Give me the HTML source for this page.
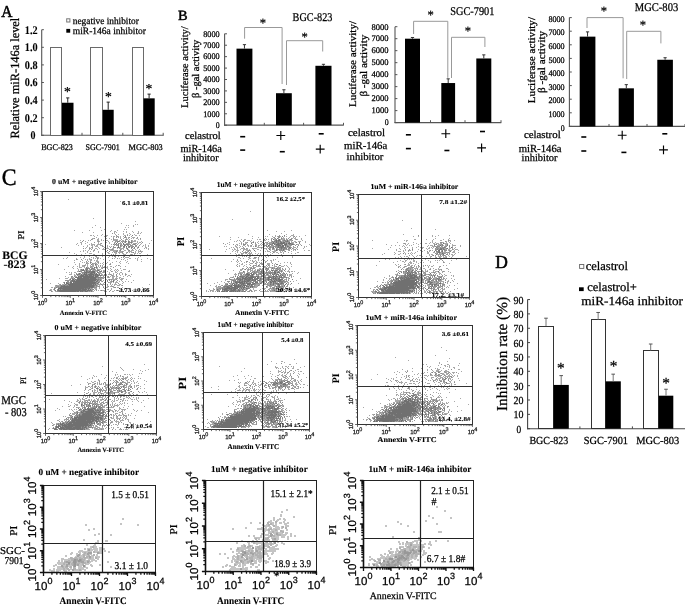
<!DOCTYPE html>
<html><head><meta charset="utf-8"><style>
html,body{margin:0;padding:0;background:#fff;}
svg{display:block;font-family:"Liberation Serif",serif;}
text{text-rendering:geometricPrecision;stroke:#000;stroke-width:0.25px;}
text[font-weight=bold]{stroke-width:0.1px;}
svg{filter:blur(0.5px);}
</style></head><body>
<svg width="685" height="610" viewBox="0 0 685 610">
<rect width="685" height="610" fill="#fff"/>
<text x="1.30" y="16.70" font-size="16.60" textLength="11.20" lengthAdjust="spacingAndGlyphs" style="stroke-width:0.5px">A</text>
<rect x="66.70" y="18.80" width="3.20" height="3.20" fill="#fff" stroke="#777" stroke-width="1.0"/>
<text x="72.80" y="23.50" font-size="9.60" textLength="66.00" lengthAdjust="spacingAndGlyphs">negative inhibitor</text>
<rect x="66.30" y="28.90" width="3.90" height="3.80" fill="#000"/>
<text x="72.80" y="34.10" font-size="9.80" textLength="73.20" lengthAdjust="spacingAndGlyphs">miR-146a inhibitor</text>
<text transform="translate(19.30,138.60) rotate(-90)" font-size="12.60" textLength="120.90" lengthAdjust="spacingAndGlyphs">Relative miR-146a level</text>
<line x1="41.70" y1="135.30" x2="43.90" y2="135.30" stroke="#555" stroke-width="1.0"/>
<text x="30.60" y="139.20" font-size="11.80" font-weight="bold" textLength="5.00" lengthAdjust="spacingAndGlyphs">0</text>
<line x1="41.70" y1="117.70" x2="43.90" y2="117.70" stroke="#555" stroke-width="1.0"/>
<text x="24.80" y="121.60" font-size="11.80" font-weight="bold" textLength="12.80" lengthAdjust="spacingAndGlyphs">0.2</text>
<line x1="41.70" y1="100.10" x2="43.90" y2="100.10" stroke="#555" stroke-width="1.0"/>
<text x="24.80" y="104.00" font-size="11.80" font-weight="bold" textLength="12.80" lengthAdjust="spacingAndGlyphs">0.4</text>
<line x1="41.70" y1="82.50" x2="43.90" y2="82.50" stroke="#555" stroke-width="1.0"/>
<text x="24.80" y="86.40" font-size="11.80" font-weight="bold" textLength="12.80" lengthAdjust="spacingAndGlyphs">0.6</text>
<line x1="41.70" y1="64.90" x2="43.90" y2="64.90" stroke="#555" stroke-width="1.0"/>
<text x="24.80" y="68.80" font-size="11.80" font-weight="bold" textLength="12.80" lengthAdjust="spacingAndGlyphs">0.8</text>
<line x1="41.70" y1="47.30" x2="43.90" y2="47.30" stroke="#555" stroke-width="1.0"/>
<text x="24.80" y="51.20" font-size="11.80" font-weight="bold" textLength="12.80" lengthAdjust="spacingAndGlyphs">1.0</text>
<line x1="41.70" y1="29.70" x2="43.90" y2="29.70" stroke="#555" stroke-width="1.0"/>
<text x="24.80" y="33.60" font-size="11.80" font-weight="bold" textLength="12.80" lengthAdjust="spacingAndGlyphs">1.2</text>
<line x1="41.70" y1="29.70" x2="41.70" y2="135.80" stroke="#555" stroke-width="1.1"/>
<line x1="41.20" y1="135.30" x2="163.70" y2="135.30" stroke="#555" stroke-width="1.1"/>
<line x1="82.00" y1="132.80" x2="82.00" y2="135.30" stroke="#555" stroke-width="1.0"/>
<line x1="122.80" y1="132.80" x2="122.80" y2="135.30" stroke="#555" stroke-width="1.0"/>
<line x1="163.20" y1="132.80" x2="163.20" y2="135.30" stroke="#555" stroke-width="1.0"/>
<rect x="50.50" y="47.50" width="11.00" height="88.00" fill="#fff" stroke="#6a6a6a" stroke-width="1.0"/>
<rect x="62.00" y="102.74" width="11.50" height="32.56" fill="#000"/>
<line x1="67.75" y1="102.74" x2="67.75" y2="97.90" stroke="#222" stroke-width="1.0"/>
<line x1="66.15" y1="97.90" x2="69.35" y2="97.90" stroke="#222" stroke-width="1.0"/>
<text x="63.98" y="96.05" font-size="13.66">*</text>
<rect x="90.50" y="47.50" width="12.00" height="88.00" fill="#fff" stroke="#6a6a6a" stroke-width="1.0"/>
<rect x="102.70" y="109.78" width="11.00" height="25.52" fill="#000"/>
<line x1="108.20" y1="109.78" x2="108.20" y2="102.12" stroke="#222" stroke-width="1.0"/>
<line x1="106.60" y1="102.12" x2="109.80" y2="102.12" stroke="#222" stroke-width="1.0"/>
<text x="105.08" y="101.05" font-size="13.66">*</text>
<rect x="132.50" y="47.50" width="11.00" height="88.00" fill="#fff" stroke="#6a6a6a" stroke-width="1.0"/>
<rect x="143.50" y="98.34" width="11.20" height="36.96" fill="#000"/>
<line x1="149.10" y1="98.34" x2="149.10" y2="94.12" stroke="#222" stroke-width="1.0"/>
<line x1="147.50" y1="94.12" x2="150.70" y2="94.12" stroke="#222" stroke-width="1.0"/>
<text x="145.48" y="92.95" font-size="13.66">*</text>
<text x="41.20" y="150.40" font-size="8.60" textLength="31.70" lengthAdjust="spacingAndGlyphs">BGC-823</text>
<text x="85.60" y="150.40" font-size="8.60" textLength="34.30" lengthAdjust="spacingAndGlyphs">SGC-7901</text>
<text x="128.50" y="150.40" font-size="8.60" textLength="34.30" lengthAdjust="spacingAndGlyphs">MGC-803</text>
<text x="177.90" y="19.60" font-size="14.00" textLength="9.60" lengthAdjust="spacingAndGlyphs" style="stroke-width:0.5px">B</text>
<line x1="224.60" y1="125.20" x2="227.00" y2="125.20" stroke="#555" stroke-width="1.0"/>
<text x="215.70" y="128.00" font-size="8.60" textLength="3.90" lengthAdjust="spacingAndGlyphs">0</text>
<line x1="224.60" y1="113.78" x2="227.00" y2="113.78" stroke="#555" stroke-width="1.0"/>
<text x="203.20" y="116.58" font-size="8.60" textLength="16.40" lengthAdjust="spacingAndGlyphs">1000</text>
<line x1="224.60" y1="102.35" x2="227.00" y2="102.35" stroke="#555" stroke-width="1.0"/>
<text x="203.20" y="105.15" font-size="8.60" textLength="16.40" lengthAdjust="spacingAndGlyphs">2000</text>
<line x1="224.60" y1="90.92" x2="227.00" y2="90.92" stroke="#555" stroke-width="1.0"/>
<text x="203.20" y="93.72" font-size="8.60" textLength="16.40" lengthAdjust="spacingAndGlyphs">3000</text>
<line x1="224.60" y1="79.50" x2="227.00" y2="79.50" stroke="#555" stroke-width="1.0"/>
<text x="203.20" y="82.30" font-size="8.60" textLength="16.40" lengthAdjust="spacingAndGlyphs">4000</text>
<line x1="224.60" y1="68.08" x2="227.00" y2="68.08" stroke="#555" stroke-width="1.0"/>
<text x="203.20" y="70.88" font-size="8.60" textLength="16.40" lengthAdjust="spacingAndGlyphs">5000</text>
<line x1="224.60" y1="56.65" x2="227.00" y2="56.65" stroke="#555" stroke-width="1.0"/>
<text x="203.20" y="59.45" font-size="8.60" textLength="16.40" lengthAdjust="spacingAndGlyphs">6000</text>
<line x1="224.60" y1="45.22" x2="227.00" y2="45.22" stroke="#555" stroke-width="1.0"/>
<text x="203.20" y="48.02" font-size="8.60" textLength="16.40" lengthAdjust="spacingAndGlyphs">7000</text>
<line x1="224.60" y1="33.80" x2="227.00" y2="33.80" stroke="#555" stroke-width="1.0"/>
<text x="203.20" y="36.60" font-size="8.60" textLength="16.40" lengthAdjust="spacingAndGlyphs">8000</text>
<line x1="224.60" y1="33.80" x2="224.60" y2="125.70" stroke="#555" stroke-width="1.1"/>
<line x1="224.10" y1="125.20" x2="343.70" y2="125.20" stroke="#555" stroke-width="1.2"/>
<line x1="264.30" y1="122.80" x2="264.30" y2="125.20" stroke="#555" stroke-width="1.0"/>
<line x1="303.60" y1="122.80" x2="303.60" y2="125.20" stroke="#555" stroke-width="1.0"/>
<line x1="343.50" y1="122.80" x2="343.50" y2="125.20" stroke="#555" stroke-width="1.0"/>
<rect x="236.50" y="48.65" width="15.90" height="76.55" fill="#000"/>
<line x1="244.45" y1="48.65" x2="244.45" y2="44.65" stroke="#333" stroke-width="1.0"/>
<line x1="242.85" y1="44.65" x2="246.05" y2="44.65" stroke="#333" stroke-width="1.0"/>
<rect x="276.00" y="93.21" width="15.80" height="31.99" fill="#000"/>
<line x1="283.90" y1="93.21" x2="283.90" y2="89.78" stroke="#333" stroke-width="1.0"/>
<line x1="282.30" y1="89.78" x2="285.50" y2="89.78" stroke="#333" stroke-width="1.0"/>
<rect x="315.40" y="65.79" width="16.10" height="59.41" fill="#000"/>
<line x1="323.45" y1="65.79" x2="323.45" y2="64.30" stroke="#333" stroke-width="1.0"/>
<line x1="321.85" y1="64.30" x2="325.05" y2="64.30" stroke="#333" stroke-width="1.0"/>
<path d="M244.6 38.7V27.5H282.1V84" stroke="#999" stroke-width="1.0" fill="none"/>
<path d="M286.5 85V40.7H322.7V51.5" stroke="#999" stroke-width="1.0" fill="none"/>
<text x="259.66" y="26.93" font-size="12.57">*</text>
<text x="301.46" y="40.73" font-size="12.57">*</text>
<text x="292.60" y="20.90" font-size="11.80" textLength="39.80" lengthAdjust="spacingAndGlyphs">BGC-823</text>
<text transform="translate(188.00,108.00) rotate(-90)" font-size="10.20" textLength="81.80" lengthAdjust="spacingAndGlyphs">Luciferase activity/</text>
<text transform="translate(198.50,98.00) rotate(-90)" font-size="10.20" textLength="58.31" lengthAdjust="spacingAndGlyphs">β -gal activity</text>
<text x="185.00" y="138.60" font-size="10.60" textLength="35.70" lengthAdjust="spacingAndGlyphs">celastrol</text>
<text x="180.50" y="151.60" font-size="10.80" textLength="41.29" lengthAdjust="spacingAndGlyphs">miR-146a</text>
<text x="182.90" y="161.40" font-size="10.40" textLength="35.70" lengthAdjust="spacingAndGlyphs">inhibitor</text>
<path d="M240.20 136.70H245.20" stroke="#000" stroke-width="1.6" fill="none"/>
<path d="M276.40 135.50H285.20M280.80 131.10V139.90" stroke="#000" stroke-width="1.15" fill="none"/>
<path d="M318.70 133.80H323.70" stroke="#000" stroke-width="1.6" fill="none"/>
<path d="M240.20 150.10H245.20" stroke="#000" stroke-width="1.6" fill="none"/>
<path d="M279.80 151.70H284.80" stroke="#000" stroke-width="1.6" fill="none"/>
<path d="M315.80 149.10H324.60M320.20 144.70V153.50" stroke="#000" stroke-width="1.15" fill="none"/>
<line x1="395.00" y1="122.60" x2="397.40" y2="122.60" stroke="#555" stroke-width="1.0"/>
<text x="384.70" y="125.40" font-size="8.60" textLength="3.90" lengthAdjust="spacingAndGlyphs">0</text>
<line x1="395.00" y1="110.61" x2="397.40" y2="110.61" stroke="#555" stroke-width="1.0"/>
<text x="371.60" y="113.41" font-size="8.60" textLength="17.00" lengthAdjust="spacingAndGlyphs">1000</text>
<line x1="395.00" y1="98.62" x2="397.40" y2="98.62" stroke="#555" stroke-width="1.0"/>
<text x="371.60" y="101.42" font-size="8.60" textLength="17.00" lengthAdjust="spacingAndGlyphs">2000</text>
<line x1="395.00" y1="86.64" x2="397.40" y2="86.64" stroke="#555" stroke-width="1.0"/>
<text x="371.60" y="89.44" font-size="8.60" textLength="17.00" lengthAdjust="spacingAndGlyphs">3000</text>
<line x1="395.00" y1="74.65" x2="397.40" y2="74.65" stroke="#555" stroke-width="1.0"/>
<text x="371.60" y="77.45" font-size="8.60" textLength="17.00" lengthAdjust="spacingAndGlyphs">4000</text>
<line x1="395.00" y1="62.66" x2="397.40" y2="62.66" stroke="#555" stroke-width="1.0"/>
<text x="371.60" y="65.46" font-size="8.60" textLength="17.00" lengthAdjust="spacingAndGlyphs">5000</text>
<line x1="395.00" y1="50.67" x2="397.40" y2="50.67" stroke="#555" stroke-width="1.0"/>
<text x="371.60" y="53.47" font-size="8.60" textLength="17.00" lengthAdjust="spacingAndGlyphs">6000</text>
<line x1="395.00" y1="38.69" x2="397.40" y2="38.69" stroke="#555" stroke-width="1.0"/>
<text x="371.60" y="41.49" font-size="8.60" textLength="17.00" lengthAdjust="spacingAndGlyphs">7000</text>
<line x1="395.00" y1="26.70" x2="397.40" y2="26.70" stroke="#555" stroke-width="1.0"/>
<text x="371.60" y="29.50" font-size="8.60" textLength="17.00" lengthAdjust="spacingAndGlyphs">8000</text>
<line x1="395.00" y1="26.70" x2="395.00" y2="123.10" stroke="#555" stroke-width="1.1"/>
<line x1="394.50" y1="122.60" x2="501.30" y2="122.60" stroke="#555" stroke-width="1.2"/>
<line x1="430.50" y1="120.20" x2="430.50" y2="122.60" stroke="#555" stroke-width="1.0"/>
<line x1="465.00" y1="120.20" x2="465.00" y2="122.60" stroke="#555" stroke-width="1.0"/>
<line x1="501.00" y1="120.20" x2="501.00" y2="122.60" stroke="#555" stroke-width="1.0"/>
<rect x="405.00" y="38.69" width="15.00" height="83.91" fill="#000"/>
<line x1="412.50" y1="38.69" x2="412.50" y2="37.49" stroke="#333" stroke-width="1.0"/>
<line x1="410.90" y1="37.49" x2="414.10" y2="37.49" stroke="#333" stroke-width="1.0"/>
<rect x="441.30" y="83.04" width="13.80" height="39.56" fill="#000"/>
<line x1="448.20" y1="83.04" x2="448.20" y2="78.85" stroke="#333" stroke-width="1.0"/>
<line x1="446.60" y1="78.85" x2="449.80" y2="78.85" stroke="#333" stroke-width="1.0"/>
<rect x="476.30" y="58.47" width="15.00" height="64.13" fill="#000"/>
<line x1="483.80" y1="58.47" x2="483.80" y2="54.87" stroke="#333" stroke-width="1.0"/>
<line x1="482.20" y1="54.87" x2="485.40" y2="54.87" stroke="#333" stroke-width="1.0"/>
<path d="M413.6 34V21.3H447.8V77.8" stroke="#999" stroke-width="1.0" fill="none"/>
<path d="M451.5 78V37.3H484.9V47" stroke="#999" stroke-width="1.0" fill="none"/>
<text x="427.46" y="19.13" font-size="12.57">*</text>
<text x="464.66" y="35.13" font-size="12.57">*</text>
<text x="450.20" y="14.90" font-size="11.80" textLength="44.20" lengthAdjust="spacingAndGlyphs">SGC-7901</text>
<text transform="translate(356.00,107.00) rotate(-90)" font-size="10.20" textLength="86.10" lengthAdjust="spacingAndGlyphs">Luciferase activity/</text>
<text transform="translate(366.80,96.60) rotate(-90)" font-size="10.20" textLength="61.91" lengthAdjust="spacingAndGlyphs">β -gal activity</text>
<text x="347.90" y="136.30" font-size="10.60" textLength="37.30" lengthAdjust="spacingAndGlyphs">celastrol</text>
<text x="344.00" y="149.40" font-size="10.80" textLength="43.29" lengthAdjust="spacingAndGlyphs">miR-146a</text>
<text x="346.60" y="160.00" font-size="10.40" textLength="36.80" lengthAdjust="spacingAndGlyphs">inhibitor</text>
<path d="M405.90 134.80H410.90" stroke="#000" stroke-width="1.6" fill="none"/>
<path d="M441.40 133.70H450.20M445.80 129.30V138.10" stroke="#000" stroke-width="1.15" fill="none"/>
<path d="M480.00 131.50H485.00" stroke="#000" stroke-width="1.6" fill="none"/>
<path d="M405.90 148.60H410.90" stroke="#000" stroke-width="1.6" fill="none"/>
<path d="M444.40 150.50H449.40" stroke="#000" stroke-width="1.6" fill="none"/>
<path d="M477.20 147.80H486.00M481.60 143.40V152.20" stroke="#000" stroke-width="1.15" fill="none"/>
<line x1="569.40" y1="126.40" x2="571.80" y2="126.40" stroke="#555" stroke-width="1.0"/>
<text x="560.70" y="130.50" font-size="8.60" textLength="3.90" lengthAdjust="spacingAndGlyphs">0</text>
<line x1="569.40" y1="112.80" x2="571.80" y2="112.80" stroke="#555" stroke-width="1.0"/>
<text x="548.40" y="116.90" font-size="8.60" textLength="16.20" lengthAdjust="spacingAndGlyphs">1000</text>
<line x1="569.40" y1="99.20" x2="571.80" y2="99.20" stroke="#555" stroke-width="1.0"/>
<text x="548.40" y="103.30" font-size="8.60" textLength="16.20" lengthAdjust="spacingAndGlyphs">2000</text>
<line x1="569.40" y1="85.60" x2="571.80" y2="85.60" stroke="#555" stroke-width="1.0"/>
<text x="548.40" y="89.70" font-size="8.60" textLength="16.20" lengthAdjust="spacingAndGlyphs">3000</text>
<line x1="569.40" y1="72.00" x2="571.80" y2="72.00" stroke="#555" stroke-width="1.0"/>
<text x="548.40" y="76.10" font-size="8.60" textLength="16.20" lengthAdjust="spacingAndGlyphs">4000</text>
<line x1="569.40" y1="58.40" x2="571.80" y2="58.40" stroke="#555" stroke-width="1.0"/>
<text x="548.40" y="62.50" font-size="8.60" textLength="16.20" lengthAdjust="spacingAndGlyphs">5000</text>
<line x1="569.40" y1="44.80" x2="571.80" y2="44.80" stroke="#555" stroke-width="1.0"/>
<text x="548.40" y="48.90" font-size="8.60" textLength="16.20" lengthAdjust="spacingAndGlyphs">6000</text>
<line x1="569.40" y1="31.20" x2="571.80" y2="31.20" stroke="#555" stroke-width="1.0"/>
<text x="548.40" y="35.30" font-size="8.60" textLength="16.20" lengthAdjust="spacingAndGlyphs">7000</text>
<line x1="569.40" y1="17.60" x2="571.80" y2="17.60" stroke="#555" stroke-width="1.0"/>
<text x="548.40" y="21.70" font-size="8.60" textLength="16.20" lengthAdjust="spacingAndGlyphs">8000</text>
<line x1="569.40" y1="17.60" x2="569.40" y2="126.90" stroke="#555" stroke-width="1.1"/>
<line x1="568.90" y1="126.40" x2="685.00" y2="126.40" stroke="#555" stroke-width="1.2"/>
<line x1="609.00" y1="124.00" x2="609.00" y2="126.40" stroke="#555" stroke-width="1.0"/>
<line x1="647.00" y1="124.00" x2="647.00" y2="126.40" stroke="#555" stroke-width="1.0"/>
<line x1="685.00" y1="124.00" x2="685.00" y2="126.40" stroke="#555" stroke-width="1.0"/>
<rect x="579.70" y="36.64" width="15.70" height="89.76" fill="#000"/>
<line x1="587.55" y1="36.64" x2="587.55" y2="31.88" stroke="#333" stroke-width="1.0"/>
<line x1="585.95" y1="31.88" x2="589.15" y2="31.88" stroke="#333" stroke-width="1.0"/>
<rect x="618.70" y="88.32" width="15.20" height="38.08" fill="#000"/>
<line x1="626.30" y1="88.32" x2="626.30" y2="84.65" stroke="#333" stroke-width="1.0"/>
<line x1="624.70" y1="84.65" x2="627.90" y2="84.65" stroke="#333" stroke-width="1.0"/>
<rect x="657.30" y="59.76" width="15.60" height="66.64" fill="#000"/>
<line x1="665.10" y1="59.76" x2="665.10" y2="57.72" stroke="#333" stroke-width="1.0"/>
<line x1="663.50" y1="57.72" x2="666.70" y2="57.72" stroke="#333" stroke-width="1.0"/>
<path d="M587 28V17.6H623.1V78.3" stroke="#999" stroke-width="1.0" fill="none"/>
<path d="M626.7 79V31.3H660.9V43.4" stroke="#999" stroke-width="1.0" fill="none"/>
<text x="600.66" y="15.13" font-size="12.57">*</text>
<text x="639.66" y="29.33" font-size="12.57">*</text>
<text x="634.80" y="11.20" font-size="11.80" textLength="43.40" lengthAdjust="spacingAndGlyphs">MGC-803</text>
<text transform="translate(534.60,103.20) rotate(-90)" font-size="10.40" textLength="86.20" lengthAdjust="spacingAndGlyphs">Luciferase activity/</text>
<text transform="translate(544.60,92.90) rotate(-90)" font-size="10.40" textLength="62.11" lengthAdjust="spacingAndGlyphs">β -gal activity</text>
<text x="523.90" y="138.40" font-size="10.60" textLength="36.80" lengthAdjust="spacingAndGlyphs">celastrol</text>
<text x="518.70" y="152.00" font-size="10.80" textLength="42.79" lengthAdjust="spacingAndGlyphs">miR-146a</text>
<text x="521.60" y="161.20" font-size="10.40" textLength="35.90" lengthAdjust="spacingAndGlyphs">inhibitor</text>
<path d="M581.30 137.00H586.30" stroke="#000" stroke-width="1.6" fill="none"/>
<path d="M617.80 135.20H626.60M622.20 130.80V139.60" stroke="#000" stroke-width="1.15" fill="none"/>
<path d="M662.30 133.80H667.30" stroke="#000" stroke-width="1.6" fill="none"/>
<path d="M581.30 151.00H586.30" stroke="#000" stroke-width="1.6" fill="none"/>
<path d="M621.40 152.40H626.40" stroke="#000" stroke-width="1.6" fill="none"/>
<path d="M659.10 149.80H667.90M663.50 145.40V154.20" stroke="#000" stroke-width="1.15" fill="none"/>
<text x="495.20" y="267.80" font-size="18.40" textLength="12.60" lengthAdjust="spacingAndGlyphs" style="stroke-width:0.6px">D</text>
<rect x="579.60" y="264.50" width="4.20" height="3.90" fill="#fff" stroke="#666" stroke-width="0.9"/>
<text x="585.70" y="269.80" font-size="12.40" textLength="42.30" lengthAdjust="spacingAndGlyphs">celastrol</text>
<rect x="579.00" y="287.30" width="4.70" height="3.80" fill="#000"/>
<text x="587.20" y="291.10" font-size="12.40" textLength="49.60" lengthAdjust="spacingAndGlyphs">celastrol+</text>
<text x="581.30" y="304.90" font-size="12.40" textLength="101.70" lengthAdjust="spacingAndGlyphs">miR-146a inhibitor</text>
<line x1="527.60" y1="428.70" x2="530.00" y2="428.70" stroke="#444" stroke-width="1.0"/>
<text x="516.60" y="432.70" font-size="10.80" textLength="4.70" lengthAdjust="spacingAndGlyphs">0</text>
<line x1="527.60" y1="414.35" x2="530.00" y2="414.35" stroke="#444" stroke-width="1.0"/>
<text x="513.60" y="418.35" font-size="10.80" textLength="10.00" lengthAdjust="spacingAndGlyphs">10</text>
<line x1="527.60" y1="400.00" x2="530.00" y2="400.00" stroke="#444" stroke-width="1.0"/>
<text x="513.60" y="404.00" font-size="10.80" textLength="10.00" lengthAdjust="spacingAndGlyphs">20</text>
<line x1="527.60" y1="385.65" x2="530.00" y2="385.65" stroke="#444" stroke-width="1.0"/>
<text x="513.60" y="389.65" font-size="10.80" textLength="10.00" lengthAdjust="spacingAndGlyphs">30</text>
<line x1="527.60" y1="371.30" x2="530.00" y2="371.30" stroke="#444" stroke-width="1.0"/>
<text x="513.60" y="375.30" font-size="10.80" textLength="10.00" lengthAdjust="spacingAndGlyphs">40</text>
<line x1="527.60" y1="356.95" x2="530.00" y2="356.95" stroke="#444" stroke-width="1.0"/>
<text x="513.60" y="360.95" font-size="10.80" textLength="10.00" lengthAdjust="spacingAndGlyphs">50</text>
<line x1="527.60" y1="342.60" x2="530.00" y2="342.60" stroke="#444" stroke-width="1.0"/>
<text x="513.60" y="346.60" font-size="10.80" textLength="10.00" lengthAdjust="spacingAndGlyphs">60</text>
<line x1="527.60" y1="328.25" x2="530.00" y2="328.25" stroke="#444" stroke-width="1.0"/>
<text x="513.60" y="332.25" font-size="10.80" textLength="10.00" lengthAdjust="spacingAndGlyphs">70</text>
<line x1="527.60" y1="313.90" x2="530.00" y2="313.90" stroke="#444" stroke-width="1.0"/>
<text x="513.60" y="317.90" font-size="10.80" textLength="10.00" lengthAdjust="spacingAndGlyphs">80</text>
<line x1="527.60" y1="299.55" x2="530.00" y2="299.55" stroke="#444" stroke-width="1.0"/>
<text x="513.60" y="303.55" font-size="10.80" textLength="10.00" lengthAdjust="spacingAndGlyphs">90</text>
<line x1="527.60" y1="299.55" x2="527.60" y2="429.20" stroke="#444" stroke-width="1.1"/>
<line x1="527.10" y1="428.70" x2="685.00" y2="428.70" stroke="#444" stroke-width="1.1"/>
<line x1="579.90" y1="426.40" x2="579.90" y2="428.70" stroke="#444" stroke-width="1.0"/>
<line x1="632.40" y1="426.40" x2="632.40" y2="428.70" stroke="#444" stroke-width="1.0"/>
<text transform="translate(507.20,411.00) rotate(-90)" font-size="15.20" textLength="114.00" lengthAdjust="spacingAndGlyphs">Inhibition rate (%)</text>
<rect x="538.50" y="326.50" width="15.00" height="102.00" fill="#fff" stroke="#333" stroke-width="1.0"/>
<line x1="546.00" y1="326.10" x2="546.00" y2="318.20" stroke="#777" stroke-width="1.0"/>
<line x1="544.20" y1="318.20" x2="547.80" y2="318.20" stroke="#555" stroke-width="1.0"/>
<rect x="553.60" y="384.93" width="15.20" height="43.77" fill="#000"/>
<line x1="561.20" y1="384.93" x2="561.20" y2="375.61" stroke="#777" stroke-width="1.0"/>
<line x1="559.40" y1="375.61" x2="563.00" y2="375.61" stroke="#555" stroke-width="1.0"/>
<text x="557.07" y="372.72" font-size="15.30">*</text>
<rect x="591.50" y="319.50" width="14.00" height="109.00" fill="#fff" stroke="#333" stroke-width="1.0"/>
<line x1="598.15" y1="319.64" x2="598.15" y2="312.47" stroke="#777" stroke-width="1.0"/>
<line x1="596.35" y1="312.47" x2="599.95" y2="312.47" stroke="#555" stroke-width="1.0"/>
<rect x="605.60" y="381.34" width="15.20" height="47.36" fill="#000"/>
<line x1="613.20" y1="381.34" x2="613.20" y2="374.17" stroke="#777" stroke-width="1.0"/>
<line x1="611.40" y1="374.17" x2="615.00" y2="374.17" stroke="#555" stroke-width="1.0"/>
<text x="609.67" y="371.42" font-size="15.30">*</text>
<rect x="643.50" y="350.50" width="15.00" height="78.00" fill="#fff" stroke="#333" stroke-width="1.0"/>
<line x1="650.70" y1="350.49" x2="650.70" y2="344.03" stroke="#777" stroke-width="1.0"/>
<line x1="648.90" y1="344.03" x2="652.50" y2="344.03" stroke="#555" stroke-width="1.0"/>
<rect x="658.70" y="395.69" width="14.60" height="33.00" fill="#000"/>
<line x1="666.00" y1="395.69" x2="666.00" y2="389.24" stroke="#777" stroke-width="1.0"/>
<line x1="664.20" y1="389.24" x2="667.80" y2="389.24" stroke="#555" stroke-width="1.0"/>
<text x="662.17" y="388.32" font-size="15.30">*</text>
<text x="529.40" y="443.90" font-size="10.80" textLength="38.80" lengthAdjust="spacingAndGlyphs">BGC-823</text>
<text x="583.70" y="443.90" font-size="10.80" textLength="44.30" lengthAdjust="spacingAndGlyphs">SGC-7901</text>
<text x="636.20" y="443.90" font-size="10.80" textLength="43.00" lengthAdjust="spacingAndGlyphs">MGC-803</text>
<path d="M68 199.5h1m51 2h1m-28 17h1m41 3h1m-15 2h1m13 1h1m1 0h1m-43 1h1m30 0h1m1 0h1m4 0h1m-1 1h1m-42 1h1m7 0h1m24 0h1m2 0h1m-25 2h1m19 0h1m1 0h1m-53 1h1m14 0h1m11 0h1m9 0h1m5 0h1m-8 1h1m3 0h1m0 0h1m7 0h1m2 0h1m5 0h1m5 0h1m-57 1h1m10 0h1m20 0h1m1 0h1m9 0h1m6 0h1m4 0h1m2 0h1m-28 1h1m8 0h1m5 0h1m7 0h1m0 0h1m1 0h1m-39 1h1m12 0h1m2 0h1m4 0h1m3 0h1m2 0h1m3 0h1m-45 1h1m0 0h1m1 0h1m3 0h1m3 0h1m4 0h1m0 0h1m16 0h1m0 0h1m3 0h1m5 0h1m0 0h1m2 0h1m-46 1h1m9 0h1m1 0h1m4 0h1m1 0h1m0 0h1m1 0h1m1 0h1m1 0h1m2 0h1m7 0h1m-36 1h1m16 0h1m6 0h1m5 0h1m1 0h1m3 0h1m0 0h1m0 0h1m-43 1h1m0 0h1m4 0h1m7 0h1m2 0h1m10 0h1m2 0h1m2 0h1m1 0h1m2 0h1m1 0h1m2 0h1m0 0h1m-46 1h1m4 0h1m0 0h1m2 0h1m9 0h1m2 0h1m0 0h1m0 0h1m0 0h1m7 0h1m1 0h1m1 0h1m8 0h1m1 0h1m-61 1h1m7 0h1m1 0h1m6 0h1m0 0h1m2 0h1m1 0h1m2 0h1m0 0h1m5 0h1m0 0h1m0 0h1m1 0h1m1 0h1m0 0h1m1 0h1m0 0h1m4 0h1m3 0h1m1 0h1m0 0h1m15 0h1m-67 1h1m11 0h1m1 0h1m8 0h1m3 0h1m3 0h1m5 0h1m1 0h1m7 0h1m0 0h1m0 0h1m0 0h1m1 0h1m3 0h1m-62 1h1m0 0h1m5 0h1m10 0h1m7 0h1m2 0h1m4 0h1m0 0h1m4 0h1m3 0h1m7 0h1m4 0h1m1 0h1m0 0h1m-64 1h1m3 0h1m3 0h1m5 0h1m6 0h1m1 0h1m8 0h1m9 0h1m0 0h1m0 0h1m4 0h1m0 0h1m1 0h1m1 0h1m1 0h1m0 0h1m1 0h1m1 0h1m2 0h1m7 0h1m-105 1h1m30 0h1m4 0h1m7 0h1m1 0h1m0 0h1m0 0h1m0 0h1m2 0h1m0 0h1m0 0h1m0 0h1m10 0h1m2 0h1m1 0h1m0 0h1m2 0h1m9 0h1m1 0h1m2 0h1m1 0h1m2 0h1m4 0h1m-68 1h1m8 0h1m3 0h1m0 0h1m1 0h1m1 0h1m0 0h1m2 0h1m0 0h1m0 0h1m4 0h1m6 0h1m2 0h1m3 0h1m0 0h1m4 0h1m4 0h1m10 0h1m1 0h1m2 0h1m-66 1h1m3 0h1m4 0h1m2 0h1m0 0h1m0 0h1m5 0h1m3 0h1m1 0h1m1 0h1m9 0h1m8 0h1m0 0h1m4 0h1m1 0h1m3 0h1m2 0h1m2 0h1m-88 1h1m24 0h1m2 0h1m1 0h1m6 0h1m5 0h1m2 0h1m12 0h1m16 0h1m7 0h1m0 0h1m-62 1h1m4 0h1m1 0h1m2 0h1m0 0h1m2 0h1m3 0h1m1 0h1m0 0h1m0 0h1m0 0h1m3 0h1m0 0h1m3 0h1m1 0h1m0 0h1m0 0h1m0 0h1m0 0h1m9 0h1m3 0h1m6 0h1m1 0h1m1 0h1m-60 1h1m4 0h1m2 0h1m4 0h1m0 0h1m0 0h1m0 0h1m4 0h1m2 0h1m7 0h1m1 0h1m4 0h1m6 0h1m3 0h1m8 0h1m-66 1h1m1 0h1m2 0h1m4 0h1m16 0h1m0 0h1m0 0h1m0 0h1m0 0h1m0 0h1m0 0h1m2 0h1m4 0h1m0 0h1m5 0h1m0 0h1m0 0h1m2 0h1m1 0h1m1 0h1m-61 1h1m2 0h1m3 0h1m2 0h1m2 0h1m4 0h1m7 0h1m6 0h1m0 0h1m0 0h1m1 0h1m1 0h1m0 0h1m0 0h1m1 0h1m4 0h1m0 0h1m0 0h1m0 0h1m3 0h1m2 0h1m0 0h1m1 0h1m0 0h1m-74 1h1m17 0h1m10 0h1m8 0h1m0 0h1m3 0h1m2 0h1m0 0h1m1 0h1m0 0h1m0 0h1m0 0h1m4 0h1m2 0h1m1 0h1m0 0h1m2 0h1m2 0h1m2 0h1m-68 1h1m10 0h1m3 0h1m0 0h1m0 0h1m10 0h1m5 0h1m0 0h1m5 0h1m0 0h1m2 0h1m2 0h1m0 0h1m2 0h1m7 0h1m0 0h1m1 0h1m1 0h1m0 0h1m-65 1h1m4 0h1m11 0h1m0 0h1m7 0h1m12 0h1m7 0h1m0 0h1m0 0h1m4 0h1m1 0h1m1 0h1m12 0h1m-67 1h1m3 0h1m5 0h1m4 0h1m1 0h1m3 0h1m6 0h1m12 0h1m2 0h1m5 0h1m2 0h1m4 0h1m-56 1h1m4 0h1m5 0h1m6 0h1m6 0h1m2 0h1m5 0h1m4 0h1m5 0h1m10 0h1m-74 1h1m12 0h1m3 0h1m6 0h1m1 0h1m2 0h1m0 0h1m0 0h1m6 0h1m2 0h1m6 0h1m9 0h1m0 0h1m0 0h1m0 0h1m9 0h1m-76 1h1m2 0h1m9 0h1m6 0h1m5 0h1m3 0h1m1 0h1m2 0h1m1 0h1m4 0h1m8 0h1m4 0h1m4 0h1m4 0h1m0 0h1m4 0h1m1 0h1m9 0h1m-71 1h1m7 0h1m1 0h1m1 0h1m0 0h1m6 0h1m5 0h1m19 0h1m3 0h1m9 0h1m3 0h1m8 0h1m-77 1h1m7 0h1m4 0h1m2 0h1m0 0h1m2 0h1m1 0h1m0 0h1m7 0h1m3 0h1m15 0h1m11 0h1m-58 1h1m7 0h1m1 0h1m5 0h1m0 0h1m0 0h1m17 0h1m3 0h1m6 0h1m13 0h1m-68 1h1m7 0h1m1 0h1m1 0h1m0 0h1m3 0h1m3 0h1m1 0h1m5 0h1m3 0h1m4 0h1m6 0h1m6 0h1m-48 1h1m7 0h1m0 0h1m1 0h1m2 0h1m0 0h1m0 0h1m0 0h1m1 0h1m1 0h1m1 0h1m3 0h1m3 0h1m9 0h1m7 0h1m-71 1h1m16 0h1m3 0h1m5 0h1m1 0h1m4 0h1m0 0h1m2 0h1m0 0h1m5 0h1m1 0h1m3 0h1m-31 1h1m2 0h1m0 0h1m1 0h1m1 0h1m2 0h1m1 0h1m0 0h1m1 0h1m0 0h1m1 0h1m3 0h1m2 0h1m10 0h1m2 0h1m-52 1h1m4 0h1m3 0h1m1 0h1m2 0h1m0 0h1m0 0h1m2 0h1m2 0h1m1 0h1m0 0h1m4 0h1m1 0h1m1 0h1m1 0h1m2 0h1m2 0h1m0 0h1m3 0h1m4 0h1m4 0h1m-54 1h1m6 0h1m0 0h1m0 0h1m2 0h1m2 0h1m0 0h1m2 0h1m0 0h1m2 0h1m1 0h1m1 0h1m1 0h1m0 0h1m3 0h1m0 0h1m-35 1h1m3 0h1m7 0h1m10 0h1m0 0h1m3 0h1m5 0h1m2 0h1m9 0h1m-57 1h1m13 0h1m1 0h1m1 0h1m6 0h1m2 0h1m2 0h1m2 0h1m0 0h1m0 0h1m7 0h1m2 0h1m3 0h1m7 0h1m0 0h1m0 0h1m-48 1h1m1 0h1m4 0h1m2 0h1m0 0h1m2 0h1m1 0h1m1 0h1m2 0h1m1 0h1m1 0h1m0 0h1m0 0h1m4 0h1m3 0h1m1 0h1m1 0h1m2 0h1m7 0h1m-53 1h1m0 0h1m6 0h1m9 0h1m0 0h1m10 0h1m4 0h1m2 0h1m1 0h1m10 0h1m0 0h1m-64 1h1m2 0h1m1 0h1m2 0h1m0 0h1m5 0h1m13 0h1m3 0h1m0 0h1m1 0h1m1 0h1m0 0h1m3 0h1m5 0h1m0 0h1m3 0h1m0 0h1m-51 1h1m6 0h1m4 0h1m3 0h1m0 0h1m6 0h1m2 0h1m1 0h1m0 0h1m7 0h1m3 0h1m3 0h1m1 0h1m2 0h1m2 0h1m-57 1h1m0 0h1m0 0h1m2 0h1m5 0h1m1 0h1m15 0h1m2 0h1m0 0h1m3 0h1m1 0h1m0 0h1m1 0h1m1 0h1m5 0h1m2 0h1m3 0h1m4 0h1m-58 1h1m0 0h1m2 0h1m0 0h1m22 0h1m0 0h1m1 0h1m0 0h1m4 0h1m1 0h1m6 0h1m4 0h1m2 0h1m0 0h1m-65 1h1m9 0h1m0 0h1m17 0h1m3 0h1m1 0h1m4 0h1m1 0h1m2 0h1m1 0h1m0 0h1m0 0h1m1 0h1m0 0h1m5 0h1m3 0h1m2 0h1m-63 1h1m3 0h1m0 0h1m8 0h1m20 0h1m0 0h1m2 0h1m1 0h1m2 0h1m0 0h1m2 0h1m2 0h1m0 0h1m-62 1h1m5 0h1m0 0h1m0 0h1m2 0h1m0 0h1m1 0h1m22 0h1m0 0h1m1 0h1m1 0h1m0 0h1m9 0h1m0 0h1m1 0h1m0 0h1m0 0h1m1 0h1m1 0h1m0 0h1m0 0h1m-78 1h1m22 0h1m4 0h1m26 0h1m4 0h1m1 0h1m1 0h1m1 0h1m0 0h1m0 0h1m0 0h1m4 0h1m0 0h1m0 0h1m3 0h1m-58 1h1m0 0h1m4 0h1m20 0h1m2 0h1m1 0h1m1 0h1m7 0h1m2 0h1m6 0h1m11 0h1m-39 1h1m2 0h1m2 0h1m8 0h1m1 0h1m3 0h1m2 0h1m2 0h1m2 0h1m2 0h1m-66 1h1m5 0h1m27 0h1m1 0h1m9 0h1m0 0h1m0 0h1m1 0h1m1 0h1m0 0h1m0 0h1m5 0h1m7 0h1m-82 1h1m7 0h1m10 0h1m28 0h1m4 0h1m11 0h1m6 0h1m-64 1h1m2 0h1m0 0h1m0 0h1m2 0h1m28 0h1m0 0h1m1 0h1m0 0h1m1 0h1m0 0h1m0 0h1m5 0h1m1 0h1m1 0h1m0 0h1m0 0h1m2 0h1m0 0h1m28 0h1m-95 1h1m1 0h1m0 0h1m0 0h1m37 0h1m1 0h1m5 0h1m1 0h1m3 0h1m2 0h1m2 0h1m0 0h1m0 0h1m1 0h1m-67 1h1m0 0h1m2 0h1m35 0h1m1 0h1m5 0h1m1 0h1m1 0h1m2 0h1m0 0h1m1 0h1m-63 1h1m0 0h1m1 0h1m0 0h1m1 0h1m41 0h1m6 0h1m0 0h1m5 0h1m3 0h1m0 0h1m3 0h1m19 0h1m-88 1h1m34 0h1m1 0h1m1 0h1m0 0h1m0 0h1m2 0h1m4 0h1m6 0h1m7 0h1m9 0h1m-80 1h1m0 0h1m1 0h1m5 0h1m27 0h1m1 0h1m1 0h1m3 0h1m9 0h1m1 0h1m0 0h1m2 0h1m9 0h1m0 0h1m1 0h1m-76 1h1m1 0h1m2 0h1m37 0h1m1 0h1m3 0h1m1 0h1m1 0h1m0 0h1m0 0h1m9 0h1m3 0h1m0 0h1m1 0h1m10 0h1m-81 1h1m2 0h1m0 0h1m22 0h1m8 0h1m1 0h1m1 0h1m0 0h1m10 0h1m1 0h1m5 0h1m0 0h1m12 0h1m3 0h1m12 0h1" stroke="#a8a8a8" stroke-width="1" fill="none" shape-rendering="crispEdges"/>
<path d="M112 233.5h1m3 2h1m10 0h1m-11 1h1m-2 1h1m1 0h1m5 0h1m0 0h1m3 0h1m7 0h1m-44 1h1m18 0h1m26 0h1m-50 1h1m21 0h1m7 0h1m4 0h1m-44 1h1m32 0h1m8 0h1m5 0h1m-50 1h1m15 0h1m16 0h1m1 0h1m1 0h1m1 0h1m1 0h1m2 0h1m2 0h1m1 0h1m-38 1h1m27 0h1m6 0h1m0 0h1m11 0h1m-42 1h1m12 0h1m3 0h1m9 0h1m6 0h1m-23 1h1m7 0h1m2 0h1m0 0h1m2 0h1m0 0h1m3 0h1m-18 1h1m8 0h1m2 0h1m1 0h1m0 0h1m3 0h1m0 0h1m2 0h1m-38 1h1m10 0h1m6 0h1m7 0h1m3 0h1m0 0h1m1 0h1m-44 1h1m17 0h1m2 0h1m0 0h1m0 0h1m1 0h1m1 0h1m3 0h1m0 0h1m1 0h1m1 0h1m0 0h1m2 0h1m-50 1h1m5 0h1m36 0h1m4 0h1m2 0h1m-44 1h1m17 0h1m1 0h1m0 0h1m7 0h1m6 0h1m4 0h1m-39 1h1m22 0h1m10 0h1m-20 1h1m12 0h1m17 0h1m-27 1h1m7 0h1m4 0h1m-17 2h1m1 0h1m17 0h1m-9 1h1m2 0h1m-31 1h1m17 0h1m0 0h1m5 1h1m1 0h1m-12 1h1m4 0h1m-42 1h1m4 0h1m9 0h1m29 0h1m-36 2h1m11 1h1m-13 1h1m5 0h1m17 1h1m-27 1h1m15 0h1m17 0h1m-28 1h1m-2 1h1m13 0h1m8 0h1m-26 1h1m0 0h1m1 0h1m1 0h1m0 0h1m7 0h1m-18 1h1m4 0h1m2 0h1m3 0h1m19 0h1m-37 1h1m2 0h1m2 0h1m5 0h1m1 0h1m-16 1h1m0 0h1m6 0h1m8 0h1m1 0h1m3 0h1m0 0h1m6 0h1m-30 1h1m0 0h1m19 0h1m-28 1h1m3 0h1m1 0h1m2 0h1m3 0h1m3 0h1m5 0h1m-24 1h1m10 0h1m6 0h1m9 0h1m5 0h1m5 0h1m8 0h1m-49 1h1m6 0h1m3 0h1m3 0h1m1 0h1m4 0h1m4 0h1m7 0h1m3 0h1m-46 1h1m0 0h1m1 0h1m28 0h1m4 0h1m-38 1h1m25 0h1m2 0h1m1 0h1m5 0h1m-11 1h1m1 0h1m2 0h1m1 0h1m-30 1h1m20 0h1m1 0h1m0 0h1m10 0h1m4 0h1m-52 1h1m0 0h1m0 0h1m0 0h1m29 0h1m10 0h1m7 0h1m-51 1h1m0 0h1m30 0h1m2 0h1m4 0h1m3 0h1m-45 1h1m0 0h1m27 0h1m11 0h1m-13 1h1m3 0h1m9 0h1m7 0h1m-59 1h1m5 0h1m25 0h1m1 0h1m3 0h1m8 0h1m-52 1h1m3 0h1m1 0h1m2 0h1m0 0h1m1 0h1m26 0h1m6 0h1m19 0h1m-66 1h1m0 0h1m1 0h1m33 0h1m1 0h1m1 0h1m0 0h1m8 0h1m3 0h1m-55 1h1m0 0h1m34 0h1m0 0h1m0 0h1m17 0h1m0 0h1m-25 1h1m-35 1h1m3 0h1m30 0h1m3 0h1m-47 1h1m35 0h1m9 0h1m13 0h1m5 0h1m-66 1h1m5 0h1m0 0h1m24 0h1m0 0h1m4 0h1m19 0h1m10 0h1m1 0h1" stroke="#909090" stroke-width="1" fill="none" shape-rendering="crispEdges"/>
<path d="M132 235.5h1m-8 1h1m-8 5h1m6 0h1m2 0h1m-12 1h1m7 0h1m2 0h1m2 0h1m-17 2h1m2 0h1m4 0h1m2 0h1m0 0h1m6 0h1m-17 1h1m1 0h1m-3 1h1m4 0h1m0 0h1m6 1h1m2 0h1m3 0h1m-12 1h1m-8 2h1m8 0h1m-14 1h1m16 1h1m-10 4h1m-28 2h1m-8 4h1m0 2h1m4 2h1m-11 1h1m16 0h1m-18 1h1m0 0h1m4 0h1m12 0h1m-25 1h1m4 0h1m0 0h1m3 0h1m2 0h1m-5 1h1m6 0h1m-14 1h1m2 0h1m2 0h1m0 0h1m8 0h1m0 0h1m-18 1h1m2 0h1m1 0h1m0 0h1m6 0h1m0 0h1m-7 1h1m-16 1h1m0 0h1m0 0h1m3 0h1m-4 1h1m15 0h1m4 0h1m-23 1h1m-5 1h1m1 0h1m1 0h1m16 0h1m1 0h1m0 0h1m1 0h1m-30 1h1m1 0h1m14 0h1m-18 1h1m25 0h1m10 0h1m-39 1h1m1 0h1m33 0h1m5 0h1m-44 1h1m0 0h1m0 0h1m20 0h1m0 0h1m2 0h1m-34 1h1m9 0h1m29 0h1m-41 1h1m3 0h1m26 0h1m-31 1h1m35 0h1m-41 1h1m1 0h1m3 0h1m26 0h1m1 0h1m-41 2h1m5 0h1m25 0h1m1 0h1m2 0h1m9 0h1m-50 1h1m29 0h1m1 0h1m0 0h1m-34 1h1m7 0h1m18 0h1m11 0h1m-39 1h1m1 0h1m32 0h1m0 0h1m9 0h1m-43 1h1m16 0h1m4 0h1m5 0h1m3 0h1" stroke="#7e7e7e" stroke-width="1" fill="none" shape-rendering="crispEdges"/>
<path d="M116 243.5h1m6 0h1m0 2h1m1 1h1m2 0h1m-12 1h1m-12 3h1m-13 14h1m-2 3h1m1 0h1m-14 2h1m-2 1h1m0 0h1m2 0h1m11 0h1m-20 1h1m6 0h1m2 0h1m2 0h1m0 0h1m0 0h1m-10 1h1m0 0h1m1 0h1m2 0h1m0 0h1m0 0h1m0 0h1m-16 1h1m4 0h1m1 0h1m3 0h1m0 0h1m2 0h1m1 0h1m-16 1h1m2 0h1m0 0h1m0 0h1m1 0h1m0 0h1m0 0h1m0 0h1m0 0h1m0 0h1m1 0h1m0 0h1m0 0h1m1 0h1m-19 1h1m0 0h1m0 0h1m1 0h1m0 0h1m0 0h1m1 0h1m0 0h1m0 0h1m1 0h1m1 0h1m1 0h1m0 0h1m1 0h1m-23 1h1m1 0h1m0 0h1m0 0h1m0 0h1m0 0h1m0 0h1m0 0h1m0 0h1m0 0h1m0 0h1m0 0h1m0 0h1m0 0h1m0 0h1m1 0h1m0 0h1m0 0h1m-22 1h1m1 0h1m1 0h1m0 0h1m1 0h1m0 0h1m0 0h1m0 0h1m0 0h1m0 0h1m0 0h1m0 0h1m0 0h1m0 0h1m0 0h1m0 0h1m0 0h1m-19 1h1m0 0h1m0 0h1m0 0h1m0 0h1m0 0h1m0 0h1m0 0h1m0 0h1m0 0h1m0 0h1m0 0h1m1 0h1m0 0h1m0 0h1m0 0h1m0 0h1m0 0h1m-26 1h1m2 0h1m1 0h1m1 0h1m0 0h1m0 0h1m0 0h1m0 0h1m0 0h1m0 0h1m0 0h1m0 0h1m0 0h1m0 0h1m0 0h1m0 0h1m0 0h1m0 0h1m0 0h1m0 0h1m0 0h1m0 0h1m0 0h1m-25 1h1m1 0h1m1 0h1m0 0h1m0 0h1m0 0h1m0 0h1m0 0h1m0 0h1m0 0h1m0 0h1m0 0h1m0 0h1m0 0h1m0 0h1m0 0h1m0 0h1m0 0h1m0 0h1m0 0h1m0 0h1m0 0h1m1 0h1m2 0h1m-28 1h1m0 0h1m0 0h1m0 0h1m0 0h1m0 0h1m0 0h1m0 0h1m0 0h1m0 0h1m0 0h1m0 0h1m0 0h1m0 0h1m0 0h1m0 0h1m0 0h1m0 0h1m0 0h1m0 0h1m3 0h1m16 0h1m-48 1h1m3 0h1m0 0h1m1 0h1m1 0h1m0 0h1m0 0h1m0 0h1m0 0h1m0 0h1m0 0h1m0 0h1m0 0h1m0 0h1m0 0h1m0 0h1m0 0h1m0 0h1m0 0h1m0 0h1m0 0h1m0 0h1m0 0h1m0 0h1m0 0h1m2 0h1m-33 1h1m0 0h1m2 0h1m0 0h1m0 0h1m0 0h1m0 0h1m0 0h1m0 0h1m0 0h1m0 0h1m0 0h1m0 0h1m0 0h1m0 0h1m0 0h1m0 0h1m0 0h1m0 0h1m0 0h1m0 0h1m0 0h1m0 0h1m0 0h1m0 0h1m0 0h1m0 0h1m2 0h1m-30 1h1m0 0h1m0 0h1m0 0h1m0 0h1m0 0h1m0 0h1m0 0h1m0 0h1m0 0h1m0 0h1m0 0h1m0 0h1m0 0h1m0 0h1m0 0h1m0 0h1m0 0h1m0 0h1m0 0h1m0 0h1m0 0h1m0 0h1m0 0h1m1 0h1m1 0h1m-32 1h1m4 0h1m0 0h1m0 0h1m0 0h1m0 0h1m0 0h1m0 0h1m0 0h1m0 0h1m0 0h1m0 0h1m0 0h1m0 0h1m0 0h1m0 0h1m0 0h1m0 0h1m0 0h1m0 0h1m0 0h1m0 0h1m0 0h1m0 0h1m0 0h1m0 0h1m-33 1h1m0 0h1m0 0h1m0 0h1m0 0h1m0 0h1m0 0h1m0 0h1m0 0h1m0 0h1m0 0h1m0 0h1m0 0h1m0 0h1m0 0h1m0 0h1m0 0h1m0 0h1m0 0h1m0 0h1m0 0h1m0 0h1m0 0h1m0 0h1m0 0h1m0 0h1m0 0h1m0 0h1m0 0h1m0 0h1m0 0h1m0 0h1m0 0h1m-34 1h1m0 0h1m1 0h1m0 0h1m0 0h1m0 0h1m0 0h1m0 0h1m0 0h1m0 0h1m0 0h1m0 0h1m0 0h1m0 0h1m0 0h1m0 0h1m0 0h1m0 0h1m0 0h1m0 0h1m0 0h1m0 0h1m0 0h1m0 0h1m0 0h1m0 0h1m0 0h1m1 0h1m1 0h1m0 0h1m-35 1h1m0 0h1m0 0h1m0 0h1m0 0h1m0 0h1m0 0h1m0 0h1m0 0h1m0 0h1m0 0h1m0 0h1m0 0h1m0 0h1m0 0h1m0 0h1m0 0h1m0 0h1m0 0h1m0 0h1m0 0h1m0 0h1m0 0h1m0 0h1m0 0h1m0 0h1m1 0h1m2 0h1m0 0h1m-32 1h1m1 0h1m2 0h1m0 0h1m0 0h1m0 0h1m0 0h1m0 0h1m0 0h1m0 0h1m0 0h1m0 0h1m0 0h1m0 0h1m0 0h1m0 0h1m0 0h1m0 0h1m0 0h1m0 0h1m1 0h1m0 0h1m0 0h1m0 0h1m0 0h1m1 0h1m1 0h1m-33 1h1m0 0h1m0 0h1m0 0h1m0 0h1m0 0h1m0 0h1m0 0h1m0 0h1m0 0h1m0 0h1m0 0h1m0 0h1m0 0h1m0 0h1m0 0h1m0 0h1m0 0h1m0 0h1m0 0h1m0 0h1m0 0h1m0 0h1m0 0h1m0 0h1m0 0h1m0 0h1m0 0h1m1 0h1m0 0h1m0 0h1m27 0h1m-58 1h1m0 0h1m0 0h1m0 0h1m0 0h1m0 0h1m0 0h1m0 0h1m0 0h1m0 0h1m0 0h1m0 0h1m0 0h1m0 0h1m0 0h1m0 0h1m1 0h1m0 0h1m1 0h1m1 0h1m2 0h1m0 0h1" stroke="#707070" stroke-width="1" fill="none" shape-rendering="crispEdges"/>
<rect x="42.50" y="191.50" width="111.00" height="104.00" fill="none" stroke="#333" stroke-width="1.0"/>
<line x1="105.50" y1="191.50" x2="105.50" y2="295.50" stroke="#333" stroke-width="1.0"/>
<line x1="42.50" y1="255.50" x2="153.50" y2="255.50" stroke="#333" stroke-width="1.0"/>
<path d="M42.50 295.50v2.4M42.50 295.50h-2.4M50.85 295.50v1.6M42.50 287.67h-1.6M55.74 295.50v1.6M42.50 283.09h-1.6M59.21 295.50v1.6M42.50 279.85h-1.6M61.90 295.50v1.6M42.50 277.33h-1.6M64.09 295.50v1.6M42.50 275.27h-1.6M65.95 295.50v1.6M42.50 273.53h-1.6M67.56 295.50v1.6M42.50 272.02h-1.6M68.98 295.50v1.6M42.50 270.69h-1.6M70.25 295.50v2.4M42.50 269.50h-2.4M78.60 295.50v1.6M42.50 261.67h-1.6M83.49 295.50v1.6M42.50 257.09h-1.6M86.96 295.50v1.6M42.50 253.85h-1.6M89.65 295.50v1.6M42.50 251.33h-1.6M91.84 295.50v1.6M42.50 249.27h-1.6M93.70 295.50v1.6M42.50 247.53h-1.6M95.31 295.50v1.6M42.50 246.02h-1.6M96.73 295.50v1.6M42.50 244.69h-1.6M98.00 295.50v2.4M42.50 243.50h-2.4M106.35 295.50v1.6M42.50 235.67h-1.6M111.24 295.50v1.6M42.50 231.09h-1.6M114.71 295.50v1.6M42.50 227.85h-1.6M117.40 295.50v1.6M42.50 225.33h-1.6M119.59 295.50v1.6M42.50 223.27h-1.6M121.45 295.50v1.6M42.50 221.53h-1.6M123.06 295.50v1.6M42.50 220.02h-1.6M124.48 295.50v1.6M42.50 218.69h-1.6M125.75 295.50v2.4M42.50 217.50h-2.4M134.10 295.50v1.6M42.50 209.67h-1.6M138.99 295.50v1.6M42.50 205.09h-1.6M142.46 295.50v1.6M42.50 201.85h-1.6M145.15 295.50v1.6M42.50 199.33h-1.6M147.34 295.50v1.6M42.50 197.27h-1.6M149.20 295.50v1.6M42.50 195.53h-1.6M150.81 295.50v1.6M42.50 194.02h-1.6M152.23 295.50v1.6M42.50 192.69h-1.6M153.50 295.50v2.4M42.50 191.50h-2.4" stroke="#444" stroke-width="0.8" fill="none"/>
<text x="37.66" y="305.40" font-size="6.00" font-family='"Liberation Sans",sans-serif' fill="#444">10</text>
<text x="44.34" y="302.40" font-size="5.40" font-family='"Liberation Sans",sans-serif' fill="#444">0</text>
<text transform="translate(37.70,300.34) rotate(-90)" font-size="6.00" font-family='"Liberation Sans",sans-serif' fill="#444">10</text>
<text transform="translate(34.70,293.66) rotate(-90)" font-size="5.40" font-family='"Liberation Sans",sans-serif' fill="#444">0</text>
<text x="65.41" y="305.40" font-size="6.00" font-family='"Liberation Sans",sans-serif' fill="#444">10</text>
<text x="72.09" y="302.40" font-size="5.40" font-family='"Liberation Sans",sans-serif' fill="#444">1</text>
<text transform="translate(37.70,274.34) rotate(-90)" font-size="6.00" font-family='"Liberation Sans",sans-serif' fill="#444">10</text>
<text transform="translate(34.70,267.66) rotate(-90)" font-size="5.40" font-family='"Liberation Sans",sans-serif' fill="#444">1</text>
<text x="93.16" y="305.40" font-size="6.00" font-family='"Liberation Sans",sans-serif' fill="#444">10</text>
<text x="99.84" y="302.40" font-size="5.40" font-family='"Liberation Sans",sans-serif' fill="#444">2</text>
<text transform="translate(37.70,248.34) rotate(-90)" font-size="6.00" font-family='"Liberation Sans",sans-serif' fill="#444">10</text>
<text transform="translate(34.70,241.66) rotate(-90)" font-size="5.40" font-family='"Liberation Sans",sans-serif' fill="#444">2</text>
<text x="120.91" y="305.40" font-size="6.00" font-family='"Liberation Sans",sans-serif' fill="#444">10</text>
<text x="127.59" y="302.40" font-size="5.40" font-family='"Liberation Sans",sans-serif' fill="#444">3</text>
<text transform="translate(37.70,222.34) rotate(-90)" font-size="6.00" font-family='"Liberation Sans",sans-serif' fill="#444">10</text>
<text transform="translate(34.70,215.66) rotate(-90)" font-size="5.40" font-family='"Liberation Sans",sans-serif' fill="#444">3</text>
<text x="148.66" y="305.40" font-size="6.00" font-family='"Liberation Sans",sans-serif' fill="#444">10</text>
<text x="155.34" y="302.40" font-size="5.40" font-family='"Liberation Sans",sans-serif' fill="#444">4</text>
<text transform="translate(37.70,196.34) rotate(-90)" font-size="6.00" font-family='"Liberation Sans",sans-serif' fill="#444">10</text>
<text transform="translate(34.70,189.66) rotate(-90)" font-size="5.40" font-family='"Liberation Sans",sans-serif' fill="#444">4</text>
<text x="52.10" y="183.90" font-size="7.60" font-weight="bold" textLength="85.40" lengthAdjust="spacingAndGlyphs">0 uM + negative inhibitor</text>
<text x="122.00" y="204.90" font-size="6.10" font-weight="bold" textLength="26.30" lengthAdjust="spacingAndGlyphs">6.1 ±0.81</text>
<text x="119.00" y="291.50" font-size="6.10" font-weight="bold" textLength="30.50" lengthAdjust="spacingAndGlyphs">3.73 ±0.66</text>
<text transform="translate(24.00,239.60) rotate(-90)" font-size="9.00" textLength="9.00" lengthAdjust="spacingAndGlyphs">PI</text>
<text x="59.80" y="314.90" font-size="6.60" font-weight="bold" textLength="47.30" lengthAdjust="spacingAndGlyphs">Annexin V-FITC</text>
<path d="M250 211.5h1m-19 8h1m34 11h1m23 0h1m-16 1h1m7 0h1m-4 2h1m-34 1h1m14 0h1m5 0h1m16 0h1m6 0h1m-19 1h1m15 0h1m0 0h1m0 0h1m11 0h1m-87 1h1m32 0h1m12 0h1m1 0h1m4 0h1m2 0h1m1 0h1m2 0h1m3 0h1m1 0h1m3 0h1m2 0h1m2 0h1m2 0h1m-70 1h1m7 0h1m19 0h1m14 0h1m7 0h1m1 0h1m5 0h1m3 0h1m1 0h1m-44 1h1m10 0h1m1 0h1m5 0h1m0 0h1m1 0h1m3 0h1m3 0h1m0 0h1m0 0h1m1 0h1m5 0h1m1 0h1m0 0h1m5 0h1m-72 1h1m10 0h1m2 0h1m0 0h1m11 0h1m1 0h1m0 0h1m7 0h1m5 0h1m0 0h1m4 0h1m0 0h1m0 0h1m0 0h1m3 0h1m1 0h1m5 0h1m1 0h1m3 0h1m-65 1h1m1 0h1m3 0h1m0 0h1m2 0h1m0 0h1m0 0h1m1 0h1m12 0h1m0 0h1m8 0h1m5 0h1m1 0h1m3 0h1m1 0h1m0 0h1m0 0h1m0 0h1m10 0h1m-69 1h1m1 0h1m3 0h1m9 0h1m2 0h1m4 0h1m1 0h1m0 0h1m6 0h1m2 0h1m1 0h1m7 0h1m0 0h1m1 0h1m4 0h1m1 0h1m2 0h1m0 0h1m2 0h1m0 0h1m0 0h1m4 0h1m-77 1h1m11 0h1m3 0h1m0 0h1m4 0h1m0 0h1m2 0h1m1 0h1m4 0h1m3 0h1m2 0h1m0 0h1m1 0h1m1 0h1m4 0h1m5 0h1m1 0h1m3 0h1m0 0h1m0 0h1m1 0h1m9 0h1m-79 1h1m11 0h1m3 0h1m1 0h1m0 0h1m11 0h1m2 0h1m1 0h1m2 0h1m0 0h1m0 0h1m1 0h1m0 0h1m4 0h1m10 0h1m5 0h1m-69 1h1m3 0h1m6 0h1m0 0h1m3 0h1m5 0h1m4 0h1m2 0h1m0 0h1m3 0h1m1 0h1m0 0h1m0 0h1m1 0h1m20 0h1m0 0h1m5 0h1m2 0h1m0 0h1m1 0h1m8 0h1m-75 1h1m1 0h1m1 0h1m3 0h1m0 0h1m2 0h1m0 0h1m1 0h1m5 0h1m1 0h1m0 0h1m1 0h1m11 0h1m1 0h1m5 0h1m2 0h1m3 0h1m0 0h1m1 0h1m18 0h1m-87 1h1m1 0h1m8 0h1m0 0h1m3 0h1m1 0h1m2 0h1m2 0h1m1 0h1m0 0h1m1 0h1m2 0h1m1 0h1m5 0h1m2 0h1m1 0h1m1 0h1m0 0h1m13 0h1m2 0h1m0 0h1m13 0h1m1 0h1m-76 1h1m1 0h1m2 0h1m0 0h1m1 0h1m17 0h1m0 0h1m0 0h1m0 0h1m1 0h1m4 0h1m3 0h1m4 0h1m9 0h1m0 0h1m0 0h1m2 0h1m1 0h1m0 0h1m0 0h1m1 0h1m6 0h1m-76 1h1m4 0h1m2 0h1m3 0h1m0 0h1m0 0h1m3 0h1m5 0h1m0 0h1m0 0h1m0 0h1m4 0h1m2 0h1m0 0h1m0 0h1m2 0h1m0 0h1m3 0h1m2 0h1m15 0h1m2 0h1m6 0h1m-95 1h1m16 0h1m5 0h1m1 0h1m0 0h1m1 0h1m2 0h1m2 0h1m0 0h1m0 0h1m0 0h1m0 0h1m1 0h1m3 0h1m3 0h1m0 0h1m7 0h1m3 0h1m2 0h1m0 0h1m7 0h1m2 0h1m1 0h1m1 0h1m1 0h1m1 0h1m0 0h1m-62 1h1m2 0h1m0 0h1m0 0h1m7 0h1m0 0h1m2 0h1m9 0h1m6 0h1m2 0h1m3 0h1m0 0h1m1 0h1m6 0h1m3 0h1m4 0h1m1 0h1m8 0h1m3 0h1m0 0h1m-85 1h1m6 0h1m2 0h1m1 0h1m7 0h1m1 0h1m2 0h1m4 0h1m9 0h1m1 0h1m0 0h1m0 0h1m2 0h1m0 0h1m0 0h1m0 0h1m4 0h1m1 0h1m1 0h1m6 0h1m-55 1h1m2 0h1m2 0h1m0 0h1m2 0h1m3 0h1m18 0h1m3 0h1m1 0h1m0 0h1m2 0h1m0 0h1m1 0h1m4 0h1m8 0h1m0 0h1m-69 1h1m4 0h1m6 0h1m0 0h1m1 0h1m0 0h1m1 0h1m0 0h1m0 0h1m0 0h1m3 0h1m2 0h1m1 0h1m11 0h1m5 0h1m4 0h1m7 0h1m3 0h1m-60 1h1m1 0h1m0 0h1m1 0h1m0 0h1m4 0h1m1 0h1m0 0h1m1 0h1m4 0h1m2 0h1m2 0h1m6 0h1m10 0h1m-52 1h1m22 0h1m0 0h1m1 0h1m3 0h1m0 0h1m2 0h1m6 0h1m11 0h1m0 0h1m-49 1h1m5 0h1m1 0h1m4 0h1m0 0h1m8 0h1m1 0h1m3 0h1m2 0h1m23 0h1m-55 1h1m0 0h1m8 0h1m0 0h1m6 0h1m9 0h1m10 0h1m14 0h1m-82 1h1m28 0h1m2 0h1m5 0h1m0 0h1m2 0h1m0 0h1m0 0h1m2 0h1m-26 1h1m3 0h1m10 0h1m9 0h1m3 0h1m0 0h1m9 0h1m1 0h1m-36 1h1m9 0h1m4 0h1m2 0h1m5 0h1m5 0h1m0 0h1m1 0h1m-43 1h1m4 0h1m1 0h1m2 0h1m10 0h1m0 0h1m0 0h1m1 0h1m8 0h1m0 0h1m4 0h1m6 0h1m-42 1h1m6 0h1m1 0h1m2 0h1m6 0h1m0 0h1m1 0h1m1 0h1m9 0h1m12 0h1m2 0h1m2 0h1m-52 1h1m2 0h1m7 0h1m0 0h1m0 0h1m3 0h1m5 0h1m4 0h1m0 0h1m0 0h1m5 0h1m4 0h1m9 0h1m-50 1h1m0 0h1m3 0h1m2 0h1m6 0h1m2 0h1m1 0h1m5 0h1m0 0h1m0 0h1m4 0h1m16 0h1m-56 1h1m2 0h1m4 0h1m9 0h1m1 0h1m2 0h1m3 0h1m5 0h1m4 0h1m9 0h1m1 0h1m-48 1h1m3 0h1m2 0h1m5 0h1m3 0h1m0 0h1m0 0h1m0 0h1m2 0h1m2 0h1m1 0h1m1 0h1m4 0h1m0 0h1m2 0h1m2 0h1m0 0h1m0 0h1m3 0h1m3 0h1m-43 1h1m0 0h1m3 0h1m0 0h1m7 0h1m0 0h1m0 0h1m0 0h1m1 0h1m0 0h1m0 0h1m0 0h1m1 0h1m0 0h1m3 0h1m0 0h1m8 0h1m-46 1h1m4 0h1m3 0h1m6 0h1m0 0h1m4 0h1m5 0h1m1 0h1m1 0h1m2 0h1m1 0h1m4 0h1m3 0h1m-65 1h1m14 0h1m0 0h1m0 0h1m1 0h1m2 0h1m1 0h1m2 0h1m2 0h1m1 0h1m0 0h1m0 0h1m1 0h1m4 0h1m4 0h1m1 0h1m1 0h1m0 0h1m2 0h1m2 0h1m0 0h1m5 0h1m-57 1h1m6 0h1m0 0h1m5 0h1m0 0h1m1 0h1m0 0h1m0 0h1m1 0h1m0 0h1m13 0h1m4 0h1m5 0h1m1 0h1m5 0h1m-50 1h1m4 0h1m7 0h1m2 0h1m2 0h1m0 0h1m3 0h1m0 0h1m3 0h1m0 0h1m2 0h1m3 0h1m0 0h1m1 0h1m0 0h1m1 0h1m2 0h1m1 0h1m0 0h1m0 0h1m1 0h1m0 0h1m1 0h1m-56 1h1m0 0h1m0 0h1m0 0h1m0 0h1m3 0h1m1 0h1m1 0h1m1 0h1m3 0h1m1 0h1m0 0h1m3 0h1m0 0h1m10 0h1m4 0h1m16 0h1m-71 1h1m6 0h1m3 0h1m1 0h1m0 0h1m1 0h1m4 0h1m6 0h1m1 0h1m7 0h1m1 0h1m2 0h1m1 0h1m2 0h1m0 0h1m1 0h1m2 0h1m9 0h1m4 0h1m-64 1h1m0 0h1m0 0h1m1 0h1m5 0h1m9 0h1m2 0h1m1 0h1m3 0h1m4 0h1m6 0h1m4 0h1m2 0h1m0 0h1m4 0h1m0 0h1m0 0h1m-57 1h1m4 0h1m1 0h1m0 0h1m0 0h1m8 0h1m2 0h1m0 0h1m7 0h1m0 0h1m0 0h1m1 0h1m0 0h1m0 0h1m7 0h1m1 0h1m2 0h1m4 0h1m0 0h1m0 0h1m-59 1h1m11 0h1m3 0h1m9 0h1m0 0h1m4 0h1m5 0h1m6 0h1m1 0h1m4 0h1m3 0h1m3 0h1m-64 1h1m0 0h1m1 0h1m5 0h1m4 0h1m14 0h1m0 0h1m0 0h1m4 0h1m7 0h1m3 0h1m8 0h1m0 0h1m2 0h1m-51 1h1m17 0h1m2 0h1m1 0h1m1 0h1m14 0h1m1 0h1m2 0h1m1 0h1m11 0h1m-76 1h1m0 0h1m0 0h1m1 0h1m2 0h1m0 0h1m1 0h1m7 0h1m18 0h1m1 0h1m7 0h1m11 0h1m0 0h1m2 0h1m-64 1h1m5 0h1m6 0h1m4 0h1m17 0h1m4 0h1m0 0h1m1 0h1m0 0h1m2 0h1m8 0h1m1 0h1m1 0h1m9 0h1m-76 1h1m29 0h1m8 0h1m0 0h1m2 0h1m0 0h1m10 0h1m10 0h1m5 0h1m-77 1h1m6 0h1m3 0h1m4 0h1m0 0h1m10 0h1m2 0h1m2 0h1m7 0h1m0 0h1m1 0h1m1 0h1m4 0h1m2 0h1m3 0h1m0 0h1m5 0h1m1 0h1m1 0h1m0 0h1m-82 1h1m6 0h1m10 0h1m0 0h1m0 0h1m2 0h1m0 0h1m3 0h1m23 0h1m3 0h1m0 0h1m3 0h1m0 0h1m2 0h1m6 0h1m8 0h1m9 0h1m-80 1h1m10 0h1m0 0h1m5 0h1m2 0h1m4 0h1m10 0h1m0 0h1m0 0h1m6 0h1m0 0h1m1 0h1m0 0h1m4 0h1m0 0h1m0 0h1m5 0h1m4 0h1m0 0h1m1 0h1m-81 1h1m5 0h1m4 0h1m2 0h1m2 0h1m4 0h1m15 0h1m1 0h1m4 0h1m0 0h1m0 0h1m1 0h1m2 0h1m4 0h1m6 0h1m2 0h1m3 0h1m0 0h1m0 0h1m-69 1h1m0 0h1m2 0h1m12 0h1m10 0h1m5 0h1m5 0h1m0 0h1m0 0h1m9 0h1m1 0h1m1 0h1m2 0h1m0 0h1m7 0h1m3 0h1m-72 1h1m0 0h1m0 0h1m0 0h1m0 0h1m0 0h1m24 0h1m0 0h1m1 0h1m1 0h1m1 0h1m0 0h1m0 0h1m0 0h1m9 0h1m0 0h1m2 0h1m11 0h1m2 0h1m7 0h1m-81 1h1m2 0h1m0 0h1m0 0h1m2 0h1m18 0h1m1 0h1m1 0h1m0 0h1m7 0h1m8 0h1m1 0h1m0 0h1m3 0h1m1 0h1m3 0h1m1 0h1m0 0h1m4 0h1m2 0h1m4 0h1m-83 1h1m3 0h1m2 0h1m2 0h1m16 0h1m0 0h1m3 0h1m3 0h1m1 0h1m2 0h1m2 0h1m6 0h1m3 0h1m4 0h1m1 0h1m0 0h1m2 0h1m4 0h1m1 0h1m0 0h1m2 0h1m1 0h1m0 0h1m0 0h1m3 0h1m-89 1h1m4 0h1m0 0h1m0 0h1m2 0h1m6 0h1m5 0h1m11 0h1m3 0h1m3 0h1m4 0h1m0 0h1m0 0h1m10 0h1m1 0h1m0 0h1m0 0h1m3 0h1m4 0h1m0 0h1m1 0h1m1 0h1m2 0h1m1 0h1m-85 1h1m1 0h1m1 0h1m1 0h1m0 0h1m1 0h1m2 0h1m21 0h1m6 0h1m4 0h1m1 0h1m5 0h1m0 0h1m0 0h1m1 0h1m0 0h1m0 0h1m0 0h1m0 0h1m2 0h1m0 0h1m0 0h1m0 0h1m1 0h1m7 0h1m0 0h1m0 0h1m1 0h1m0 0h1m9 0h1" stroke="#a8a8a8" stroke-width="1" fill="none" shape-rendering="crispEdges"/>
<path d="M279 235.5h1m-2 1h1m0 0h1m14 0h1m-21 1h1m3 0h1m0 0h1m-5 1h1m12 0h1m2 0h1m-28 1h1m1 0h1m4 0h1m6 0h1m5 0h1m1 0h1m4 0h1m4 0h1m-26 1h1m5 0h1m5 0h1m1 0h1m6 0h1m-50 1h1m31 0h1m1 0h1m1 0h1m3 0h1m4 0h1m-42 1h1m17 0h1m1 0h1m3 0h1m3 0h1m1 0h1m4 0h1m3 0h1m1 0h1m-66 1h1m17 0h1m13 0h1m13 0h1m5 0h1m9 0h1m5 0h1m0 0h1m6 0h1m-67 1h1m10 0h1m0 0h1m21 0h1m1 0h1m1 0h1m0 0h1m2 0h1m4 0h1m1 0h1m7 0h1m5 0h1m-46 1h1m3 0h1m8 0h1m0 0h1m0 0h1m2 0h1m1 0h1m0 0h1m13 0h1m0 0h1m2 0h1m4 0h1m2 0h1m2 0h1m-39 1h1m4 0h1m1 0h1m2 0h1m0 0h1m0 0h1m0 0h1m0 0h1m1 0h1m13 0h1m3 0h1m-55 1h1m17 0h1m7 0h1m0 0h1m1 0h1m2 0h1m14 0h1m-47 1h1m1 0h1m5 0h1m15 0h1m3 0h1m3 0h1m2 0h1m0 0h1m1 0h1m0 0h1m1 0h1m2 0h1m0 0h1m2 0h1m-30 1h1m8 0h1m4 0h1m0 0h1m0 0h1m0 0h1m3 0h1m1 0h1m1 0h1m6 0h1m1 0h1m-55 1h1m4 0h1m0 0h1m29 0h1m0 0h1m0 0h1m0 0h1m6 0h1m-48 1h1m5 0h1m-4 1h1m3 0h1m23 0h1m-33 1h1m25 1h1m-26 1h1m3 1h1m35 0h1m-29 1h1m0 0h1m2 0h1m-22 3h1m14 0h1m8 0h1m1 0h1m3 0h1m-22 1h1m0 0h1m5 1h1m9 0h1m1 0h1m-11 1h1m4 0h1m0 0h1m10 0h1m-36 1h1m12 1h1m2 0h1m1 0h1m10 0h1m1 0h1m3 0h1m7 0h1m-44 1h1m15 0h1m6 0h1m3 0h1m11 0h1m-30 1h1m3 0h1m1 0h1m18 0h1m4 0h1m2 0h1m-39 1h1m3 0h1m3 0h1m0 0h1m1 0h1m0 0h1m7 0h1m4 0h1m0 0h1m5 0h1m2 0h1m1 0h1m2 0h1m-35 1h1m1 0h1m9 0h1m1 0h1m2 0h1m1 0h1m0 0h1m8 0h1m0 0h1m1 0h1m4 0h1m-28 1h1m2 0h1m0 0h1m0 0h1m3 0h1m5 0h1m3 0h1m3 0h1m-35 1h1m2 0h1m2 0h1m0 0h1m1 0h1m0 0h1m2 0h1m1 0h1m3 0h1m3 0h1m-27 1h1m3 0h1m3 0h1m2 0h1m0 0h1m1 0h1m3 0h1m4 0h1m0 0h1m0 0h1m0 0h1m1 0h1m0 0h1m9 0h1m5 0h1m-52 1h1m1 0h1m5 0h1m1 0h1m1 0h1m3 0h1m0 0h1m3 0h1m1 0h1m1 0h1m0 0h1m0 0h1m1 0h1m4 0h1m10 0h1m2 0h1m-47 1h1m2 0h1m1 0h1m12 0h1m1 0h1m5 0h1m3 0h1m10 0h1m0 0h1m4 0h1m-50 1h1m2 0h1m4 0h1m2 0h1m8 0h1m2 0h1m0 0h1m1 0h1m3 0h1m6 0h1m2 0h1m4 0h1m1 0h1m1 0h1m-51 1h1m1 0h1m8 0h1m5 0h1m0 0h1m6 0h1m1 0h1m3 0h1m1 0h1m4 0h1m7 0h1m7 0h1m-60 1h1m5 0h1m1 0h1m0 0h1m5 0h1m6 0h1m17 0h1m3 0h1m0 0h1m5 0h1m0 0h1m0 0h1m-57 1h1m4 0h1m1 0h1m1 0h1m16 0h1m5 0h1m1 0h1m1 0h1m1 0h1m1 0h1m7 0h1m4 0h1m6 0h1m-59 1h1m2 0h1m1 0h1m0 0h1m13 0h1m7 0h1m1 0h1m1 0h1m1 0h1m0 0h1m7 0h1m2 0h1m8 0h1m-55 1h1m1 0h1m2 0h1m3 0h1m3 0h1m4 0h1m6 0h1m2 0h1m2 0h1m0 0h1m7 0h1m2 0h1m5 0h1m6 0h1m-62 1h1m0 0h1m0 0h1m1 0h1m1 0h1m0 0h1m3 0h1m1 0h1m8 0h1m3 0h1m0 0h1m1 0h1m0 0h1m1 0h1m6 0h1m2 0h1m1 0h1m5 0h1m5 0h1m0 0h1m0 0h1m0 0h1m3 0h1m-48 1h1m3 0h1m1 0h1m0 0h1m2 0h1m9 0h1m4 0h1m5 0h1m4 0h1m0 0h1m3 0h1m-56 1h1m2 0h1m1 0h1m2 0h1m1 0h1m5 0h1m6 0h1m2 0h1m0 0h1m0 0h1m0 0h1m2 0h1m3 0h1m1 0h1m3 0h1m2 0h1m-50 1h1m0 0h1m8 0h1m3 0h1m4 0h1m5 0h1m3 0h1m0 0h1m3 0h1m4 0h1m2 0h1m3 0h1m0 0h1m7 0h1m0 0h1m1 0h1m-62 1h1m2 0h1m0 0h1m1 0h1m1 0h1m11 0h1m4 0h1m4 0h1m1 0h1m13 0h1m0 0h1m0 0h1m0 0h1m0 0h1m0 0h1m1 0h1m11 0h1m-70 1h1m1 0h1m2 0h1m5 0h1m11 0h1m11 0h1m0 0h1m15 0h1m6 0h1m2 0h1m0 0h1m2 0h1m1 0h1m-65 1h1m0 0h1m1 0h1m4 0h1m8 0h1m2 0h1m2 0h1m2 0h1m23 0h1m0 0h1m0 0h1m1 0h1m0 0h1m0 0h1m1 0h1m0 0h1m1 0h1m5 0h1m-71 1h1m0 0h1m2 0h1m25 0h1m20 0h1m1 0h1m1 0h1m1 0h1m-63 1h1m3 0h1m1 0h1m7 0h1m3 0h1m6 0h1m0 0h1m2 0h1m2 0h1m21 0h1m4 0h1m0 0h1m4 0h1m1 0h1m2 0h1m-75 1h1m6 0h1m0 0h1m0 0h1m16 0h1m0 0h1m2 0h1m1 0h1m0 0h1m2 0h1m3 0h1m0 0h1m7 0h1m3 0h1m1 0h1m6 0h1m0 0h1m2 0h1m5 0h1m-58 1h1m8 0h1m1 0h1m1 0h1m2 0h1m1 0h1m1 0h1m2 0h1m0 0h1m1 0h1m18 0h1m4 0h1" stroke="#909090" stroke-width="1" fill="none" shape-rendering="crispEdges"/>
<path d="M284 235.5h1m-3 1h1m-6 2h1m3 0h1m-6 1h1m13 0h1m-16 1h1m8 0h1m-13 1h1m1 0h1m3 0h1m6 0h1m0 0h1m-34 1h1m24 0h1m1 0h1m15 0h1m2 0h1m-49 1h1m12 0h1m7 0h1m1 0h1m2 0h1m1 0h1m4 0h1m-42 1h1m26 0h1m8 0h1m1 0h1m7 0h1m1 0h1m1 0h1m-18 1h1m0 0h1m-23 1h1m10 0h1m13 0h1m0 0h1m3 0h1m2 0h1m-12 1h1m1 0h1m0 0h1m1 0h1m0 0h1m0 0h1m0 0h1m-13 1h1m10 0h1m1 0h1m3 0h1m-10 1h1m1 1h1m1 1h1m-40 1h1m15 12h1m13 0h1m0 0h1m-20 1h1m13 3h1m3 0h1m-32 1h1m13 1h1m6 0h1m4 0h1m3 0h1m3 0h1m4 0h1m-10 1h1m2 0h1m2 0h1m-28 1h1m8 0h1m2 0h1m4 0h1m7 0h1m-18 1h1m6 0h1m0 0h1m9 0h1m3 0h1m-44 1h1m9 0h1m9 0h1m5 0h1m5 0h1m0 0h1m1 0h1m0 0h1m7 0h1m-41 1h1m1 0h1m2 0h1m0 0h1m21 0h1m2 0h1m-42 1h1m5 0h1m0 0h1m0 0h1m0 0h1m5 0h1m2 0h1m3 0h1m11 0h1m2 0h1m4 0h1m6 0h1m-48 1h1m5 0h1m14 0h1m5 0h1m0 0h1m1 0h1m3 0h1m7 0h1m0 0h1m1 0h1m3 0h1m-48 1h1m0 0h1m5 0h1m1 0h1m7 0h1m14 0h1m0 0h1m3 0h1m-47 1h1m8 0h1m1 0h1m2 0h1m2 0h1m5 0h1m0 0h1m1 0h1m0 0h1m2 0h1m6 0h1m1 0h1m22 0h1m-60 1h1m1 0h1m3 0h1m2 0h1m3 0h1m4 0h1m1 0h1m0 0h1m4 0h1m5 0h1m11 0h1m0 0h1m4 0h1m-49 1h1m0 0h1m0 0h1m3 0h1m1 0h1m2 0h1m3 0h1m4 0h1m24 0h1m0 0h1m0 0h1m-52 1h1m5 0h1m18 0h1m4 0h1m4 0h1m8 0h1m5 0h1m0 0h1m-42 1h1m4 0h1m6 0h1m16 0h1m4 0h1m1 0h1m2 0h1m1 0h1m0 0h1m7 0h1m-56 1h1m5 0h1m10 0h1m9 0h1m13 0h1m1 0h1m-43 1h1m1 0h1m1 0h1m4 0h1m2 0h1m8 0h1m19 0h1m-55 1h1m0 0h1m0 0h1m1 0h1m18 0h1m3 0h1m30 0h1m-59 1h1m1 0h1m4 0h1m4 0h1m3 0h1m0 0h1m10 0h1m-31 1h1m1 0h1m7 0h1m0 0h1m5 0h1m7 0h1m0 0h1m24 0h1m7 0h1m0 0h1m-60 1h1m3 0h1m1 0h1m0 0h1m13 0h1m31 0h1m1 0h1m-57 1h1m2 0h1m4 0h1m4 0h1m-19 1h1m3 0h1m7 0h1m2 0h1m9 0h1m35 0h1m0 0h1m0 0h1" stroke="#7e7e7e" stroke-width="1" fill="none" shape-rendering="crispEdges"/>
<path d="M273 239.5h1m5 0h1m-4 1h1m1 0h1m0 0h1m7 0h1m-12 1h1m3 0h1m6 0h1m-15 1h1m2 0h1m4 0h1m1 0h1m0 0h1m4 0h1m-17 1h1m4 0h1m1 0h1m0 0h1m0 0h1m0 0h1m2 0h1m1 0h1m0 0h1m0 0h1m-17 1h1m1 0h1m0 0h1m0 0h1m5 0h1m0 0h1m0 0h1m5 0h1m-25 1h1m9 0h1m0 0h1m0 0h1m1 0h1m0 0h1m1 0h1m-8 1h1m3 0h1m0 0h1m3 0h1m-15 1h1m4 0h1m2 0h1m7 0h1m-9 1h1m-13 1h1m6 0h1m6 0h1m-30 1h1m21 0h1m2 15h1m-17 3h1m2 0h1m-10 2h1m14 0h1m3 0h1m-34 1h1m17 0h1m12 0h1m-14 1h1m12 0h1m0 0h1m1 0h1m0 0h1m-32 1h1m3 0h1m1 0h1m6 0h1m13 0h1m0 0h1m-30 1h1m0 0h1m0 0h1m0 0h1m2 0h1m0 0h1m2 0h1m7 0h1m7 0h1m5 0h1m-31 1h1m3 0h1m27 0h1m1 0h1m-43 1h1m5 0h1m0 0h1m3 0h1m0 0h1m3 0h1m1 0h1m2 0h1m1 0h1m9 0h1m0 0h1m1 0h1m2 0h1m1 0h1m-40 1h1m2 0h1m0 0h1m1 0h1m0 0h1m0 0h1m0 0h1m0 0h1m0 0h1m1 0h1m1 0h1m10 0h1m0 0h1m0 0h1m2 0h1m1 0h1m5 0h1m-45 1h1m4 0h1m0 0h1m0 0h1m0 0h1m1 0h1m1 0h1m0 0h1m0 0h1m0 0h1m1 0h1m2 0h1m0 0h1m1 0h1m7 0h1m4 0h1m0 0h1m0 0h1m2 0h1m0 0h1m-42 1h1m1 0h1m1 0h1m2 0h1m0 0h1m1 0h1m0 0h1m0 0h1m1 0h1m2 0h1m12 0h1m1 0h1m0 0h1m1 0h1m1 0h1m0 0h1m1 0h1m0 0h1m0 0h1m0 0h1m0 0h1m-43 1h1m3 0h1m2 0h1m0 0h1m0 0h1m2 0h1m2 0h1m2 0h1m9 0h1m2 0h1m2 0h1m1 0h1m2 0h1m0 0h1m-42 1h1m2 0h1m1 0h1m0 0h1m1 0h1m0 0h1m13 0h1m0 0h1m6 0h1m1 0h1m0 0h1m0 0h1m0 0h1m2 0h1m0 0h1m-45 1h1m0 0h1m1 0h1m0 0h1m0 0h1m0 0h1m0 0h1m1 0h1m1 0h1m5 0h1m2 0h1m1 0h1m12 0h1m0 0h1m1 0h1m-41 1h1m2 0h1m3 0h1m1 0h1m0 0h1m0 0h1m2 0h1m0 0h1m0 0h1m0 0h1m3 0h1m5 0h1m12 0h1m2 0h1m1 0h1m2 0h1m4 0h1m-60 1h1m4 0h1m1 0h1m3 0h1m2 0h1m1 0h1m3 0h1m0 0h1m0 0h1m1 0h1m0 0h1m17 0h1m2 0h1m4 0h1m6 0h1m-57 1h1m1 0h1m1 0h1m0 0h1m0 0h1m0 0h1m1 0h1m1 0h1m2 0h1m0 0h1m0 0h1m5 0h1m27 0h1m4 0h1m-58 1h1m2 0h1m0 0h1m2 0h1m0 0h1m0 0h1m0 0h1m0 0h1m0 0h1m0 0h1m1 0h1m1 0h1m1 0h1m1 0h1m1 0h1m1 0h1m13 0h1m9 0h1m1 0h1m0 0h1m-53 1h1m0 0h1m0 0h1m2 0h1m0 0h1m0 0h1m0 0h1m1 0h1m0 0h1m4 0h1m0 0h1m5 0h1m28 0h1m-55 1h1m0 0h1m0 0h1m0 0h1m0 0h1m0 0h1m0 0h1m2 0h1m0 0h1m0 0h1m0 0h1m3 0h1m1 0h1m2 0h1m-30 1h1m4 0h1m1 0h1m0 0h1m0 0h1m4 0h1m1 0h1m0 0h1m0 0h1m2 0h1m3 0h1m-19 1h1m1 0h1m0 0h1m0 0h1m2 0h1m0 0h1m0 0h1m0 0h1m3 0h1m0 0h1m34 0h1m-56 1h1m2 0h1m0 0h1m0 0h1m1 0h1m0 0h1m2 0h1m0 0h1m1 0h1m1 0h1m1 0h1m1 0h1m4 0h1m32 0h1m3 0h1" stroke="#707070" stroke-width="1" fill="none" shape-rendering="crispEdges"/>
<rect x="201.50" y="192.50" width="110.00" height="104.00" fill="none" stroke="#333" stroke-width="1.0"/>
<line x1="263.50" y1="192.50" x2="263.50" y2="296.50" stroke="#333" stroke-width="1.0"/>
<line x1="201.50" y1="255.50" x2="311.50" y2="255.50" stroke="#333" stroke-width="1.0"/>
<path d="M201.50 296.50v2.4M201.50 296.50h-2.4M209.78 296.50v1.6M201.50 288.67h-1.6M214.62 296.50v1.6M201.50 284.09h-1.6M218.06 296.50v1.6M201.50 280.85h-1.6M220.72 296.50v1.6M201.50 278.33h-1.6M222.90 296.50v1.6M201.50 276.27h-1.6M224.74 296.50v1.6M201.50 274.53h-1.6M226.33 296.50v1.6M201.50 273.02h-1.6M227.74 296.50v1.6M201.50 271.69h-1.6M229.00 296.50v2.4M201.50 270.50h-2.4M237.28 296.50v1.6M201.50 262.67h-1.6M242.12 296.50v1.6M201.50 258.09h-1.6M245.56 296.50v1.6M201.50 254.85h-1.6M248.22 296.50v1.6M201.50 252.33h-1.6M250.40 296.50v1.6M201.50 250.27h-1.6M252.24 296.50v1.6M201.50 248.53h-1.6M253.83 296.50v1.6M201.50 247.02h-1.6M255.24 296.50v1.6M201.50 245.69h-1.6M256.50 296.50v2.4M201.50 244.50h-2.4M264.78 296.50v1.6M201.50 236.67h-1.6M269.62 296.50v1.6M201.50 232.09h-1.6M273.06 296.50v1.6M201.50 228.85h-1.6M275.72 296.50v1.6M201.50 226.33h-1.6M277.90 296.50v1.6M201.50 224.27h-1.6M279.74 296.50v1.6M201.50 222.53h-1.6M281.33 296.50v1.6M201.50 221.02h-1.6M282.74 296.50v1.6M201.50 219.69h-1.6M284.00 296.50v2.4M201.50 218.50h-2.4M292.28 296.50v1.6M201.50 210.67h-1.6M297.12 296.50v1.6M201.50 206.09h-1.6M300.56 296.50v1.6M201.50 202.85h-1.6M303.22 296.50v1.6M201.50 200.33h-1.6M305.40 296.50v1.6M201.50 198.27h-1.6M307.24 296.50v1.6M201.50 196.53h-1.6M308.83 296.50v1.6M201.50 195.02h-1.6M310.24 296.50v1.6M201.50 193.69h-1.6M311.50 296.50v2.4M201.50 192.50h-2.4" stroke="#444" stroke-width="0.8" fill="none"/>
<text x="196.66" y="306.40" font-size="6.00" font-family='"Liberation Sans",sans-serif' fill="#444">10</text>
<text x="203.34" y="303.40" font-size="5.40" font-family='"Liberation Sans",sans-serif' fill="#444">0</text>
<text transform="translate(196.70,301.34) rotate(-90)" font-size="6.00" font-family='"Liberation Sans",sans-serif' fill="#444">10</text>
<text transform="translate(193.70,294.66) rotate(-90)" font-size="5.40" font-family='"Liberation Sans",sans-serif' fill="#444">0</text>
<text x="224.16" y="306.40" font-size="6.00" font-family='"Liberation Sans",sans-serif' fill="#444">10</text>
<text x="230.84" y="303.40" font-size="5.40" font-family='"Liberation Sans",sans-serif' fill="#444">1</text>
<text transform="translate(196.70,275.34) rotate(-90)" font-size="6.00" font-family='"Liberation Sans",sans-serif' fill="#444">10</text>
<text transform="translate(193.70,268.66) rotate(-90)" font-size="5.40" font-family='"Liberation Sans",sans-serif' fill="#444">1</text>
<text x="251.66" y="306.40" font-size="6.00" font-family='"Liberation Sans",sans-serif' fill="#444">10</text>
<text x="258.34" y="303.40" font-size="5.40" font-family='"Liberation Sans",sans-serif' fill="#444">2</text>
<text transform="translate(196.70,249.34) rotate(-90)" font-size="6.00" font-family='"Liberation Sans",sans-serif' fill="#444">10</text>
<text transform="translate(193.70,242.66) rotate(-90)" font-size="5.40" font-family='"Liberation Sans",sans-serif' fill="#444">2</text>
<text x="279.16" y="306.40" font-size="6.00" font-family='"Liberation Sans",sans-serif' fill="#444">10</text>
<text x="285.84" y="303.40" font-size="5.40" font-family='"Liberation Sans",sans-serif' fill="#444">3</text>
<text transform="translate(196.70,223.34) rotate(-90)" font-size="6.00" font-family='"Liberation Sans",sans-serif' fill="#444">10</text>
<text transform="translate(193.70,216.66) rotate(-90)" font-size="5.40" font-family='"Liberation Sans",sans-serif' fill="#444">3</text>
<text x="306.66" y="306.40" font-size="6.00" font-family='"Liberation Sans",sans-serif' fill="#444">10</text>
<text x="313.34" y="303.40" font-size="5.40" font-family='"Liberation Sans",sans-serif' fill="#444">4</text>
<text transform="translate(196.70,197.34) rotate(-90)" font-size="6.00" font-family='"Liberation Sans",sans-serif' fill="#444">10</text>
<text transform="translate(193.70,190.66) rotate(-90)" font-size="5.40" font-family='"Liberation Sans",sans-serif' fill="#444">4</text>
<text x="216.70" y="187.10" font-size="7.60" font-weight="bold" textLength="79.50" lengthAdjust="spacingAndGlyphs">1uM + negative inhibitor</text>
<text x="276.30" y="200.70" font-size="6.10" font-weight="bold" textLength="28.70" lengthAdjust="spacingAndGlyphs">16.2 ±2.5*</text>
<text x="276.30" y="291.90" font-size="6.10" font-weight="bold" textLength="33.90" lengthAdjust="spacingAndGlyphs">30.79 ±4.6*</text>
<text transform="translate(183.60,246.30) rotate(-90)" font-size="10.50" font-weight="bold" textLength="9.30" lengthAdjust="spacingAndGlyphs">PI</text>
<text x="235.00" y="315.30" font-size="7.40" font-weight="bold" textLength="54.10" lengthAdjust="spacingAndGlyphs">Annexin V-FITC</text>
<path d="M402 220.5h1m8 8h1m23 1h1m-33 5h1m28 1h1m5 0h1m10 0h1m-37 1h1m4 0h1m13 0h1m2 0h1m-1 2h1m13 0h1m-36 1h1m0 0h1m10 0h1m6 0h1m9 0h1m4 0h1m-77 1h1m31 0h1m1 0h1m0 0h1m24 0h1m7 0h1m0 0h1m7 0h1m0 0h1m3 0h1m-49 1h1m25 0h1m13 0h1m1 0h1m1 0h1m-54 1h1m15 0h1m7 0h1m8 0h1m1 0h1m2 0h1m6 0h1m0 0h1m2 0h1m2 0h1m-47 1h1m1 0h1m2 0h1m7 0h1m3 0h1m4 0h1m0 0h1m2 0h1m3 0h1m0 0h1m1 0h1m0 0h1m0 0h1m1 0h1m0 0h1m2 0h1m0 0h1m0 0h1m0 0h1m2 0h1m-65 1h1m18 0h1m1 0h1m5 0h1m4 0h1m16 0h1m2 0h1m0 0h1m0 0h1m4 0h1m0 0h1m5 0h1m-62 1h1m3 0h1m3 0h1m3 0h1m2 0h1m2 0h1m1 0h1m16 0h1m1 0h1m0 0h1m0 0h1m4 0h1m0 0h1m0 0h1m1 0h1m1 0h1m1 0h1m0 0h1m5 0h1m0 0h1m0 0h1m0 0h1m4 0h1m-59 1h1m1 0h1m13 0h1m8 0h1m4 0h1m0 0h1m0 0h1m1 0h1m5 0h1m1 0h1m7 0h1m7 0h1m-71 1h1m14 0h1m1 0h1m4 0h1m3 0h1m3 0h1m1 0h1m0 0h1m5 0h1m1 0h1m1 0h1m4 0h1m0 0h1m1 0h1m7 0h1m5 0h1m-84 1h1m26 0h1m4 0h1m7 0h1m9 0h1m3 0h1m1 0h1m0 0h1m2 0h1m3 0h1m2 0h1m4 0h1m0 0h1m3 0h1m0 0h1m1 0h1m1 0h1m-67 1h1m7 0h1m3 0h1m4 0h1m12 0h1m2 0h1m5 0h1m10 0h1m3 0h1m2 0h1m0 0h1m1 0h1m0 0h1m3 0h1m1 0h1m0 0h1m0 0h1m-62 1h1m6 0h1m1 0h1m3 0h1m0 0h1m1 0h1m11 0h1m4 0h1m2 0h1m3 0h1m4 0h1m6 0h1m1 0h1m0 0h1m2 0h1m3 0h1m-61 1h1m0 0h1m0 0h1m2 0h1m4 0h1m8 0h1m4 0h1m6 0h1m14 0h1m0 0h1m3 0h1m3 0h1m0 0h1m-61 1h1m9 0h1m6 0h1m3 0h1m11 0h1m0 0h1m4 0h1m0 0h1m1 0h1m4 0h1m1 0h1m0 0h1m0 0h1m1 0h1m1 0h1m2 0h1m0 0h1m0 0h1m3 0h1m-75 1h1m10 0h1m4 0h1m4 0h1m4 0h1m1 0h1m1 0h1m12 0h1m0 0h1m7 0h1m3 0h1m0 0h1m3 0h1m1 0h1m7 0h1m-74 1h1m11 0h1m3 0h1m0 0h1m5 0h1m5 0h1m9 0h1m7 0h1m1 0h1m0 0h1m4 0h1m0 0h1m0 0h1m1 0h1m0 0h1m6 0h1m1 0h1m0 0h1m1 0h1m-43 1h1m4 0h1m1 0h1m0 0h1m8 0h1m2 0h1m5 0h1m3 0h1m2 0h1m2 0h1m3 0h1m0 0h1m-54 1h1m3 0h1m1 0h1m0 0h1m5 0h1m2 0h1m5 0h1m3 0h1m3 0h1m4 0h1m2 0h1m0 0h1m0 0h1m0 0h1m1 0h1m1 0h1m0 0h1m2 0h1m2 0h1m13 0h1m-72 1h1m2 0h1m2 0h1m28 0h1m4 0h1m4 0h1m2 0h1m0 0h1m0 0h1m5 0h1m-57 1h1m20 0h1m3 0h1m14 0h1m2 0h1m2 0h1m-57 1h1m3 0h1m14 0h1m2 0h1m1 0h1m1 0h1m1 0h1m11 0h1m14 0h1m0 0h1m14 0h1m-57 1h1m4 0h1m0 0h1m6 0h1m0 0h1m7 0h1m5 0h1m6 0h1m1 0h1m1 0h1m11 0h1m-73 1h1m17 0h1m4 0h1m0 0h1m1 0h1m4 0h1m2 0h1m0 0h1m1 0h1m13 0h1m12 0h1m-51 1h1m10 0h1m4 0h1m0 0h1m0 0h1m4 0h1m3 0h1m0 0h1m1 0h1m6 0h1m6 0h1m6 0h1m-37 1h1m1 0h1m0 0h1m1 0h1m4 0h1m2 0h1m27 0h1m-55 1h1m2 0h1m5 0h1m3 0h1m0 0h1m5 0h1m-40 1h1m19 0h1m10 0h1m0 0h1m0 0h1m1 0h1m0 0h1m1 0h1m8 0h1m3 0h1m1 0h1m3 0h1m9 0h1m2 0h1m-49 1h1m0 0h1m4 0h1m1 0h1m3 0h1m3 0h1m1 0h1m1 0h1m0 0h1m3 0h1m4 0h1m2 0h1m0 0h1m6 0h1m-40 1h1m2 0h1m0 0h1m4 0h1m0 0h1m5 0h1m1 0h1m1 0h1m7 0h1m10 0h1m-38 1h1m3 0h1m2 0h1m1 0h1m0 0h1m1 0h1m0 0h1m0 0h1m3 0h1m0 0h1m1 0h1m0 0h1m5 0h1m2 0h1m4 0h1m7 0h1m0 0h1m-45 1h1m1 0h1m2 0h1m0 0h1m1 0h1m0 0h1m0 0h1m1 0h1m3 0h1m0 0h1m0 0h1m3 0h1m3 0h1m5 0h1m0 0h1m1 0h1m0 0h1m0 0h1m7 0h1m-51 1h1m6 0h1m4 0h1m0 0h1m1 0h1m1 0h1m6 0h1m2 0h1m1 0h1m5 0h1m0 0h1m4 0h1m1 0h1m-43 1h1m1 0h1m2 0h1m5 0h1m9 0h1m1 0h1m0 0h1m1 0h1m0 0h1m6 0h1m1 0h1m0 0h1m0 0h1m4 0h1m1 0h1m3 0h1m-45 1h1m1 0h1m9 0h1m4 0h1m1 0h1m1 0h1m3 0h1m1 0h1m0 0h1m2 0h1m2 0h1m0 0h1m2 0h1m7 0h1m-54 1h1m5 0h1m0 0h1m6 0h1m2 0h1m3 0h1m0 0h1m0 0h1m2 0h1m0 0h1m9 0h1m1 0h1m2 0h1m0 0h1m-46 1h1m0 0h1m7 0h1m10 0h1m0 0h1m0 0h1m0 0h1m0 0h1m1 0h1m0 0h1m1 0h1m1 0h1m0 0h1m2 0h1m0 0h1m7 0h1m1 0h1m2 0h1m-56 1h1m7 0h1m0 0h1m0 0h1m0 0h1m28 0h1m0 0h1m1 0h1m2 0h1m9 0h1m0 0h1m4 0h1m1 0h1m-65 1h1m2 0h1m7 0h1m16 0h1m0 0h1m1 0h1m1 0h1m0 0h1m2 0h1m0 0h1m2 0h1m6 0h1m2 0h1m1 0h1m1 0h1m8 0h1m-70 1h1m6 0h1m4 0h1m25 0h1m2 0h1m0 0h1m1 0h1m5 0h1m0 0h1m0 0h1m1 0h1m4 0h1m-58 1h1m2 0h1m0 0h1m2 0h1m5 0h1m16 0h1m3 0h1m0 0h1m4 0h1m0 0h1m0 0h1m5 0h1m0 0h1m8 0h1m1 0h1m4 0h1m-69 1h1m5 0h1m1 0h1m2 0h1m0 0h1m21 0h1m1 0h1m0 0h1m0 0h1m2 0h1m1 0h1m5 0h1m1 0h1m2 0h1m3 0h1m0 0h1m0 0h1m1 0h1m8 0h1m-72 1h1m4 0h1m1 0h1m2 0h1m26 0h1m0 0h1m1 0h1m2 0h1m0 0h1m7 0h1m5 0h1m6 0h1m3 0h1m-76 1h1m9 0h1m2 0h1m29 0h1m1 0h1m0 0h1m1 0h1m1 0h1m3 0h1m0 0h1m0 0h1m1 0h1m1 0h1m0 0h1m0 0h1m0 0h1m0 0h1m0 0h1m0 0h1m3 0h1m0 0h1m4 0h1m-71 1h1m1 0h1m1 0h1m2 0h1m27 0h1m0 0h1m1 0h1m3 0h1m7 0h1m1 0h1m0 0h1m6 0h1m3 0h1m-61 1h1m0 0h1m28 0h1m2 0h1m3 0h1m0 0h1m1 0h1m1 0h1m2 0h1m0 0h1m0 0h1m0 0h1m2 0h1m2 0h1m0 0h1m0 0h1m3 0h1m9 0h1m-77 1h1m3 0h1m0 0h1m0 0h1m30 0h1m2 0h1m0 0h1m4 0h1m0 0h1m4 0h1m3 0h1m2 0h1m-64 1h1m9 0h1m31 0h1m0 0h1m4 0h1m1 0h1m0 0h1m0 0h1m6 0h1m6 0h1m0 0h1m4 0h1m4 0h1m-78 1h1m2 0h1m35 0h1m2 0h1m0 0h1m1 0h1m2 0h1m2 0h1m0 0h1m3 0h1m4 0h1m0 0h1m0 0h1m3 0h1m2 0h1m-74 1h1m0 0h1m1 0h1m0 0h1m1 0h1m42 0h1m0 0h1m9 0h1m0 0h1m1 0h1m2 0h1m1 0h1m3 0h1m1 0h1m-79 1h1m7 0h1m0 0h1m38 0h1m0 0h1m0 0h1m1 0h1m6 0h1m2 0h1m0 0h1m7 0h1m2 0h1m12 0h1m-85 1h1m0 0h1m35 0h1m0 0h1m0 0h1m1 0h1m8 0h1m2 0h1m4 0h1m3 0h1m0 0h1m3 0h1m1 0h1m0 0h1m0 0h1m9 0h1m-80 1h1m1 0h1m35 0h1m2 0h1m1 0h1m5 0h1m1 0h1m1 0h1m0 0h1m1 0h1m0 0h1m2 0h1m2 0h1m0 0h1m-69 1h1m0 0h1m0 0h1m0 0h1m3 0h1m2 0h1m26 0h1m4 0h1m0 0h1m4 0h1m4 0h1m0 0h1m1 0h1m6 0h1m0 0h1m1 0h1m1 0h1m1 0h1m3 0h1m4 0h1m-78 1h1m0 0h1m1 0h1m33 0h1m0 0h1m0 0h1m5 0h1m5 0h1m0 0h1m1 0h1m2 0h1m1 0h1m1 0h1m2 0h1m2 0h1m0 0h1m1 0h1m1 0h1m2 0h1m-75 1h1m3 0h1m21 0h1m7 0h1m1 0h1m2 0h1m1 0h1m0 0h1m3 0h1m1 0h1m6 0h1m0 0h1m3 0h1m0 0h1m5 0h1m2 0h1m1 0h1m3 0h1m5 0h1" stroke="#a8a8a8" stroke-width="1" fill="none" shape-rendering="crispEdges"/>
<path d="M418 235.5h1m29 5h1m-4 1h1m-6 1h1m0 0h1m-38 1h1m29 1h1m6 0h1m0 0h1m6 1h1m-15 1h1m1 0h1m0 0h1m0 0h1m1 0h1m3 0h1m0 0h1m-10 1h1m2 0h1m1 0h1m0 0h1m1 0h1m6 0h1m-18 1h1m1 0h1m0 0h1m3 0h1m3 0h1m-38 1h1m25 0h1m0 0h1m15 0h1m-45 1h1m11 0h1m9 0h1m13 0h1m0 0h1m0 0h1m2 0h1m-23 1h1m9 0h1m3 0h1m-5 1h1m2 0h1m1 0h1m3 0h1m1 0h1m-41 1h1m26 0h1m3 0h1m3 0h1m0 0h1m4 0h1m-10 1h1m5 0h1m0 0h1m-39 1h1m25 0h1m7 0h1m0 0h1m-14 1h1m-24 1h1m5 0h1m21 0h1m2 0h1m6 0h1m-5 3h1m0 2h1m-39 2h1m-6 1h1m24 0h1m-21 1h1m5 0h1m28 0h1m-43 1h1m9 0h1m2 0h1m0 0h1m0 0h1m-6 1h1m1 0h1m6 0h1m-11 1h1m2 0h1m6 0h1m12 0h1m10 0h1m-36 1h1m0 0h1m1 0h1m-14 1h1m3 0h1m4 0h1m3 0h1m2 0h1m1 0h1m0 0h1m1 0h1m0 0h1m0 0h1m1 0h1m5 0h1m15 0h1m-46 1h1m4 0h1m1 0h1m2 0h1m1 0h1m3 0h1m3 0h1m5 0h1m8 0h1m0 0h1m-30 1h1m0 0h1m2 0h1m15 0h1m-29 1h1m10 0h1m2 0h1m8 0h1m4 0h1m2 0h1m0 0h1m3 0h1m1 0h1m-40 1h1m4 0h1m0 0h1m0 0h1m2 0h1m12 0h1m0 0h1m1 0h1m0 0h1m1 0h1m7 0h1m8 0h1m-44 1h1m2 0h1m0 0h1m2 0h1m1 0h1m4 0h1m14 0h1m3 0h1m5 0h1m0 0h1m1 0h1m-50 1h1m0 0h1m5 0h1m9 0h1m8 0h1m0 0h1m1 0h1m10 0h1m6 0h1m1 0h1m-47 1h1m9 0h1m9 0h1m3 0h1m4 0h1m0 0h1m4 0h1m0 0h1m1 0h1m2 0h1m1 0h1m2 0h1m1 0h1m-47 1h1m2 0h1m1 0h1m20 0h1m3 0h1m0 0h1m4 0h1m1 0h1m0 0h1m2 0h1m-49 1h1m0 0h1m1 0h1m1 0h1m0 0h1m2 0h1m17 0h1m0 0h1m2 0h1m2 0h1m2 0h1m0 0h1m2 0h1m0 0h1m5 0h1m0 0h1m4 0h1m-57 1h1m1 0h1m2 0h1m26 0h1m8 0h1m3 0h1m-53 1h1m5 0h1m28 0h1m2 0h1m1 0h1m6 0h1m4 0h1m2 0h1m0 0h1m1 0h1m9 0h1m-61 1h1m28 0h1m11 0h1m5 0h1m-50 1h1m1 0h1m0 0h1m0 0h1m45 0h1m3 0h1m0 0h1m0 0h1m-62 1h1m1 0h1m5 0h1m22 0h1m0 0h1m7 0h1m7 0h1m3 0h1m1 0h1m4 0h1m-67 1h1m2 0h1m7 0h1m0 0h1m19 0h1m5 0h1m6 0h1m9 0h1m2 0h1m0 0h1m5 0h1m0 0h1m-61 1h1m0 0h1m31 0h1m3 0h1m8 0h1m0 0h1m8 0h1m0 0h1m-59 1h1m0 0h1m4 0h1m27 0h1m7 0h1m10 0h1m2 0h1m0 0h1m3 0h1m-67 1h1m2 0h1m6 0h1m22 0h1m9 0h1m1 0h1m12 0h1m-62 1h1m4 0h1m5 0h1m26 0h1m8 0h1m12 0h1m8 0h1m-64 1h1m36 0h1m13 0h1m2 0h1m2 0h1m5 0h1m-71 1h1m2 0h1m3 0h1m36 0h1m11 0h1m4 0h1m-61 1h1m1 0h1m19 0h1m6 0h1m2 0h1m12 0h1m7 0h1m20 0h1" stroke="#909090" stroke-width="1" fill="none" shape-rendering="crispEdges"/>
<path d="M436 244.5h1m10 0h1m-14 1h1m7 0h1m4 0h1m1 1h1m-14 1h1m7 0h1m-5 1h1m0 0h1m1 0h1m-32 1h1m24 0h1m1 0h1m3 0h1m0 0h1m-10 1h1m6 0h1m-9 1h1m1 0h1m1 0h1m11 0h1m-13 1h1m-36 1h1m33 0h1m-2 1h1m-4 1h1m6 0h1m-23 10h1m-12 3h1m-7 1h1m4 0h1m1 1h1m7 0h1m-14 1h1m7 0h1m-11 1h1m7 0h1m1 0h1m0 0h1m0 0h1m1 0h1m-17 1h1m7 0h1m0 0h1m3 0h1m2 0h1m0 0h1m-5 1h1m1 0h1m-11 1h1m0 0h1m1 0h1m1 0h1m3 0h1m1 0h1m8 0h1m6 0h1m2 0h1m2 0h1m-42 1h1m4 0h1m3 0h1m6 0h1m3 0h1m4 0h1m-27 1h1m2 0h1m1 0h1m1 0h1m0 0h1m0 0h1m2 0h1m7 0h1m4 0h1m3 0h1m4 0h1m0 0h1m9 0h1m-43 1h1m2 0h1m1 0h1m14 0h1m3 0h1m16 0h1m-42 1h1m4 0h1m6 0h1m0 0h1m0 0h1m0 0h1m0 0h1m7 0h1m-28 1h1m20 0h1m14 0h1m4 0h1m1 0h1m-47 1h1m2 0h1m1 0h1m19 0h1m0 0h1m17 0h1m-46 1h1m22 0h1m8 0h1m3 0h1m0 0h1m1 0h1m1 0h1m12 0h1m-55 1h1m0 0h1m0 0h1m22 0h1m1 0h1m7 0h1m9 0h1m-53 1h1m9 0h1m34 0h1m0 0h1m0 0h1m3 0h1m0 0h1m-57 1h1m1 0h1m3 0h1m3 0h1m1 0h1m47 0h1m-58 1h1m2 0h1m7 0h1m22 0h1m12 0h1m1 0h1m3 0h1m-6 1h1m1 0h1m-54 1h1m2 0h1m27 0h1m4 0h1m8 0h1m4 0h1m0 0h1m-55 1h1m2 0h1m2 0h1m29 0h1m2 0h1m10 0h1m5 0h1m4 0h1m-64 2h1m6 0h1m1 0h1m0 0h1m19 0h1m4 0h1m18 0h1m10 0h1m-33 1h1m5 0h1m16 0h1m4 0h1m-60 1h1m10 0h1m15 0h1m1 0h1" stroke="#7e7e7e" stroke-width="1" fill="none" shape-rendering="crispEdges"/>
<path d="M443 243.5h1m-4 2h1m10 2h1m-5 1h1m-8 1h1m0 0h1m-4 1h1m0 0h1m-1 1h1m2 0h1m-4 1h1m2 1h1m0 1h1m-32 16h1m-7 1h1m1 0h1m29 0h1m-32 1h1m2 1h1m19 0h1m-26 1h1m1 0h1m1 0h1m0 0h1m2 0h1m-6 1h1m1 0h1m0 0h1m0 0h1m1 0h1m1 0h1m-13 1h1m2 0h1m1 0h1m0 0h1m0 0h1m2 0h1m0 0h1m3 0h1m14 0h1m-34 1h1m3 0h1m0 0h1m1 0h1m1 0h1m0 0h1m0 0h1m0 0h1m0 0h1m1 0h1m0 0h1m-22 1h1m0 0h1m2 0h1m1 0h1m1 0h1m1 0h1m0 0h1m0 0h1m0 0h1m0 0h1m0 0h1m0 0h1m0 0h1m0 0h1m2 0h1m11 0h1m7 0h1m-45 1h1m2 0h1m4 0h1m2 0h1m0 0h1m0 0h1m0 0h1m0 0h1m0 0h1m5 0h1m0 0h1m1 0h1m10 0h1m0 0h1m7 0h1m1 0h1m-43 1h1m0 0h1m1 0h1m0 0h1m0 0h1m0 0h1m0 0h1m0 0h1m0 0h1m0 0h1m0 0h1m0 0h1m0 0h1m0 0h1m0 0h1m0 0h1m0 0h1m-20 1h1m1 0h1m0 0h1m0 0h1m0 0h1m0 0h1m0 0h1m0 0h1m0 0h1m0 0h1m0 0h1m0 0h1m0 0h1m0 0h1m0 0h1m0 0h1m0 0h1m0 0h1m1 0h1m11 0h1m0 0h1m-37 1h1m0 0h1m0 0h1m0 0h1m0 0h1m0 0h1m0 0h1m0 0h1m0 0h1m0 0h1m0 0h1m0 0h1m0 0h1m0 0h1m0 0h1m0 0h1m0 0h1m0 0h1m0 0h1m0 0h1m0 0h1m1 0h1m0 0h1m14 0h1m-38 1h1m0 0h1m0 0h1m0 0h1m0 0h1m0 0h1m0 0h1m0 0h1m0 0h1m0 0h1m0 0h1m0 0h1m0 0h1m0 0h1m0 0h1m0 0h1m0 0h1m0 0h1m0 0h1m0 0h1m0 0h1m0 0h1m14 0h1m8 0h1m0 0h1m-52 1h1m3 0h1m1 0h1m0 0h1m0 0h1m0 0h1m0 0h1m0 0h1m0 0h1m0 0h1m0 0h1m0 0h1m0 0h1m0 0h1m0 0h1m0 0h1m0 0h1m0 0h1m0 0h1m0 0h1m0 0h1m0 0h1m0 0h1m0 0h1m2 0h1m12 0h1m1 0h1m-46 1h1m3 0h1m0 0h1m0 0h1m0 0h1m0 0h1m0 0h1m0 0h1m0 0h1m0 0h1m0 0h1m0 0h1m0 0h1m0 0h1m0 0h1m0 0h1m0 0h1m0 0h1m0 0h1m0 0h1m0 0h1m0 0h1m2 0h1m0 0h1m14 0h1m1 0h1m3 0h1m-55 1h1m4 0h1m0 0h1m0 0h1m0 0h1m0 0h1m1 0h1m0 0h1m0 0h1m0 0h1m0 0h1m0 0h1m0 0h1m0 0h1m0 0h1m0 0h1m0 0h1m0 0h1m0 0h1m1 0h1m0 0h1m0 0h1m0 0h1m0 0h1m1 0h1m2 0h1m-35 1h1m0 0h1m0 0h1m0 0h1m0 0h1m0 0h1m0 0h1m0 0h1m0 0h1m0 0h1m0 0h1m0 0h1m0 0h1m0 0h1m0 0h1m0 0h1m0 0h1m0 0h1m0 0h1m0 0h1m0 0h1m0 0h1m0 0h1m0 0h1m0 0h1m0 0h1m0 0h1m0 0h1m0 0h1m0 0h1m0 0h1m2 0h1m0 0h1m-35 1h1m0 0h1m0 0h1m1 0h1m0 0h1m0 0h1m0 0h1m0 0h1m0 0h1m0 0h1m0 0h1m0 0h1m0 0h1m0 0h1m0 0h1m0 0h1m0 0h1m0 0h1m0 0h1m0 0h1m0 0h1m0 0h1m0 0h1m0 0h1m0 0h1m0 0h1m1 0h1m0 0h1m0 0h1m13 0h1m-48 1h1m0 0h1m1 0h1m0 0h1m1 0h1m0 0h1m0 0h1m0 0h1m0 0h1m0 0h1m0 0h1m0 0h1m0 0h1m0 0h1m0 0h1m0 0h1m0 0h1m0 0h1m0 0h1m0 0h1m0 0h1m0 0h1m0 0h1m0 0h1m0 0h1m0 0h1m-28 1h1m0 0h1m0 0h1m1 0h1m0 0h1m0 0h1m0 0h1m0 0h1m0 0h1m0 0h1m0 0h1m0 0h1m0 0h1m0 0h1m0 0h1m0 0h1m0 0h1m0 0h1m0 0h1m0 0h1m0 0h1m0 0h1m0 0h1m0 0h1m0 0h1m0 0h1m0 0h1m0 0h1m0 0h1m1 0h1m1 0h1m-39 1h1m6 0h1m2 0h1m0 0h1m0 0h1m0 0h1m0 0h1m0 0h1m0 0h1m0 0h1m0 0h1m0 0h1m0 0h1m0 0h1m0 0h1m0 0h1m0 0h1m0 0h1m0 0h1m0 0h1m0 0h1m1 0h1m0 0h1m1 0h1m1 0h1m0 0h1m-36 1h1m0 0h1m1 0h1m0 0h1m0 0h1m0 0h1m0 0h1m0 0h1m0 0h1m0 0h1m0 0h1m0 0h1m0 0h1m0 0h1m0 0h1m0 0h1m0 0h1m0 0h1m0 0h1m0 0h1m0 0h1m0 0h1m0 0h1m0 0h1m0 0h1m0 0h1m0 0h1m0 0h1m0 0h1m0 0h1m1 0h1m19 0h1m-51 1h1m0 0h1m0 0h1m0 0h1m0 0h1m0 0h1m0 0h1m0 0h1m0 0h1m1 0h1m0 0h1m0 0h1m0 0h1m0 0h1m0 0h1m1 0h1m0 0h1m0 0h1m0 0h1m1 0h1m1 0h1m3 0h1m1 0h1m22 0h1" stroke="#707070" stroke-width="1" fill="none" shape-rendering="crispEdges"/>
<rect x="358.50" y="194.50" width="111.00" height="103.00" fill="none" stroke="#333" stroke-width="1.0"/>
<line x1="421.50" y1="194.50" x2="421.50" y2="297.50" stroke="#333" stroke-width="1.0"/>
<line x1="358.50" y1="258.50" x2="469.50" y2="258.50" stroke="#333" stroke-width="1.0"/>
<path d="M358.50 297.50v2.4M358.50 297.50h-2.4M366.85 297.50v1.6M358.50 289.75h-1.6M371.74 297.50v1.6M358.50 285.21h-1.6M375.21 297.50v1.6M358.50 282.00h-1.6M377.90 297.50v1.6M358.50 279.50h-1.6M380.09 297.50v1.6M358.50 277.46h-1.6M381.95 297.50v1.6M358.50 275.74h-1.6M383.56 297.50v1.6M358.50 274.25h-1.6M384.98 297.50v1.6M358.50 272.93h-1.6M386.25 297.50v2.4M358.50 271.75h-2.4M394.60 297.50v1.6M358.50 264.00h-1.6M399.49 297.50v1.6M358.50 259.46h-1.6M402.96 297.50v1.6M358.50 256.25h-1.6M405.65 297.50v1.6M358.50 253.75h-1.6M407.84 297.50v1.6M358.50 251.71h-1.6M409.70 297.50v1.6M358.50 249.99h-1.6M411.31 297.50v1.6M358.50 248.50h-1.6M412.73 297.50v1.6M358.50 247.18h-1.6M414.00 297.50v2.4M358.50 246.00h-2.4M422.35 297.50v1.6M358.50 238.25h-1.6M427.24 297.50v1.6M358.50 233.71h-1.6M430.71 297.50v1.6M358.50 230.50h-1.6M433.40 297.50v1.6M358.50 228.00h-1.6M435.59 297.50v1.6M358.50 225.96h-1.6M437.45 297.50v1.6M358.50 224.24h-1.6M439.06 297.50v1.6M358.50 222.75h-1.6M440.48 297.50v1.6M358.50 221.43h-1.6M441.75 297.50v2.4M358.50 220.25h-2.4M450.10 297.50v1.6M358.50 212.50h-1.6M454.99 297.50v1.6M358.50 207.96h-1.6M458.46 297.50v1.6M358.50 204.75h-1.6M461.15 297.50v1.6M358.50 202.25h-1.6M463.34 297.50v1.6M358.50 200.21h-1.6M465.20 297.50v1.6M358.50 198.49h-1.6M466.81 297.50v1.6M358.50 197.00h-1.6M468.23 297.50v1.6M358.50 195.68h-1.6M469.50 297.50v2.4M358.50 194.50h-2.4" stroke="#444" stroke-width="0.8" fill="none"/>
<text x="353.66" y="307.40" font-size="6.00" font-family='"Liberation Sans",sans-serif' fill="#444">10</text>
<text x="360.34" y="304.40" font-size="5.40" font-family='"Liberation Sans",sans-serif' fill="#444">0</text>
<text transform="translate(353.70,302.34) rotate(-90)" font-size="6.00" font-family='"Liberation Sans",sans-serif' fill="#444">10</text>
<text transform="translate(350.70,295.66) rotate(-90)" font-size="5.40" font-family='"Liberation Sans",sans-serif' fill="#444">0</text>
<text x="381.41" y="307.40" font-size="6.00" font-family='"Liberation Sans",sans-serif' fill="#444">10</text>
<text x="388.09" y="304.40" font-size="5.40" font-family='"Liberation Sans",sans-serif' fill="#444">1</text>
<text transform="translate(353.70,276.59) rotate(-90)" font-size="6.00" font-family='"Liberation Sans",sans-serif' fill="#444">10</text>
<text transform="translate(350.70,269.91) rotate(-90)" font-size="5.40" font-family='"Liberation Sans",sans-serif' fill="#444">1</text>
<text x="409.16" y="307.40" font-size="6.00" font-family='"Liberation Sans",sans-serif' fill="#444">10</text>
<text x="415.84" y="304.40" font-size="5.40" font-family='"Liberation Sans",sans-serif' fill="#444">2</text>
<text transform="translate(353.70,250.84) rotate(-90)" font-size="6.00" font-family='"Liberation Sans",sans-serif' fill="#444">10</text>
<text transform="translate(350.70,244.16) rotate(-90)" font-size="5.40" font-family='"Liberation Sans",sans-serif' fill="#444">2</text>
<text x="436.91" y="307.40" font-size="6.00" font-family='"Liberation Sans",sans-serif' fill="#444">10</text>
<text x="443.59" y="304.40" font-size="5.40" font-family='"Liberation Sans",sans-serif' fill="#444">3</text>
<text transform="translate(353.70,225.09) rotate(-90)" font-size="6.00" font-family='"Liberation Sans",sans-serif' fill="#444">10</text>
<text transform="translate(350.70,218.41) rotate(-90)" font-size="5.40" font-family='"Liberation Sans",sans-serif' fill="#444">3</text>
<text x="464.66" y="307.40" font-size="6.00" font-family='"Liberation Sans",sans-serif' fill="#444">10</text>
<text x="471.34" y="304.40" font-size="5.40" font-family='"Liberation Sans",sans-serif' fill="#444">4</text>
<text transform="translate(353.70,199.34) rotate(-90)" font-size="6.00" font-family='"Liberation Sans",sans-serif' fill="#444">10</text>
<text transform="translate(350.70,192.66) rotate(-90)" font-size="5.40" font-family='"Liberation Sans",sans-serif' fill="#444">4</text>
<text x="370.40" y="189.40" font-size="7.60" font-weight="bold" textLength="87.90" lengthAdjust="spacingAndGlyphs">1uM + miR-146a inhibitor</text>
<text x="439.20" y="203.50" font-size="6.10" font-weight="bold" textLength="28.00" lengthAdjust="spacingAndGlyphs">7.8 ±1.2#</text>
<text x="431.70" y="296.60" font-size="6.10" font-weight="bold" textLength="32.30" lengthAdjust="spacingAndGlyphs">17.2. ±3.1#</text>
<text transform="translate(338.70,251.90) rotate(-90)" font-size="10.00" font-weight="bold" textLength="9.90" lengthAdjust="spacingAndGlyphs">PI</text>
<path d="M144 364.5h1m-43 2h1m17 1h1m0 1h1m0 1h1m10 0h1m14 0h1m-26 1h1m16 0h1m4 0h1m-34 1h1m29 0h1m-27 1h1m22 1h1m1 0h1m-41 1h1m6 0h1m6 0h1m1 0h1m6 0h1m0 0h1m1 0h1m1 0h1m2 0h1m-40 1h1m12 0h1m8 0h1m14 0h1m-50 1h1m12 0h1m1 0h1m21 0h1m1 0h1m2 0h1m3 0h1m10 0h1m-47 1h1m12 0h1m8 0h1m1 0h1m0 0h1m5 0h1m1 0h1m0 0h1m0 0h1m3 0h1m-43 1h1m2 0h1m11 0h1m6 0h1m1 0h1m3 0h1m1 0h1m1 0h1m1 0h1m0 0h1m1 0h1m3 0h1m1 0h1m1 0h1m3 0h1m1 0h1m-54 1h1m10 0h1m19 0h1m1 0h1m1 0h1m2 0h1m2 0h1m-31 1h1m0 0h1m6 0h1m1 0h1m4 0h1m1 0h1m0 0h1m9 0h1m0 0h1m2 0h1m2 0h1m10 0h1m-54 1h1m2 0h1m0 0h1m18 0h1m8 0h1m3 0h1m3 0h1m1 0h1m3 0h1m8 0h1m-60 1h1m4 0h1m0 0h1m3 0h1m1 0h1m5 0h1m9 0h1m0 0h1m0 0h1m0 0h1m2 0h1m1 0h1m1 0h1m1 0h1m0 0h1m5 0h1m1 0h1m-49 1h1m0 0h1m0 0h1m3 0h1m2 0h1m3 0h1m6 0h1m10 0h1m5 0h1m1 0h1m3 0h1m2 0h1m3 0h1m-59 1h1m11 0h1m0 0h1m3 0h1m1 0h1m0 0h1m0 0h1m1 0h1m1 0h1m0 0h1m0 0h1m1 0h1m11 0h1m2 0h1m2 0h1m2 0h1m13 0h1m-74 1h1m23 0h1m9 0h1m0 0h1m0 0h1m1 0h1m7 0h1m0 0h1m0 0h1m3 0h1m1 0h1m0 0h1m2 0h1m0 0h1m3 0h1m1 0h1m0 0h1m-53 1h1m3 0h1m1 0h1m0 0h1m1 0h1m1 0h1m8 0h1m1 0h1m2 0h1m3 0h1m2 0h1m0 0h1m1 0h1m0 0h1m0 0h1m1 0h1m1 0h1m1 0h1m0 0h1m0 0h1m3 0h1m1 0h1m3 0h1m-56 1h1m0 0h1m0 0h1m2 0h1m1 0h1m1 0h1m2 0h1m4 0h1m2 0h1m0 0h1m0 0h1m3 0h1m0 0h1m1 0h1m0 0h1m1 0h1m0 0h1m5 0h1m1 0h1m1 0h1m5 0h1m3 0h1m-48 1h1m6 0h1m1 0h1m4 0h1m0 0h1m6 0h1m0 0h1m1 0h1m2 0h1m9 0h1m10 0h1m3 0h1m-56 1h1m4 0h1m2 0h1m5 0h1m4 0h1m2 0h1m1 0h1m4 0h1m0 0h1m2 0h1m3 0h1m9 0h1m0 0h1m-54 1h1m3 0h1m5 0h1m0 0h1m1 0h1m3 0h1m0 0h1m0 0h1m1 0h1m0 0h1m2 0h1m0 0h1m0 0h1m1 0h1m1 0h1m2 0h1m1 0h1m6 0h1m1 0h1m-36 1h1m13 0h1m8 0h1m0 0h1m1 0h1m2 0h1m0 0h1m5 0h1m13 0h1m-68 1h1m6 0h1m8 0h1m0 0h1m0 0h1m0 0h1m1 0h1m0 0h1m0 0h1m3 0h1m0 0h1m0 0h1m0 0h1m0 0h1m2 0h1m0 0h1m0 0h1m1 0h1m0 0h1m0 0h1m7 0h1m0 0h1m1 0h1m10 0h1m2 0h1m3 0h1m-96 1h1m35 0h1m2 0h1m2 0h1m0 0h1m3 0h1m1 0h1m1 0h1m0 0h1m2 0h1m0 0h1m2 0h1m0 0h1m0 0h1m0 0h1m5 0h1m4 0h1m3 0h1m0 0h1m2 0h1m-43 1h1m2 0h1m0 0h1m2 0h1m1 0h1m1 0h1m1 0h1m1 0h1m3 0h1m0 0h1m1 0h1m1 0h1m3 0h1m0 0h1m0 0h1m0 0h1m0 0h1m0 0h1m0 0h1m4 0h1m0 0h1m5 0h1m0 0h1m9 0h1m-71 1h1m10 0h1m3 0h1m0 0h1m4 0h1m0 0h1m0 0h1m4 0h1m0 0h1m3 0h1m4 0h1m2 0h1m1 0h1m0 0h1m8 0h1m3 0h1m4 0h1m-57 1h1m1 0h1m1 0h1m3 0h1m3 0h1m0 0h1m2 0h1m0 0h1m1 0h1m0 0h1m17 0h1m1 0h1m0 0h1m1 0h1m1 0h1m2 0h1m-49 1h1m3 0h1m5 0h1m6 0h1m0 0h1m0 0h1m2 0h1m11 0h1m8 0h1m0 0h1m5 0h1m2 0h1m1 0h1m-60 1h1m5 0h1m12 0h1m3 0h1m1 0h1m9 0h1m1 0h1m1 0h1m4 0h1m0 0h1m3 0h1m1 0h1m5 0h1m1 0h1m9 0h1m-100 1h1m27 0h1m2 0h1m1 0h1m0 0h1m0 0h1m3 0h1m0 0h1m1 0h1m2 0h1m3 0h1m1 0h1m0 0h1m3 0h1m0 0h1m2 0h1m4 0h1m3 0h1m2 0h1m1 0h1m7 0h1m0 0h1m1 0h1m1 0h1m-73 1h1m12 0h1m0 0h1m1 0h1m3 0h1m0 0h1m1 0h1m0 0h1m2 0h1m2 0h1m0 0h1m1 0h1m0 0h1m1 0h1m0 0h1m2 0h1m2 0h1m0 0h1m3 0h1m1 0h1m1 0h1m0 0h1m4 0h1m0 0h1m1 0h1m1 0h1m9 0h1m5 0h1m-75 1h1m6 0h1m0 0h1m1 0h1m4 0h1m0 0h1m9 0h1m0 0h1m2 0h1m3 0h1m3 0h1m3 0h1m1 0h1m0 0h1m7 0h1m9 0h1m5 0h1m-68 1h1m6 0h1m2 0h1m0 0h1m0 0h1m0 0h1m2 0h1m1 0h1m0 0h1m3 0h1m2 0h1m1 0h1m1 0h1m1 0h1m1 0h1m6 0h1m6 0h1m4 0h1m16 0h1m-68 1h1m4 0h1m1 0h1m0 0h1m2 0h1m1 0h1m4 0h1m0 0h1m1 0h1m1 0h1m3 0h1m2 0h1m7 0h1m2 0h1m4 0h1m1 0h1m1 0h1m2 0h1m-60 1h1m6 0h1m0 0h1m0 0h1m7 0h1m1 0h1m0 0h1m5 0h1m1 0h1m2 0h1m0 0h1m0 0h1m0 0h1m3 0h1m0 0h1m2 0h1m1 0h1m1 0h1m2 0h1m1 0h1m1 0h1m10 0h1m-63 1h1m3 0h1m1 0h1m0 0h1m4 0h1m1 0h1m2 0h1m9 0h1m0 0h1m1 0h1m3 0h1m0 0h1m4 0h1m1 0h1m1 0h1m0 0h1m1 0h1m0 0h1m5 0h1m-63 1h1m5 0h1m0 0h1m4 0h1m6 0h1m0 0h1m9 0h1m0 0h1m1 0h1m1 0h1m5 0h1m0 0h1m9 0h1m2 0h1m10 0h1m15 0h1m-72 1h1m3 0h1m0 0h1m0 0h1m2 0h1m0 0h1m6 0h1m0 0h1m10 0h1m0 0h1m0 0h1m1 0h1m2 0h1m0 0h1m0 0h1m0 0h1m0 0h1m5 0h1m3 0h1m-67 1h1m22 0h1m16 0h1m0 0h1m2 0h1m0 0h1m16 0h1m0 0h1m6 0h1m-69 1h1m9 0h1m1 0h1m2 0h1m1 0h1m19 0h1m6 0h1m0 0h1m1 0h1m0 0h1m0 0h1m0 0h1m0 0h1m8 0h1m1 0h1m0 0h1m0 0h1m0 0h1m0 0h1m7 0h1m-79 1h1m16 0h1m5 0h1m1 0h1m0 0h1m3 0h1m0 0h1m7 0h1m6 0h1m2 0h1m0 0h1m2 0h1m1 0h1m0 0h1m0 0h1m3 0h1m1 0h1m3 0h1m1 0h1m9 0h1m2 0h1m3 0h1m-69 1h1m2 0h1m3 0h1m23 0h1m1 0h1m5 0h1m2 0h1m1 0h1m4 0h1m13 0h1m-62 1h1m2 0h1m0 0h1m24 0h1m8 0h1m5 0h1m0 0h1m1 0h1m25 0h1m-77 1h1m0 0h1m0 0h1m0 0h1m0 0h1m2 0h1m17 0h1m5 0h1m1 0h1m1 0h1m0 0h1m6 0h1m0 0h1m0 0h1m7 0h1m5 0h1m-63 1h1m2 0h1m0 0h1m0 0h1m2 0h1m0 0h1m23 0h1m10 0h1m1 0h1m3 0h1m2 0h1m0 0h1m4 0h1m-33 1h1m11 0h1m0 0h1m1 0h1m1 0h1m0 0h1m3 0h1m0 0h1m0 0h1m0 0h1m1 0h1m1 0h1m0 0h1m1 0h1m1 0h1m4 0h1m-73 1h1m1 0h1m4 0h1m0 0h1m3 0h1m23 0h1m3 0h1m0 0h1m2 0h1m5 0h1m2 0h1m6 0h1m1 0h1m0 0h1m-60 1h1m1 0h1m0 0h1m1 0h1m30 0h1m4 0h1m1 0h1m2 0h1m2 0h1m0 0h1m4 0h1m1 0h1m1 0h1m-59 1h1m2 0h1m31 0h1m2 0h1m4 0h1m0 0h1m0 0h1m2 0h1m0 0h1m0 0h1m0 0h1m0 0h1m2 0h1m1 0h1m0 0h1m7 0h1m-76 1h1m4 0h1m0 0h1m0 0h1m1 0h1m2 0h1m27 0h1m3 0h1m4 0h1m5 0h1m2 0h1m4 0h1m2 0h1m1 0h1m0 0h1m-72 1h1m0 0h1m5 0h1m1 0h1m1 0h1m28 0h1m2 0h1m2 0h1m1 0h1m10 0h1m3 0h1m0 0h1m0 0h1m0 0h1m4 0h1m-68 1h1m4 0h1m0 0h1m1 0h1m24 0h1m10 0h1m5 0h1m0 0h1m2 0h1m0 0h1m0 0h1m0 0h1m1 0h1m7 0h1m21 0h1m-100 1h1m10 0h1m1 0h1m3 0h1m24 0h1m5 0h1m0 0h1m2 0h1m1 0h1m0 0h1m1 0h1m1 0h1m1 0h1m3 0h1m1 0h1m0 0h1m9 0h1m0 0h1m-79 1h1m3 0h1m0 0h1m1 0h1m1 0h1m3 0h1m30 0h1m0 0h1m1 0h1m3 0h1m6 0h1m12 0h1m6 0h1m2 0h1m13 0h1m-95 1h1m0 0h1m4 0h1m32 0h1m1 0h1m4 0h1m3 0h1m9 0h1m1 0h1m0 0h1m1 0h1m4 0h1m11 0h1m-83 1h1m38 0h1m2 0h1m0 0h1m2 0h1m0 0h1m2 0h1m0 0h1m4 0h1m1 0h1m5 0h1m13 0h1m-71 1h1m25 0h1m1 0h1m0 0h1m2 0h1m1 0h1m1 0h1m6 0h1m25 0h1m-44 1h1m5 0h1m0 0h1m0 0h1m1 0h1m0 0h1m0 0h1m2 0h1m3 0h1m4 0h1m1 0h1m3 0h1m0 0h1m5 0h1m3 0h1m2 0h1m-83 1h1m2 0h1m32 0h1m2 0h1m3 0h1m1 0h1m0 0h1m1 0h1m1 0h1m0 0h1m0 0h1m0 0h1m0 0h1m1 0h1m3 0h1m3 0h1m12 0h1m1 0h1m2 0h1m1 0h1m2 0h1m-89 1h1m36 0h1m0 0h1m0 0h1m0 0h1m0 0h1m4 0h1m0 0h1m0 0h1m0 0h1m1 0h1m0 0h1m1 0h1m0 0h1m11 0h1m3 0h1m0 0h1m2 0h1m1 0h1m0 0h1m0 0h1m12 0h1" stroke="#a8a8a8" stroke-width="1" fill="none" shape-rendering="crispEdges"/>
<path d="M120 375.5h1m1 1h1m-7 2h1m5 0h1m2 0h1m5 1h1m-22 1h1m8 0h1m-21 1h1m16 0h1m0 0h1m4 0h1m-19 1h1m8 0h1m6 0h1m1 0h1m1 0h1m4 0h1m-35 1h1m3 0h1m3 0h1m1 0h1m4 0h1m1 0h1m7 0h1m5 0h1m-39 1h1m5 0h1m21 0h1m1 0h1m-11 1h1m4 0h1m1 0h1m0 0h1m7 0h1m13 0h1m-51 1h1m9 0h1m13 0h1m-18 1h1m3 0h1m10 0h1m2 0h1m9 0h1m1 0h1m4 0h1m0 0h1m-47 1h1m6 0h1m9 0h1m5 0h1m0 0h1m2 0h1m2 0h1m1 0h1m6 0h1m3 0h1m3 0h1m-48 1h1m4 0h1m9 0h1m5 0h1m2 0h1m0 0h1m5 0h1m7 0h1m3 0h1m-37 1h1m6 0h1m0 0h1m3 0h1m9 0h1m9 0h1m-33 1h1m4 0h1m4 0h1m2 0h1m5 0h1m0 0h1m8 0h1m0 0h1m15 0h1m-51 1h1m20 0h1m0 0h1m3 0h1m3 0h1m3 0h1m6 0h1m3 0h1m-48 1h1m21 0h1m0 0h1m15 0h1m-42 1h1m4 0h1m43 0h1m-40 1h1m0 0h1m5 0h1m1 0h1m4 0h1m3 0h1m4 0h1m5 0h1m0 0h1m7 0h1m-44 1h1m2 0h1m12 0h1m3 0h1m2 0h1m0 0h1m1 0h1m4 0h1m-32 1h1m9 0h1m7 0h1m6 0h1m5 0h1m8 0h1m-48 1h1m3 0h1m9 0h1m9 0h1m-10 1h1m4 0h1m0 0h1m6 0h1m9 0h1m-35 1h1m2 0h1m3 0h1m-14 1h1m1 0h1m4 0h1m2 0h1m2 0h1m0 0h1m25 0h1m-36 1h1m0 0h1m1 0h1m3 0h1m2 0h1m6 0h1m3 0h1m0 0h1m-18 1h1m0 0h1m2 0h1m1 0h1m3 0h1m2 0h1m3 0h1m-26 1h1m1 0h1m7 0h1m4 0h1m0 0h1m-13 1h1m2 0h1m4 0h1m6 0h1m0 0h1m3 0h1m9 0h1m-33 1h1m2 0h1m0 0h1m0 0h1m8 0h1m1 0h1m1 0h1m8 0h1m1 0h1m-38 1h1m8 0h1m6 0h1m0 0h1m0 0h1m0 0h1m4 0h1m6 0h1m-24 1h1m0 0h1m3 0h1m0 0h1m8 0h1m8 0h1m-28 1h1m2 0h1m8 0h1m4 0h1m0 0h1m1 0h1m12 0h1m-36 1h1m2 0h1m4 0h1m11 0h1m2 0h1m0 0h1m5 0h1m5 0h1m-39 1h1m4 0h1m12 0h1m1 0h1m0 0h1m1 0h1m1 0h1m4 0h1m0 0h1m4 0h1m7 0h1m-48 1h1m1 0h1m3 0h1m3 0h1m15 0h1m4 0h1m-36 1h1m9 0h1m0 0h1m10 0h1m3 0h1m2 0h1m22 0h1m-43 1h1m0 0h1m11 0h1m3 0h1m2 0h1m5 0h1m3 0h1m0 0h1m-43 1h1m0 0h1m0 0h1m3 0h1m0 0h1m1 0h1m16 0h1m2 0h1m6 0h1m10 0h1m7 0h1m-51 1h1m1 0h1m1 0h1m15 0h1m5 0h1m0 0h1m3 0h1m0 0h1m10 0h1m-50 1h1m33 0h1m8 0h1m8 0h1m-51 1h1m2 0h1m3 0h1m21 0h1m4 0h1m0 0h1m-39 1h1m27 0h1m8 0h1m-36 1h1m21 0h1m7 0h1m1 0h1m0 0h1m3 0h1m3 0h1m3 0h1m-56 1h1m2 0h1m2 0h1m4 0h1m24 0h1m2 0h1m1 0h1m1 0h1m0 0h1m0 0h1m-45 1h1m2 0h1m1 0h1m0 0h1m25 0h1m4 0h1m6 0h1m6 0h1m9 0h1m-64 1h1m5 0h1m2 0h1m4 0h1m15 0h1m1 0h1m2 0h1m6 0h1m1 0h1m15 0h1m-63 1h1m0 0h1m5 0h1m25 0h1m1 0h1m6 0h1m10 0h1m-58 1h1m3 0h1m3 0h1m0 0h1m29 0h1m1 0h1m8 0h1m2 0h1m-51 1h1m7 0h1m20 0h1m6 0h1m4 0h1m5 0h1m-50 1h1m1 0h1m25 0h1m6 0h1m2 0h1m-38 1h1m1 0h1m1 0h1m28 0h1m8 0h1m23 0h1m-62 1h1m2 0h1m12 0h1m7 0h1m14 0h1m2 0h1m10 0h1m8 0h1" stroke="#909090" stroke-width="1" fill="none" shape-rendering="crispEdges"/>
<path d="M123 379.5h1m-3 1h1m-6 3h1m4 0h1m-12 1h1m8 0h1m0 0h1m1 0h1m3 0h1m-35 1h1m2 1h1m8 0h1m26 0h1m-13 1h1m1 0h1m-26 1h1m0 0h1m13 0h1m25 0h1m-37 1h1m21 0h1m6 0h1m-14 1h1m1 0h1m1 0h1m3 0h1m-26 1h1m9 0h1m8 0h1m5 0h1m5 0h1m-31 2h1m6 1h1m8 2h1m-13 4h1m-14 1h1m4 0h1m-19 1h1m4 1h1m1 1h1m2 0h1m3 0h1m1 0h1m-8 1h1m1 0h1m1 0h1m3 0h1m-11 1h1m3 0h1m3 0h1m4 0h1m-16 1h1m13 0h1m0 0h1m1 0h1m-24 1h1m3 0h1m5 0h1m2 0h1m0 0h1m2 0h1m4 0h1m-22 1h1m0 0h1m2 0h1m2 0h1m0 0h1m6 0h1m0 0h1m1 0h1m2 0h1m-5 1h1m-13 1h1m9 0h1m1 0h1m6 0h1m-27 1h1m5 0h1m1 0h1m10 0h1m4 0h1m0 0h1m-21 1h1m15 0h1m2 0h1m0 0h1m-27 1h1m18 0h1m8 0h1m-28 1h1m2 0h1m0 0h1m10 0h1m8 0h1m1 0h1m2 0h1m-35 1h1m24 0h1m3 1h1m3 0h1m-40 1h1m27 0h1m7 0h1m-33 1h1m2 0h1m27 0h1m0 0h1m6 0h1m9 0h1m-49 1h1m14 0h1m7 0h1m3 0h1m-28 1h1m3 0h1m17 0h1m5 0h1m-6 1h1m6 0h1m0 0h1m-11 1h1m5 0h1m-41 1h1m6 0h1m0 0h1m21 0h1m8 0h1m2 0h1m5 0h1m-48 1h1m7 0h1m20 0h1m18 0h1m-51 1h1m1 0h1m13 0h1m0 0h1m6 0h1m4 0h1m-23 1h1m7 0h1m10 0h1m2 0h1m2 0h1m0 0h1m1 0h1m-40 1h1m11 0h1m15 0h1m1 0h1m0 0h1m-28 1h1m2 0h1m6 0h1m0 0h1m7 0h1m2 0h1" stroke="#7e7e7e" stroke-width="1" fill="none" shape-rendering="crispEdges"/>
<path d="M123 386.5h1m-8 1h1m1 1h1m1 0h1m-22 1h1m28 1h1m-8 2h1m-8 1h1m-26 10h1m-9 1h1m-1 1h1m1 0h1m12 1h1m-9 1h1m7 0h1m-10 1h1m5 0h1m0 0h1m-10 1h1m2 0h1m0 0h1m0 0h1m0 0h1m0 0h1m9 0h1m-20 1h1m0 0h1m3 0h1m0 0h1m0 0h1m0 0h1m0 0h1m0 0h1m1 0h1m1 0h1m0 0h1m1 0h1m-20 1h1m1 0h1m1 0h1m0 0h1m0 0h1m0 0h1m0 0h1m0 0h1m0 0h1m0 0h1m0 0h1m5 0h1m9 0h1m-29 1h1m0 0h1m3 0h1m0 0h1m0 0h1m0 0h1m0 0h1m0 0h1m0 0h1m0 0h1m0 0h1m0 0h1m1 0h1m0 0h1m0 0h1m3 0h1m-27 1h1m5 0h1m0 0h1m0 0h1m0 0h1m0 0h1m0 0h1m0 0h1m0 0h1m0 0h1m1 0h1m0 0h1m0 0h1m4 0h1m-22 1h1m2 0h1m0 0h1m0 0h1m0 0h1m0 0h1m0 0h1m0 0h1m0 0h1m0 0h1m0 0h1m0 0h1m1 0h1m1 0h1m1 0h1m0 0h1m3 0h1m-25 1h1m2 0h1m0 0h1m0 0h1m0 0h1m0 0h1m0 0h1m0 0h1m0 0h1m0 0h1m0 0h1m1 0h1m0 0h1m2 0h1m1 0h1m0 0h1m1 0h1m-26 1h1m1 0h1m0 0h1m0 0h1m0 0h1m0 0h1m0 0h1m0 0h1m0 0h1m0 0h1m0 0h1m0 0h1m0 0h1m0 0h1m0 0h1m0 0h1m1 0h1m0 0h1m1 0h1m3 0h1m-32 1h1m2 0h1m0 0h1m0 0h1m0 0h1m0 0h1m0 0h1m0 0h1m0 0h1m0 0h1m0 0h1m0 0h1m0 0h1m0 0h1m0 0h1m0 0h1m0 0h1m0 0h1m0 0h1m0 0h1m0 0h1m0 0h1m0 0h1m0 0h1m0 0h1m0 0h1m0 0h1m0 0h1m-29 1h1m1 0h1m0 0h1m0 0h1m1 0h1m0 0h1m0 0h1m0 0h1m0 0h1m0 0h1m0 0h1m0 0h1m0 0h1m0 0h1m0 0h1m0 0h1m0 0h1m0 0h1m0 0h1m0 0h1m1 0h1m0 0h1m0 0h1m0 0h1m1 0h1m0 0h1m-30 1h1m1 0h1m0 0h1m0 0h1m0 0h1m0 0h1m0 0h1m0 0h1m0 0h1m0 0h1m0 0h1m0 0h1m0 0h1m0 0h1m0 0h1m0 0h1m0 0h1m0 0h1m0 0h1m0 0h1m0 0h1m0 0h1m1 0h1m0 0h1m0 0h1m1 0h1m-29 1h1m0 0h1m0 0h1m0 0h1m0 0h1m0 0h1m0 0h1m0 0h1m0 0h1m0 0h1m0 0h1m0 0h1m0 0h1m0 0h1m1 0h1m0 0h1m0 0h1m0 0h1m1 0h1m0 0h1m1 0h1m0 0h1m-29 1h1m3 0h1m0 0h1m0 0h1m1 0h1m0 0h1m0 0h1m0 0h1m0 0h1m0 0h1m0 0h1m0 0h1m0 0h1m0 0h1m0 0h1m0 0h1m0 0h1m0 0h1m0 0h1m0 0h1m0 0h1m3 0h1m0 0h1m-31 1h1m1 0h1m0 0h1m0 0h1m0 0h1m0 0h1m0 0h1m0 0h1m0 0h1m0 0h1m0 0h1m0 0h1m0 0h1m0 0h1m0 0h1m0 0h1m0 0h1m0 0h1m0 0h1m0 0h1m0 0h1m0 0h1m0 0h1m0 0h1m4 0h1m-37 1h1m1 0h1m0 0h1m2 0h1m1 0h1m0 0h1m0 0h1m0 0h1m1 0h1m0 0h1m0 0h1m0 0h1m0 0h1m0 0h1m0 0h1m0 0h1m0 0h1m0 0h1m0 0h1m0 0h1m0 0h1m0 0h1m0 0h1m1 0h1m1 0h1m2 0h1m-35 1h1m0 0h1m0 0h1m1 0h1m2 0h1m0 0h1m0 0h1m0 0h1m0 0h1m0 0h1m0 0h1m0 0h1m0 0h1m0 0h1m0 0h1m0 0h1m0 0h1m0 0h1m0 0h1m0 0h1m0 0h1m0 0h1m0 0h1m0 0h1m0 0h1m2 0h1m-33 1h1m3 0h1m0 0h1m0 0h1m0 0h1m0 0h1m1 0h1m0 0h1m0 0h1m0 0h1m0 0h1m0 0h1m0 0h1m0 0h1m0 0h1m0 0h1m0 0h1m0 0h1m0 0h1m0 0h1m0 0h1m0 0h1m0 0h1m0 0h1m0 0h1m0 0h1m1 0h1m0 0h1m-35 1h1m1 0h1m1 0h1m1 0h1m1 0h1m0 0h1m0 0h1m0 0h1m0 0h1m0 0h1m0 0h1m0 0h1m0 0h1m2 0h1m0 0h1m0 0h1m0 0h1m0 0h1m0 0h1m1 0h1m0 0h1m1 0h1m2 0h1m-33 1h1m0 0h1m0 0h1m1 0h1m0 0h1m0 0h1m0 0h1m1 0h1m0 0h1m0 0h1m0 0h1m0 0h1m0 0h1m0 0h1m1 0h1m0 0h1m0 0h1m0 0h1m0 0h1m0 0h1m0 0h1m0 0h1m1 0h1m1 0h1m0 0h1m-31 1h1m3 0h1m0 0h1m0 0h1m0 0h1m0 0h1m0 0h1m1 0h1m0 0h1m0 0h1m0 0h1m0 0h1m0 0h1m0 0h1m0 0h1m0 0h1m0 0h1m0 0h1m0 0h1m0 0h1m0 0h1m0 0h1m1 0h1m3 0h1m-33 1h1m0 0h1m0 0h1m4 0h1m1 0h1m0 0h1m0 0h1m0 0h1m2 0h1m0 0h1m0 0h1m0 0h1m0 0h1m0 0h1m2 0h1m0 0h1m1 0h1m0 0h1m0 0h1m1 0h1" stroke="#707070" stroke-width="1" fill="none" shape-rendering="crispEdges"/>
<rect x="45.50" y="335.50" width="111.00" height="98.00" fill="none" stroke="#333" stroke-width="1.0"/>
<line x1="108.50" y1="335.50" x2="108.50" y2="433.50" stroke="#333" stroke-width="1.0"/>
<line x1="45.50" y1="395.50" x2="156.50" y2="395.50" stroke="#333" stroke-width="1.0"/>
<path d="M45.50 433.50v2.4M45.50 433.50h-2.4M53.85 433.50v1.6M45.50 426.12h-1.6M58.74 433.50v1.6M45.50 421.81h-1.6M62.21 433.50v1.6M45.50 418.75h-1.6M64.90 433.50v1.6M45.50 416.38h-1.6M67.09 433.50v1.6M45.50 414.44h-1.6M68.95 433.50v1.6M45.50 412.80h-1.6M70.56 433.50v1.6M45.50 411.37h-1.6M71.98 433.50v1.6M45.50 410.12h-1.6M73.25 433.50v2.4M45.50 409.00h-2.4M81.60 433.50v1.6M45.50 401.62h-1.6M86.49 433.50v1.6M45.50 397.31h-1.6M89.96 433.50v1.6M45.50 394.25h-1.6M92.65 433.50v1.6M45.50 391.88h-1.6M94.84 433.50v1.6M45.50 389.94h-1.6M96.70 433.50v1.6M45.50 388.30h-1.6M98.31 433.50v1.6M45.50 386.87h-1.6M99.73 433.50v1.6M45.50 385.62h-1.6M101.00 433.50v2.4M45.50 384.50h-2.4M109.35 433.50v1.6M45.50 377.12h-1.6M114.24 433.50v1.6M45.50 372.81h-1.6M117.71 433.50v1.6M45.50 369.75h-1.6M120.40 433.50v1.6M45.50 367.38h-1.6M122.59 433.50v1.6M45.50 365.44h-1.6M124.45 433.50v1.6M45.50 363.80h-1.6M126.06 433.50v1.6M45.50 362.37h-1.6M127.48 433.50v1.6M45.50 361.12h-1.6M128.75 433.50v2.4M45.50 360.00h-2.4M137.10 433.50v1.6M45.50 352.62h-1.6M141.99 433.50v1.6M45.50 348.31h-1.6M145.46 433.50v1.6M45.50 345.25h-1.6M148.15 433.50v1.6M45.50 342.88h-1.6M150.34 433.50v1.6M45.50 340.94h-1.6M152.20 433.50v1.6M45.50 339.30h-1.6M153.81 433.50v1.6M45.50 337.87h-1.6M155.23 433.50v1.6M45.50 336.62h-1.6M156.50 433.50v2.4M45.50 335.50h-2.4" stroke="#444" stroke-width="0.8" fill="none"/>
<text x="40.66" y="443.40" font-size="6.00" font-family='"Liberation Sans",sans-serif' fill="#444">10</text>
<text x="47.34" y="440.40" font-size="5.40" font-family='"Liberation Sans",sans-serif' fill="#444">0</text>
<text transform="translate(40.70,438.34) rotate(-90)" font-size="6.00" font-family='"Liberation Sans",sans-serif' fill="#444">10</text>
<text transform="translate(37.70,431.66) rotate(-90)" font-size="5.40" font-family='"Liberation Sans",sans-serif' fill="#444">0</text>
<text x="68.41" y="443.40" font-size="6.00" font-family='"Liberation Sans",sans-serif' fill="#444">10</text>
<text x="75.09" y="440.40" font-size="5.40" font-family='"Liberation Sans",sans-serif' fill="#444">1</text>
<text transform="translate(40.70,413.84) rotate(-90)" font-size="6.00" font-family='"Liberation Sans",sans-serif' fill="#444">10</text>
<text transform="translate(37.70,407.16) rotate(-90)" font-size="5.40" font-family='"Liberation Sans",sans-serif' fill="#444">1</text>
<text x="96.16" y="443.40" font-size="6.00" font-family='"Liberation Sans",sans-serif' fill="#444">10</text>
<text x="102.84" y="440.40" font-size="5.40" font-family='"Liberation Sans",sans-serif' fill="#444">2</text>
<text transform="translate(40.70,389.34) rotate(-90)" font-size="6.00" font-family='"Liberation Sans",sans-serif' fill="#444">10</text>
<text transform="translate(37.70,382.66) rotate(-90)" font-size="5.40" font-family='"Liberation Sans",sans-serif' fill="#444">2</text>
<text x="123.91" y="443.40" font-size="6.00" font-family='"Liberation Sans",sans-serif' fill="#444">10</text>
<text x="130.59" y="440.40" font-size="5.40" font-family='"Liberation Sans",sans-serif' fill="#444">3</text>
<text transform="translate(40.70,364.84) rotate(-90)" font-size="6.00" font-family='"Liberation Sans",sans-serif' fill="#444">10</text>
<text transform="translate(37.70,358.16) rotate(-90)" font-size="5.40" font-family='"Liberation Sans",sans-serif' fill="#444">3</text>
<text x="151.66" y="443.40" font-size="6.00" font-family='"Liberation Sans",sans-serif' fill="#444">10</text>
<text x="158.34" y="440.40" font-size="5.40" font-family='"Liberation Sans",sans-serif' fill="#444">4</text>
<text transform="translate(40.70,340.34) rotate(-90)" font-size="6.00" font-family='"Liberation Sans",sans-serif' fill="#444">10</text>
<text transform="translate(37.70,333.66) rotate(-90)" font-size="5.40" font-family='"Liberation Sans",sans-serif' fill="#444">4</text>
<text x="54.60" y="330.40" font-size="7.60" font-weight="bold" textLength="86.80" lengthAdjust="spacingAndGlyphs">0 uM + negative inhibitor</text>
<text x="125.30" y="345.60" font-size="6.10" font-weight="bold" textLength="26.60" lengthAdjust="spacingAndGlyphs">4.5 ±0.69</text>
<text x="125.30" y="427.90" font-size="6.10" font-weight="bold" textLength="26.60" lengthAdjust="spacingAndGlyphs">2.8 ±0.54</text>
<text transform="translate(26.00,384.00) rotate(-90)" font-size="8.40" textLength="7.00" lengthAdjust="spacingAndGlyphs">PI</text>
<text x="77.40" y="452.00" font-size="6.60" font-weight="bold" textLength="46.60" lengthAdjust="spacingAndGlyphs">Annexin V-FITC</text>
<path d="M294 359.5h1m-24 2h1m9 0h1m0 0h1m1 1h1m-9 1h1m19 0h1m-30 1h1m21 0h1m0 0h1m-72 2h1m55 0h1m6 0h1m2 0h1m0 0h1m1 0h1m2 0h1m1 0h1m10 0h1m-30 1h1m0 0h1m0 0h1m4 0h1m4 0h1m5 0h1m6 0h1m-57 1h1m31 0h1m1 0h1m1 0h1m2 0h1m1 0h1m6 0h1m0 0h1m3 1h1m0 0h1m-21 1h1m2 0h1m3 0h1m4 0h1m4 0h1m-55 1h1m28 0h1m7 0h1m0 0h1m0 0h1m2 0h1m1 0h1m7 0h1m4 0h1m1 0h1m0 0h1m-24 1h1m2 0h1m2 0h1m2 0h1m6 0h1m-25 1h1m13 0h1m2 0h1m2 0h1m7 0h1m4 0h1m-32 1h1m6 0h1m2 0h1m3 0h1m3 0h1m8 0h1m-63 1h1m10 0h1m28 0h1m0 0h1m2 0h1m0 0h1m1 0h1m12 0h1m-65 1h1m10 0h1m6 0h1m10 0h1m0 0h1m7 0h1m3 0h1m6 0h1m0 0h1m1 0h1m3 0h1m8 0h1m-16 1h1m1 0h1m1 0h1m3 0h1m6 0h1m7 0h1m-62 1h1m8 0h1m0 0h1m15 0h1m9 0h1m3 0h1m0 0h1m1 0h1m2 0h1m-54 1h1m11 0h1m21 0h1m2 0h1m0 0h1m0 0h1m0 0h1m1 0h1m6 0h1m3 0h1m2 0h1m0 0h1m5 0h1m-73 1h1m4 0h1m18 0h1m19 0h1m1 0h1m3 0h1m0 0h1m1 0h1m1 0h1m2 0h1m5 0h1m0 0h1m2 0h1m2 0h1m-54 1h1m5 0h1m6 0h1m2 0h1m5 0h1m4 0h1m8 0h1m7 0h1m0 0h1m1 0h1m0 0h1m2 0h1m2 0h1m-62 1h1m7 0h1m3 0h1m0 0h1m4 0h1m3 0h1m3 0h1m1 0h1m1 0h1m6 0h1m7 0h1m2 0h1m1 0h1m1 0h1m3 0h1m-58 1h1m4 0h1m0 0h1m0 0h1m0 0h1m4 0h1m1 0h1m0 0h1m5 0h1m5 0h1m3 0h1m6 0h1m3 0h1m6 0h1m0 0h1m1 0h1m2 0h1m0 0h1m2 0h1m-56 1h1m3 0h1m2 0h1m3 0h1m2 0h1m1 0h1m0 0h1m0 0h1m2 0h1m3 0h1m0 0h1m5 0h1m1 0h1m0 0h1m0 0h1m0 0h1m4 0h1m1 0h1m6 0h1m0 0h1m0 0h1m2 0h1m2 0h1m0 0h1m-66 1h1m5 0h1m0 0h1m2 0h1m5 0h1m0 0h1m2 0h1m0 0h1m1 0h1m1 0h1m1 0h1m3 0h1m1 0h1m2 0h1m0 0h1m5 0h1m4 0h1m4 0h1m3 0h1m10 0h1m-90 1h1m19 0h1m0 0h1m10 0h1m1 0h1m5 0h1m3 0h1m8 0h1m4 0h1m0 0h1m4 0h1m3 0h1m0 0h1m0 0h1m4 0h1m0 0h1m0 0h1m1 0h1m-87 1h1m27 0h1m2 0h1m3 0h1m5 0h1m6 0h1m5 0h1m3 0h1m2 0h1m0 0h1m2 0h1m3 0h1m0 0h1m6 0h1m0 0h1m2 0h1m1 0h1m3 0h1m4 0h1m-68 1h1m3 0h1m2 0h1m1 0h1m4 0h1m1 0h1m1 0h1m14 0h1m0 0h1m2 0h1m1 0h1m2 0h1m1 0h1m0 0h1m3 0h1m2 0h1m7 0h1m0 0h1m0 0h1m-81 1h1m16 0h1m3 0h1m3 0h1m0 0h1m3 0h1m0 0h1m3 0h1m2 0h1m1 0h1m1 0h1m2 0h1m11 0h1m2 0h1m1 0h1m1 0h1m5 0h1m0 0h1m4 0h1m-58 1h1m1 0h1m0 0h1m1 0h1m0 0h1m1 0h1m0 0h1m1 0h1m0 0h1m1 0h1m1 0h1m0 0h1m0 0h1m3 0h1m4 0h1m0 0h1m7 0h1m4 0h1m3 0h1m0 0h1m-53 1h1m3 0h1m6 0h1m2 0h1m3 0h1m4 0h1m3 0h1m12 0h1m1 0h1m2 0h1m17 0h1m-52 1h1m2 0h1m0 0h1m5 0h1m12 0h1m1 0h1m3 0h1m2 0h1m-39 1h1m18 0h1m3 0h1m3 0h1m5 0h1m0 0h1m6 0h1m7 0h1m-76 1h1m15 0h1m28 0h1m3 0h1m2 0h1m3 0h1m0 0h1m0 0h1m-33 1h1m8 0h1m4 0h1m1 0h1m0 0h1m2 0h1m8 0h1m2 0h1m5 0h1m-30 1h1m1 0h1m2 0h1m3 0h1m3 0h1m1 0h1m6 0h1m2 0h1m0 0h1m1 0h1m2 0h1m-46 1h1m0 0h1m5 0h1m2 0h1m1 0h1m0 0h1m0 0h1m0 0h1m2 0h1m2 0h1m0 0h1m0 0h1m7 0h1m0 0h1m0 0h1m1 0h1m4 0h1m0 0h1m0 0h1m2 0h1m-34 1h1m0 0h1m2 0h1m6 0h1m5 0h1m1 0h1m2 0h1m11 0h1m1 0h1m-42 1h1m4 0h1m0 0h1m0 0h1m0 0h1m5 0h1m0 0h1m0 0h1m5 0h1m5 0h1m0 0h1m1 0h1m3 0h1m1 0h1m0 0h1m0 0h1m5 0h1m-49 1h1m3 0h1m2 0h1m8 0h1m4 0h1m3 0h1m1 0h1m4 0h1m5 0h1m0 0h1m4 0h1m0 0h1m0 0h1m-46 1h1m0 0h1m0 0h1m0 0h1m1 0h1m0 0h1m4 0h1m2 0h1m1 0h1m5 0h1m4 0h1m0 0h1m4 0h1m0 0h1m1 0h1m0 0h1m5 0h1m-48 1h1m3 0h1m2 0h1m4 0h1m0 0h1m0 0h1m0 0h1m1 0h1m0 0h1m0 0h1m0 0h1m4 0h1m1 0h1m3 0h1m0 0h1m9 0h1m0 0h1m-45 1h1m10 0h1m0 0h1m4 0h1m1 0h1m1 0h1m2 0h1m1 0h1m0 0h1m0 0h1m2 0h1m1 0h1m0 0h1m1 0h1m0 0h1m2 0h1m1 0h1m3 0h1m2 0h1m-49 1h1m2 0h1m2 0h1m3 0h1m1 0h1m1 0h1m7 0h1m5 0h1m3 0h1m0 0h1m1 0h1m1 0h1m0 0h1m1 0h1m4 0h1m0 0h1m-39 1h1m1 0h1m2 0h1m1 0h1m10 0h1m4 0h1m1 0h1m7 0h1m3 0h1m0 0h1m2 0h1m0 0h1m-56 1h1m6 0h1m7 0h1m2 0h1m1 0h1m0 0h1m5 0h1m5 0h1m0 0h1m0 0h1m0 0h1m0 0h1m9 0h1m4 0h1m1 0h1m-40 1h1m2 0h1m1 0h1m3 0h1m6 0h1m1 0h1m0 0h1m-26 1h1m0 0h1m2 0h1m38 0h1m1 0h1m0 0h1m2 0h1m-53 1h1m0 0h1m0 0h1m23 0h1m1 0h1m3 0h1m3 0h1m7 0h1m3 0h1m-44 1h1m2 0h1m17 0h1m0 0h1m16 0h1m0 0h1m1 0h1m0 0h1m0 0h1m2 0h1m2 0h1m-55 1h1m2 0h1m0 0h1m0 0h1m14 0h1m26 0h1m1 0h1m-59 1h1m11 0h1m16 0h1m8 0h1m14 0h1m0 0h1m3 0h1m-63 1h1m7 0h1m0 0h1m2 0h1m0 0h1m25 0h1m0 0h1m3 0h1m9 0h1m0 0h1m5 0h1m-62 1h1m8 0h1m23 0h1m7 0h1m13 0h1m1 0h1m3 0h1m2 0h1m-60 1h1m1 0h1m3 0h1m27 0h1m15 0h1m2 0h1m2 0h1m-64 1h1m3 0h1m0 0h1m2 0h1m30 0h1m7 0h1m8 0h1m3 0h1m5 0h1m0 0h1m1 0h1m-68 1h1m1 0h1m0 0h1m0 0h1m30 0h1m1 0h1m3 0h1m1 0h1m9 0h1m-57 1h1m4 0h1m2 0h1m30 0h1m6 0h1m19 0h1m-79 1h1m11 0h1m2 0h1m38 0h1m1 0h1m0 0h1m1 0h1m2 0h1m7 0h1m4 0h1m2 0h1m4 0h1m5 0h1m-85 1h1m2 0h1m3 0h1m2 0h1m1 0h1m33 0h1m1 0h1m1 0h1m1 0h1m0 0h1m12 0h1m0 0h1m2 0h1m1 0h1m0 0h1m-74 1h1m0 0h1m0 0h1m1 0h1m32 0h1m1 0h1m1 0h1m6 0h1m3 0h1m0 0h1m2 0h1m1 0h1m10 0h1m0 0h1m4 0h1m3 0h1m-84 1h1m2 0h1m0 0h1m1 0h1m0 0h1m0 0h1m2 0h1m33 0h1m8 0h1m2 0h1m2 0h1m7 0h1m8 0h1m-79 1h1m1 0h1m2 0h1m0 0h1m37 0h1m1 0h1m8 0h1m0 0h1m2 0h1m0 0h1m3 0h1m2 0h1m0 0h1m0 0h1m0 0h1m0 0h1m2 0h1m-72 1h1m0 0h1m0 0h1m0 0h1m0 0h1m3 0h1m25 0h1m3 0h1m3 0h1m0 0h1m0 0h1m0 0h1m8 0h1m1 0h1m5 0h1m0 0h1m1 0h1m2 0h1m0 0h1m3 0h1m-35 1h1m11 0h1m1 0h1m1 0h1m2 0h1m-64 1h1m4 0h1m0 0h1m33 0h1m0 0h1m0 0h1m0 0h1m2 0h1m11 0h1m0 0h1m0 0h1m4 0h1m1 0h1m1 0h1m0 0h1m7 0h1m2 0h1m-80 1h1m0 0h1m3 0h1m29 0h1m0 0h1m0 0h1m3 0h1m14 0h1m0 0h1m2 0h1m1 0h1m2 0h1m0 0h1m0 0h1m2 0h1m2 0h1m1 0h1m2 0h1" stroke="#a8a8a8" stroke-width="1" fill="none" shape-rendering="crispEdges"/>
<path d="M281 363.5h1m6 5h1m-4 1h1m5 1h1m-3 1h1m-8 1h1m2 0h1m2 0h1m4 1h1m-9 2h1m4 0h1m-5 1h1m4 0h1m-15 1h1m6 0h1m7 1h1m0 0h1m-13 1h1m2 0h1m-9 1h1m0 0h1m3 0h1m1 0h1m1 0h1m0 0h1m3 0h1m4 0h1m-47 1h1m14 0h1m10 0h1m3 0h1m0 0h1m1 0h1m6 0h1m-52 1h1m6 0h1m0 0h1m18 0h1m5 0h1m0 0h1m0 0h1m0 0h1m1 0h1m1 0h1m0 0h1m9 0h1m8 0h1m-36 1h1m11 0h1m3 0h1m3 0h1m1 0h1m5 0h1m-39 1h1m14 0h1m3 0h1m4 0h1m4 0h1m4 0h1m1 0h1m2 0h1m-49 1h1m20 0h1m7 0h1m7 0h1m1 0h1m0 0h1m0 0h1m0 0h1m4 0h1m1 0h1m-40 1h1m9 0h1m3 0h1m0 0h1m8 0h1m0 0h1m0 0h1m3 0h1m0 0h1m3 0h1m8 0h1m-52 1h1m1 0h1m16 0h1m7 0h1m0 0h1m6 0h1m4 0h1m7 0h1m4 0h1m-29 1h1m6 0h1m11 0h1m0 0h1m0 0h1m-48 1h1m0 0h1m6 0h1m7 0h1m21 0h1m-47 1h1m37 0h1m-19 5h1m7 1h1m-18 2h1m6 0h1m17 0h1m-24 1h1m0 0h1m4 0h1m8 0h1m-25 1h1m1 0h1m10 0h1m14 0h1m8 0h1m-31 1h1m0 0h1m16 0h1m0 0h1m0 0h1m5 0h1m0 0h1m1 0h1m-23 1h1m10 0h1m2 0h1m0 0h1m0 0h1m7 0h1m1 0h1m-29 1h1m6 0h1m9 0h1m-30 1h1m3 0h1m6 0h1m0 0h1m3 0h1m3 0h1m0 0h1m5 0h1m12 0h1m-45 1h1m5 0h1m4 0h1m1 0h1m0 0h1m5 0h1m4 0h1m5 0h1m1 0h1m0 0h1m0 0h1m1 0h1m1 0h1m2 0h1m0 0h1m-38 1h1m0 0h1m1 0h1m3 0h1m7 0h1m7 0h1m6 0h1m1 0h1m6 0h1m-40 1h1m2 0h1m3 0h1m6 0h1m4 0h1m1 0h1m4 0h1m2 0h1m7 0h1m-42 1h1m2 0h1m15 0h1m1 0h1m4 0h1m6 0h1m5 0h1m-36 1h1m11 0h1m0 0h1m1 0h1m8 0h1m3 0h1m0 0h1m7 0h1m3 0h1m-52 1h1m9 0h1m11 0h1m1 0h1m4 0h1m3 0h1m-31 1h1m24 0h1m3 0h1m0 0h1m13 0h1m-48 1h1m0 0h1m0 0h1m15 0h1m7 0h1m2 0h1m18 0h1m0 0h1m-55 1h1m3 0h1m4 0h1m1 0h1m32 0h1m5 0h1m1 0h1m-56 1h1m1 0h1m4 0h1m24 0h1m5 0h1m15 0h1m-49 1h1m24 0h1m1 0h1m0 0h1m1 0h1m0 0h1m1 0h1m12 0h1m-23 1h1m0 0h1m2 0h1m1 0h1m0 0h1m0 0h1m0 0h1m0 0h1m1 0h1m1 0h1m-53 1h1m8 0h1m34 0h1m1 0h1m17 0h1m1 0h1m-57 1h1m32 0h1m1 0h1m0 0h1m1 0h1m7 0h1m0 0h1m3 0h1m-57 1h1m31 0h1m4 0h1m4 0h1m1 0h1m5 0h1m2 0h1m3 0h1m-64 1h1m35 0h1m9 0h1m3 0h1m1 0h1m2 0h1m0 0h1m0 0h1m5 0h1m-71 1h1m0 0h1m6 0h1m1 0h1m2 0h1m0 0h1m27 0h1m2 0h1m0 0h1m10 0h1m5 0h1m3 0h1m2 0h1m-32 1h1m4 0h1m1 0h1m4 0h1m2 0h1m1 0h1m3 0h1m0 0h1m2 0h1m0 0h1m1 0h1m1 0h1m1 0h1m-60 1h1m21 0h1m4 0h1m2 0h1m3 0h1m8 0h1m3 0h1m0 0h1m9 0h1m-41 1h1m4 0h1m3 0h1m6 0h1m10 0h1m0 0h1m0 0h1m1 0h1m2 0h1m1 0h1m-67 1h1m2 0h1m23 0h1m0 0h1m4 0h1m6 0h1m11 0h1m3 0h1m4 0h1m0 0h1m2 0h1m0 0h1m8 0h1m-37 1h1m18 0h1m0 0h1m3 0h1m11 0h1m-75 1h1m3 0h1m29 0h1m22 0h1m6 0h1" stroke="#909090" stroke-width="1" fill="none" shape-rendering="crispEdges"/>
<path d="M278 378.5h1m0 1h1m-3 2h1m3 0h1m5 0h1m0 0h1m-14 1h1m5 0h1m0 0h1m3 0h1m0 0h1m-15 1h1m0 0h1m5 0h1m-8 1h1m0 0h1m0 0h1m8 0h1m-35 1h1m17 0h1m5 0h1m2 0h1m2 0h1m-6 1h1m5 0h1m-4 1h1m6 0h1m-30 10h1m-4 1h1m8 1h1m-15 1h1m0 0h1m4 2h1m14 0h1m3 0h1m-28 1h1m20 0h1m2 0h1m2 0h1m1 0h1m-28 1h1m1 0h1m0 0h1m15 0h1m4 0h1m1 0h1m-30 1h1m7 0h1m2 0h1m0 0h1m4 0h1m5 0h1m-28 1h1m10 0h1m3 0h1m3 0h1m10 0h1m7 0h1m-24 1h1m0 0h1m11 0h1m-26 1h1m0 0h1m0 0h1m0 0h1m2 0h1m4 0h1m2 0h1m3 0h1m2 0h1m10 0h1m1 0h1m-37 1h1m20 0h1m0 0h1m0 0h1m3 0h1m7 0h1m-21 1h1m1 0h1m2 0h1m2 0h1m0 0h1m1 0h1m0 0h1m3 0h1m0 0h1m0 0h1m-42 1h1m23 0h1m0 0h1m1 0h1m2 0h1m0 0h1m4 0h1m7 0h1m0 0h1m0 0h1m-44 1h1m2 0h1m3 0h1m17 0h1m3 0h1m0 0h1m18 0h1m-51 1h1m2 0h1m17 0h1m1 0h1m3 0h1m1 0h1m3 0h1m0 0h1m7 0h1m-52 1h1m4 0h1m1 0h1m2 0h1m4 0h1m16 0h1m5 0h1m1 0h1m0 0h1m0 0h1m4 0h1m7 0h1m-53 1h1m0 0h1m2 0h1m0 0h1m20 0h1m9 0h1m9 0h1m-24 1h1m4 0h1m13 0h1m6 0h1m1 0h1m2 0h1m-27 1h1m1 0h1m0 0h1m4 0h1m9 0h1m-48 1h1m0 0h1m28 0h1m2 0h1m5 0h1m0 0h1m1 0h1m0 0h1m4 0h1m2 0h1m1 0h1m-62 1h1m4 0h1m23 0h1m8 0h1m10 0h1m8 0h1m-26 1h1m13 0h1m1 0h1m4 0h1m-57 1h1m5 0h1m35 0h1m10 0h1m6 0h1m-67 1h1m4 0h1m1 0h1m22 0h1m3 0h1m2 0h1m0 0h1m20 0h1m-57 1h1m2 0h1m53 0h1m-59 1h1m0 0h1m29 0h1m0 0h1m29 0h1m-62 1h1m3 0h1m25 0h1m-34 1h1m24 0h1m2 0h1m2 0h1m21 0h1m0 0h1m8 0h1m-63 1h1m1 0h1m3 0h1m20 0h1m34 0h1" stroke="#7e7e7e" stroke-width="1" fill="none" shape-rendering="crispEdges"/>
<path d="M284 381.5h1m-5 1h1m-15 1h1m9 0h1m0 0h1m3 0h1m2 0h1m3 0h1m-6 1h1m1 0h1m-3 2h1m-5 1h1m-29 13h1m3 2h1m-4 1h1m23 0h1m-28 1h1m27 0h1m-31 1h1m2 0h1m4 0h1m9 0h1m1 0h1m2 0h1m5 0h1m-27 1h1m2 0h1m0 0h1m2 0h1m8 0h1m1 0h1m0 0h1m0 0h1m1 0h1m0 0h1m4 0h1m-34 1h1m3 0h1m0 0h1m2 0h1m0 0h1m0 0h1m10 0h1m0 0h1m0 0h1m2 0h1m0 0h1m1 0h1m2 0h1m0 0h1m-31 1h1m0 0h1m1 0h1m0 0h1m0 0h1m0 0h1m1 0h1m0 0h1m2 0h1m2 0h1m0 0h1m2 0h1m0 0h1m0 0h1m0 0h1m0 0h1m0 0h1m1 0h1m0 0h1m1 0h1m-35 1h1m1 0h1m0 0h1m0 0h1m0 0h1m0 0h1m0 0h1m0 0h1m0 0h1m0 0h1m0 0h1m0 0h1m2 0h1m2 0h1m5 0h1m6 0h1m0 0h1m0 0h1m-36 1h1m1 0h1m1 0h1m0 0h1m0 0h1m0 0h1m0 0h1m0 0h1m0 0h1m0 0h1m0 0h1m0 0h1m0 0h1m8 0h1m5 0h1m0 0h1m0 0h1m3 0h1m-36 1h1m0 0h1m0 0h1m0 0h1m0 0h1m0 0h1m0 0h1m0 0h1m0 0h1m0 0h1m0 0h1m0 0h1m0 0h1m0 0h1m1 0h1m0 0h1m5 0h1m4 0h1m0 0h1m1 0h1m0 0h1m0 0h1m0 0h1m0 0h1m0 0h1m0 0h1m-39 1h1m1 0h1m0 0h1m0 0h1m1 0h1m0 0h1m0 0h1m0 0h1m0 0h1m0 0h1m0 0h1m1 0h1m0 0h1m1 0h1m0 0h1m0 0h1m0 0h1m1 0h1m3 0h1m2 0h1m0 0h1m0 0h1m0 0h1m0 0h1m0 0h1m0 0h1m0 0h1m0 0h1m0 0h1m0 0h1m-42 1h1m3 0h1m0 0h1m0 0h1m0 0h1m0 0h1m0 0h1m0 0h1m0 0h1m0 0h1m0 0h1m0 0h1m0 0h1m0 0h1m0 0h1m0 0h1m0 0h1m1 0h1m1 0h1m3 0h1m2 0h1m0 0h1m2 0h1m0 0h1m1 0h1m0 0h1m4 0h1m-46 1h1m0 0h1m1 0h1m0 0h1m0 0h1m0 0h1m1 0h1m0 0h1m0 0h1m0 0h1m0 0h1m0 0h1m0 0h1m0 0h1m0 0h1m0 0h1m0 0h1m0 0h1m1 0h1m0 0h1m3 0h1m0 0h1m3 0h1m3 0h1m0 0h1m0 0h1m0 0h1m1 0h1m0 0h1m1 0h1m2 0h1m2 0h1m-49 1h1m0 0h1m0 0h1m0 0h1m0 0h1m0 0h1m0 0h1m0 0h1m0 0h1m0 0h1m0 0h1m0 0h1m0 0h1m0 0h1m0 0h1m0 0h1m0 0h1m0 0h1m0 0h1m0 0h1m2 0h1m5 0h1m2 0h1m0 0h1m0 0h1m0 0h1m0 0h1m0 0h1m0 0h1m0 0h1m0 0h1m3 0h1m-50 1h1m0 0h1m0 0h1m0 0h1m0 0h1m0 0h1m0 0h1m0 0h1m0 0h1m0 0h1m0 0h1m0 0h1m0 0h1m0 0h1m0 0h1m0 0h1m0 0h1m0 0h1m0 0h1m0 0h1m0 0h1m0 0h1m0 0h1m1 0h1m0 0h1m5 0h1m7 0h1m1 0h1m1 0h1m0 0h1m0 0h1m1 0h1m0 0h1m-51 1h1m0 0h1m0 0h1m0 0h1m0 0h1m0 0h1m0 0h1m0 0h1m0 0h1m0 0h1m0 0h1m0 0h1m0 0h1m0 0h1m0 0h1m0 0h1m0 0h1m0 0h1m0 0h1m0 0h1m0 0h1m0 0h1m0 0h1m0 0h1m0 0h1m0 0h1m0 0h1m0 0h1m11 0h1m0 0h1m0 0h1m0 0h1m0 0h1m0 0h1m0 0h1m0 0h1m3 0h1m1 0h1m-55 1h1m4 0h1m0 0h1m0 0h1m0 0h1m0 0h1m0 0h1m0 0h1m0 0h1m0 0h1m0 0h1m0 0h1m0 0h1m0 0h1m0 0h1m0 0h1m0 0h1m0 0h1m0 0h1m0 0h1m0 0h1m0 0h1m0 0h1m0 0h1m0 0h1m0 0h1m0 0h1m10 0h1m2 0h1m2 0h1m2 0h1m1 0h1m-54 1h1m1 0h1m0 0h1m0 0h1m0 0h1m0 0h1m0 0h1m0 0h1m0 0h1m0 0h1m0 0h1m0 0h1m0 0h1m0 0h1m0 0h1m0 0h1m0 0h1m0 0h1m0 0h1m0 0h1m0 0h1m0 0h1m0 0h1m0 0h1m1 0h1m0 0h1m0 0h1m0 0h1m1 0h1m11 0h1m2 0h1m0 0h1m1 0h1m-54 1h1m1 0h1m1 0h1m0 0h1m0 0h1m0 0h1m0 0h1m0 0h1m0 0h1m0 0h1m0 0h1m0 0h1m0 0h1m0 0h1m0 0h1m0 0h1m0 0h1m0 0h1m0 0h1m0 0h1m0 0h1m0 0h1m0 0h1m0 0h1m0 0h1m0 0h1m0 0h1m0 0h1m0 0h1m0 0h1m13 0h1m4 0h1m4 0h1m0 0h1m-57 1h1m0 0h1m3 0h1m0 0h1m0 0h1m0 0h1m0 0h1m0 0h1m0 0h1m0 0h1m0 0h1m0 0h1m0 0h1m0 0h1m0 0h1m0 0h1m0 0h1m0 0h1m0 0h1m0 0h1m0 0h1m0 0h1m0 0h1m0 0h1m0 0h1m1 0h1m20 0h1m2 0h1m0 0h1m-55 1h1m0 0h1m0 0h1m0 0h1m0 0h1m0 0h1m0 0h1m0 0h1m0 0h1m0 0h1m0 0h1m0 0h1m0 0h1m0 0h1m0 0h1m0 0h1m0 0h1m0 0h1m0 0h1m0 0h1m0 0h1m0 0h1m1 0h1m0 0h1m0 0h1m1 0h1m18 0h1m5 0h1m-60 1h1m0 0h1m1 0h1m0 0h1m1 0h1m0 0h1m1 0h1m0 0h1m0 0h1m0 0h1m0 0h1m0 0h1m0 0h1m0 0h1m0 0h1m0 0h1m0 0h1m0 0h1m0 0h1m0 0h1m0 0h1m0 0h1m0 0h1m0 0h1m0 0h1m0 0h1m0 0h1m1 0h1m0 0h1m0 0h1m20 0h1m-52 1h1m1 0h1m0 0h1m0 0h1m0 0h1m0 0h1m0 0h1m0 0h1m0 0h1m0 0h1m0 0h1m0 0h1m0 0h1m0 0h1m0 0h1m0 0h1m0 0h1m0 0h1m0 0h1m0 0h1m0 0h1m0 0h1m1 0h1m0 0h1m0 0h1m-30 1h1m0 0h1m1 0h1m0 0h1m0 0h1m1 0h1m0 0h1m0 0h1m0 0h1m0 0h1m0 0h1m0 0h1m0 0h1m0 0h1m0 0h1m0 0h1m0 0h1m0 0h1m0 0h1m0 0h1m0 0h1m2 0h1m0 0h1m0 0h1m3 0h1m2 0h1m-37 1h1m1 0h1m0 0h1m0 0h1m0 0h1m0 0h1m0 0h1m0 0h1m0 0h1m0 0h1m0 0h1m0 0h1m0 0h1m0 0h1m0 0h1m0 0h1m0 0h1m0 0h1m0 0h1m0 0h1m0 0h1m0 0h1m0 0h1m0 0h1m0 0h1m1 0h1m0 0h1m1 0h1m0 0h1m-31 1h1m3 0h1m0 0h1m0 0h1m1 0h1m0 0h1m0 0h1m0 0h1m0 0h1m0 0h1m0 0h1m0 0h1m0 0h1m0 0h1m0 0h1m0 0h1m0 0h1m0 0h1m0 0h1m0 0h1m1 0h1" stroke="#707070" stroke-width="1" fill="none" shape-rendering="crispEdges"/>
<rect x="203.50" y="332.50" width="106.00" height="97.00" fill="none" stroke="#333" stroke-width="1.0"/>
<line x1="262.50" y1="332.50" x2="262.50" y2="429.50" stroke="#333" stroke-width="1.0"/>
<line x1="203.50" y1="392.50" x2="309.50" y2="392.50" stroke="#333" stroke-width="1.0"/>
<path d="M203.50 429.50v2.4M203.50 429.50h-2.4M211.48 429.50v1.6M203.50 422.20h-1.6M216.14 429.50v1.6M203.50 417.93h-1.6M219.45 429.50v1.6M203.50 414.90h-1.6M222.02 429.50v1.6M203.50 412.55h-1.6M224.12 429.50v1.6M203.50 410.63h-1.6M225.90 429.50v1.6M203.50 409.01h-1.6M227.43 429.50v1.6M203.50 407.60h-1.6M228.79 429.50v1.6M203.50 406.36h-1.6M230.00 429.50v2.4M203.50 405.25h-2.4M237.98 429.50v1.6M203.50 397.95h-1.6M242.64 429.50v1.6M203.50 393.68h-1.6M245.95 429.50v1.6M203.50 390.65h-1.6M248.52 429.50v1.6M203.50 388.30h-1.6M250.62 429.50v1.6M203.50 386.38h-1.6M252.40 429.50v1.6M203.50 384.76h-1.6M253.93 429.50v1.6M203.50 383.35h-1.6M255.29 429.50v1.6M203.50 382.11h-1.6M256.50 429.50v2.4M203.50 381.00h-2.4M264.48 429.50v1.6M203.50 373.70h-1.6M269.14 429.50v1.6M203.50 369.43h-1.6M272.45 429.50v1.6M203.50 366.40h-1.6M275.02 429.50v1.6M203.50 364.05h-1.6M277.12 429.50v1.6M203.50 362.13h-1.6M278.90 429.50v1.6M203.50 360.51h-1.6M280.43 429.50v1.6M203.50 359.10h-1.6M281.79 429.50v1.6M203.50 357.86h-1.6M283.00 429.50v2.4M203.50 356.75h-2.4M290.98 429.50v1.6M203.50 349.45h-1.6M295.64 429.50v1.6M203.50 345.18h-1.6M298.95 429.50v1.6M203.50 342.15h-1.6M301.52 429.50v1.6M203.50 339.80h-1.6M303.62 429.50v1.6M203.50 337.88h-1.6M305.40 429.50v1.6M203.50 336.26h-1.6M306.93 429.50v1.6M203.50 334.85h-1.6M308.29 429.50v1.6M203.50 333.61h-1.6M309.50 429.50v2.4M203.50 332.50h-2.4" stroke="#444" stroke-width="0.8" fill="none"/>
<text x="198.66" y="439.40" font-size="6.00" font-family='"Liberation Sans",sans-serif' fill="#444">10</text>
<text x="205.34" y="436.40" font-size="5.40" font-family='"Liberation Sans",sans-serif' fill="#444">0</text>
<text transform="translate(198.70,434.34) rotate(-90)" font-size="6.00" font-family='"Liberation Sans",sans-serif' fill="#444">10</text>
<text transform="translate(195.70,427.66) rotate(-90)" font-size="5.40" font-family='"Liberation Sans",sans-serif' fill="#444">0</text>
<text x="225.16" y="439.40" font-size="6.00" font-family='"Liberation Sans",sans-serif' fill="#444">10</text>
<text x="231.84" y="436.40" font-size="5.40" font-family='"Liberation Sans",sans-serif' fill="#444">1</text>
<text transform="translate(198.70,410.09) rotate(-90)" font-size="6.00" font-family='"Liberation Sans",sans-serif' fill="#444">10</text>
<text transform="translate(195.70,403.41) rotate(-90)" font-size="5.40" font-family='"Liberation Sans",sans-serif' fill="#444">1</text>
<text x="251.66" y="439.40" font-size="6.00" font-family='"Liberation Sans",sans-serif' fill="#444">10</text>
<text x="258.34" y="436.40" font-size="5.40" font-family='"Liberation Sans",sans-serif' fill="#444">2</text>
<text transform="translate(198.70,385.84) rotate(-90)" font-size="6.00" font-family='"Liberation Sans",sans-serif' fill="#444">10</text>
<text transform="translate(195.70,379.16) rotate(-90)" font-size="5.40" font-family='"Liberation Sans",sans-serif' fill="#444">2</text>
<text x="278.16" y="439.40" font-size="6.00" font-family='"Liberation Sans",sans-serif' fill="#444">10</text>
<text x="284.84" y="436.40" font-size="5.40" font-family='"Liberation Sans",sans-serif' fill="#444">3</text>
<text transform="translate(198.70,361.59) rotate(-90)" font-size="6.00" font-family='"Liberation Sans",sans-serif' fill="#444">10</text>
<text transform="translate(195.70,354.91) rotate(-90)" font-size="5.40" font-family='"Liberation Sans",sans-serif' fill="#444">3</text>
<text x="304.66" y="439.40" font-size="6.00" font-family='"Liberation Sans",sans-serif' fill="#444">10</text>
<text x="311.34" y="436.40" font-size="5.40" font-family='"Liberation Sans",sans-serif' fill="#444">4</text>
<text transform="translate(198.70,337.34) rotate(-90)" font-size="6.00" font-family='"Liberation Sans",sans-serif' fill="#444">10</text>
<text transform="translate(195.70,330.66) rotate(-90)" font-size="5.40" font-family='"Liberation Sans",sans-serif' fill="#444">4</text>
<text x="217.60" y="327.00" font-size="7.60" font-weight="bold" textLength="75.70" lengthAdjust="spacingAndGlyphs">1uM + negative inhibitor</text>
<text x="281.20" y="342.30" font-size="6.10" font-weight="bold" textLength="22.10" lengthAdjust="spacingAndGlyphs">5.4 ±0.8</text>
<text x="278.00" y="426.60" font-size="6.10" font-weight="bold" textLength="30.20" lengthAdjust="spacingAndGlyphs">31.34 ±5.2*</text>
<text transform="translate(186.10,389.50) rotate(-90)" font-size="11.00" font-weight="bold" textLength="12.50" lengthAdjust="spacingAndGlyphs">PI</text>
<text x="227.60" y="448.70" font-size="7.40" font-weight="bold" textLength="51.60" lengthAdjust="spacingAndGlyphs">Annexin V-FITC</text>
<path d="M442 334.5h1m-2 13h1m4 3h1m-12 5h1m-41 2h1m53 1h1m-42 2h1m38 1h1m-9 1h1m-1 1h1m19 0h1m-37 1h1m2 0h1m20 0h1m0 0h1m-11 1h1m5 0h1m0 0h1m3 0h1m8 0h1m-32 1h1m2 0h1m14 0h1m1 0h1m1 0h1m-21 1h1m10 0h1m8 0h1m3 0h1m0 0h1m-43 1h1m8 0h1m13 0h1m1 0h1m5 0h1m10 0h1m-53 1h1m19 0h1m4 0h1m9 0h1m0 0h1m0 0h1m8 0h1m9 0h1m0 0h1m-53 1h1m19 0h1m4 0h1m3 0h1m0 0h1m0 0h1m2 0h1m3 0h1m0 0h1m-50 1h1m7 0h1m6 0h1m20 0h1m2 0h1m0 0h1m1 0h1m0 0h1m4 0h1m0 0h1m0 0h1m0 0h1m12 0h1m-68 1h1m4 0h1m24 0h1m2 0h1m3 0h1m2 0h1m9 0h1m1 0h1m1 0h1m3 0h1m0 0h1m0 0h1m-37 1h1m2 0h1m1 0h1m6 0h1m4 0h1m4 0h1m1 0h1m0 0h1m2 0h1m0 0h1m2 0h1m2 0h1m4 0h1m-82 1h1m18 0h1m5 0h1m11 0h1m2 0h1m4 0h1m8 0h1m4 0h1m5 0h1m0 0h1m0 0h1m1 0h1m0 0h1m1 0h1m1 0h1m-44 1h1m0 0h1m10 0h1m3 0h1m0 0h1m0 0h1m1 0h1m1 0h1m0 0h1m0 0h1m1 0h1m0 0h1m0 0h1m2 0h1m0 0h1m4 0h1m2 0h1m0 0h1m2 0h1m1 0h1m2 0h1m-54 1h1m1 0h1m5 0h1m14 0h1m7 0h1m0 0h1m1 0h1m0 0h1m0 0h1m2 0h1m1 0h1m0 0h1m0 0h1m0 0h1m0 0h1m3 0h1m3 0h1m-62 1h1m4 0h1m7 0h1m8 0h1m2 0h1m2 0h1m6 0h1m0 0h1m0 0h1m3 0h1m2 0h1m0 0h1m0 0h1m1 0h1m0 0h1m3 0h1m2 0h1m-67 1h1m4 0h1m1 0h1m11 0h1m7 0h1m2 0h1m8 0h1m5 0h1m6 0h1m0 0h1m0 0h1m2 0h1m4 0h1m0 0h1m0 0h1m7 0h1m-88 1h1m16 0h1m4 0h1m6 0h1m6 0h1m0 0h1m0 0h1m5 0h1m1 0h1m1 0h1m6 0h1m5 0h1m2 0h1m0 0h1m0 0h1m1 0h1m3 0h1m6 0h1m1 0h1m-63 1h1m5 0h1m0 0h1m12 0h1m0 0h1m0 0h1m6 0h1m8 0h1m1 0h1m3 0h1m0 0h1m1 0h1m2 0h1m0 0h1m2 0h1m6 0h1m7 0h1m-69 1h1m4 0h1m1 0h1m2 0h1m8 0h1m3 0h1m1 0h1m0 0h1m3 0h1m14 0h1m12 0h1m0 0h1m3 0h1m-69 1h1m0 0h1m9 0h1m2 0h1m0 0h1m0 0h1m2 0h1m0 0h1m18 0h1m8 0h1m3 0h1m0 0h1m3 0h1m0 0h1m0 0h1m4 0h1m-50 1h1m2 0h1m4 0h1m0 0h1m0 0h1m1 0h1m0 0h1m3 0h1m8 0h1m0 0h1m0 0h1m10 0h1m1 0h1m1 0h1m3 0h1m0 0h1m1 0h1m14 0h1m-73 1h1m9 0h1m2 0h1m7 0h1m19 0h1m4 0h1m10 0h1m2 0h1m0 0h1m-71 1h1m1 0h1m0 0h1m9 0h1m19 0h1m5 0h1m5 0h1m7 0h1m5 0h1m4 0h1m1 0h1m-58 1h1m4 0h1m12 0h1m0 0h1m3 0h1m21 0h1m3 0h1m1 0h1m10 0h1m-64 1h1m4 0h1m10 0h1m6 0h1m7 0h1m4 0h1m0 0h1m10 0h1m1 0h1m3 0h1m-59 1h1m4 0h1m3 0h1m8 0h1m1 0h1m15 0h1m6 0h1m3 0h1m9 0h1m1 0h1m0 0h1m-61 1h1m9 0h1m1 0h1m7 0h1m1 0h1m4 0h1m8 0h1m4 0h1m6 0h1m6 0h1m2 0h1m7 0h1m-60 1h1m9 0h1m5 0h1m6 0h1m7 0h1m11 0h1m-37 1h1m8 0h1m2 0h1m2 0h1m-23 1h1m4 0h1m1 0h1m0 0h1m0 0h1m1 0h1m0 0h1m5 0h1m2 0h1m0 0h1m0 0h1m0 0h1m1 0h1m2 0h1m7 0h1m2 0h1m12 0h1m-50 1h1m2 0h1m5 0h1m0 0h1m6 0h1m0 0h1m0 0h1m18 0h1m1 0h1m-45 1h1m0 0h1m2 0h1m0 0h1m0 0h1m0 0h1m0 0h1m11 0h1m0 0h1m3 0h1m2 0h1m1 0h1m-41 1h1m9 0h1m1 0h1m1 0h1m3 0h1m4 0h1m5 0h1m3 0h1m0 0h1m4 0h1m6 0h1m6 0h1m-40 1h1m6 0h1m13 0h1m4 0h1m0 0h1m5 0h1m4 0h1m1 0h1m-39 1h1m11 0h1m2 0h1m12 0h1m0 0h1m5 0h1m0 0h1m0 0h1m1 0h1m4 0h1m-54 1h1m0 0h1m2 0h1m1 0h1m1 0h1m2 0h1m6 0h1m1 0h1m11 0h1m0 0h1m0 0h1m3 0h1m28 0h1m-73 1h1m2 0h1m5 0h1m2 0h1m0 0h1m9 0h1m6 0h1m8 0h1m4 0h1m1 0h1m0 0h1m3 0h1m1 0h1m0 0h1m-54 1h1m5 0h1m0 0h1m0 0h1m0 0h1m0 0h1m2 0h1m0 0h1m3 0h1m8 0h1m3 0h1m3 0h1m0 0h1m2 0h1m3 0h1m2 0h1m1 0h1m0 0h1m0 0h1m1 0h1m0 0h1m-48 1h1m0 0h1m0 0h1m0 0h1m1 0h1m0 0h1m13 0h1m0 0h1m2 0h1m0 0h1m0 0h1m0 0h1m1 0h1m0 0h1m5 0h1m0 0h1m7 0h1m13 0h1m-62 1h1m0 0h1m1 0h1m1 0h1m1 0h1m17 0h1m2 0h1m1 0h1m1 0h1m2 0h1m0 0h1m0 0h1m1 0h1m3 0h1m3 0h1m1 0h1m3 0h1m1 0h1m-69 1h1m8 0h1m1 0h1m1 0h1m26 0h1m1 0h1m3 0h1m1 0h1m3 0h1m2 0h1m2 0h1m1 0h1m1 0h1m0 0h1m0 0h1m1 0h1m0 0h1m-61 1h1m1 0h1m0 0h1m5 0h1m26 0h1m0 0h1m4 0h1m4 0h1m33 0h1m-85 1h1m4 0h1m1 0h1m25 0h1m6 0h1m1 0h1m2 0h1m2 0h1m0 0h1m0 0h1m0 0h1m4 0h1m0 0h1m1 0h1m1 0h1m-62 1h1m0 0h1m1 0h1m0 0h1m0 0h1m1 0h1m0 0h1m2 0h1m19 0h1m8 0h1m1 0h1m0 0h1m0 0h1m1 0h1m1 0h1m9 0h1m1 0h1m12 0h1m-95 1h1m17 0h1m0 0h1m1 0h1m1 0h1m0 0h1m6 0h1m27 0h1m0 0h1m3 0h1m4 0h1m7 0h1m2 0h1m0 0h1m2 0h1m-60 1h1m28 0h1m4 0h1m1 0h1m3 0h1m7 0h1m2 0h1m-68 1h1m8 0h1m1 0h1m3 0h1m30 0h1m4 0h1m2 0h1m2 0h1m3 0h1m3 0h1m0 0h1m0 0h1m9 0h1m-70 1h1m3 0h1m2 0h1m30 0h1m1 0h1m0 0h1m0 0h1m0 0h1m1 0h1m1 0h1m0 0h1m5 0h1m7 0h1m0 0h1m5 0h1m11 0h1m-86 1h1m1 0h1m0 0h1m2 0h1m1 0h1m1 0h1m4 0h1m26 0h1m0 0h1m0 0h1m0 0h1m1 0h1m0 0h1m0 0h1m0 0h1m5 0h1m0 0h1m1 0h1m5 0h1m2 0h1m3 0h1m2 0h1m5 0h1m-81 1h1m1 0h1m1 0h1m4 0h1m0 0h1m24 0h1m5 0h1m3 0h1m10 0h1m2 0h1m3 0h1m1 0h1m0 0h1m-68 1h1m2 0h1m0 0h1m0 0h1m0 0h1m33 0h1m2 0h1m0 0h1m0 0h1m0 0h1m3 0h1m2 0h1m2 0h1m0 0h1m1 0h1m2 0h1m5 0h1m0 0h1m0 0h1m0 0h1m-76 1h1m0 0h1m4 0h1m0 0h1m2 0h1m1 0h1m33 0h1m4 0h1m0 0h1m2 0h1m5 0h1m5 0h1m3 0h1m0 0h1m1 0h1m2 0h1m-81 1h1m3 0h1m3 0h1m0 0h1m0 0h1m1 0h1m34 0h1m2 0h1m1 0h1m8 0h1m4 0h1m14 0h1m-76 1h1m0 0h1m2 0h1m27 0h1m3 0h1m0 0h1m2 0h1m2 0h1m1 0h1m3 0h1m1 0h1m0 0h1m2 0h1m1 0h1m1 0h1m1 0h1m3 0h1m3 0h1m-78 1h1m5 0h1m1 0h1m29 0h1m5 0h1m7 0h1m4 0h1m0 0h1m3 0h1m2 0h1m1 0h1m1 0h1m2 0h1m-72 1h1m0 0h1m2 0h1m30 0h1m1 0h1m0 0h1m1 0h1m1 0h1m0 0h1m3 0h1m3 0h1m2 0h1m3 0h1m7 0h1m1 0h1m4 0h1m1 0h1m-81 1h1m2 0h1m0 0h1m5 0h1m0 0h1m26 0h1m1 0h1m0 0h1m0 0h1m0 0h1m2 0h1m10 0h1m3 0h1m0 0h1m0 0h1m5 0h1m2 0h1m0 0h1m3 0h1m1 0h1m3 0h1m1 0h1m-83 1h1m3 0h1m0 0h1m3 0h1m22 0h1m8 0h1m0 0h1m0 0h1m15 0h1m1 0h1m3 0h1m4 0h1m-67 1h1m24 0h1m1 0h1m4 0h1m6 0h1m2 0h1m8 0h1m3 0h1m3 0h1m0 0h1m0 0h1m0 0h1m0 0h1m0 0h1m5 0h1m10 0h1" stroke="#a8a8a8" stroke-width="1" fill="none" shape-rendering="crispEdges"/>
<path d="M441 364.5h1m-11 5h1m19 0h1m-45 2h1m30 0h1m5 0h1m-39 1h1m28 0h1m3 0h1m5 0h1m3 0h1m6 0h1m-21 1h1m4 0h1m6 0h1m-19 1h1m7 0h1m0 0h1m-34 1h1m30 0h1m0 0h1m2 0h1m2 0h1m-37 1h1m41 0h1m0 0h1m-46 1h1m40 0h1m3 0h1m-16 1h1m5 0h1m3 0h1m-35 1h1m29 0h1m2 0h1m2 0h1m-54 1h1m37 0h1m5 0h1m3 0h1m-31 1h1m19 0h1m6 0h1m0 0h1m1 0h1m0 0h1m-46 1h1m19 0h1m34 0h1m-9 1h1m0 0h1m-3 1h1m-43 1h1m37 0h1m-40 2h1m5 0h1m25 0h1m-27 1h1m4 2h1m-8 2h1m2 0h1m-4 1h1m5 0h1m7 0h1m-16 1h1m1 0h1m5 0h1m0 0h1m3 0h1m11 0h1m-15 1h1m1 0h1m-16 1h1m2 0h1m6 0h1m1 0h1m0 0h1m0 0h1m-18 1h1m3 0h1m0 0h1m1 0h1m0 0h1m3 0h1m5 0h1m1 0h1m0 0h1m-20 1h1m2 0h1m11 0h1m0 0h1m0 0h1m0 0h1m3 0h1m-30 1h1m6 0h1m0 0h1m2 0h1m2 0h1m3 0h1m1 0h1m0 0h1m2 0h1m1 0h1m2 0h1m6 0h1m1 0h1m2 0h1m-37 1h1m11 0h1m2 0h1m2 0h1m11 0h1m2 0h1m0 0h1m1 0h1m-38 1h1m2 0h1m0 0h1m5 0h1m13 0h1m2 0h1m2 0h1m0 0h1m2 0h1m1 0h1m0 0h1m-40 1h1m7 0h1m4 0h1m9 0h1m-27 1h1m1 0h1m0 0h1m2 0h1m0 0h1m1 0h1m12 0h1m1 0h1m0 0h1m1 0h1m1 0h1m0 0h1m2 0h1m3 0h1m7 0h1m-48 1h1m24 0h1m1 0h1m5 0h1m12 0h1m0 0h1m4 0h1m-60 1h1m4 0h1m3 0h1m3 0h1m2 0h1m18 0h1m1 0h1m4 0h1m2 0h1m7 0h1m-53 1h1m9 0h1m21 0h1m0 0h1m1 0h1m0 0h1m0 0h1m7 0h1m7 0h1m7 0h1m0 0h1m-64 1h1m3 0h1m2 0h1m21 0h1m3 0h1m0 0h1m10 0h1m3 0h1m1 0h1m0 0h1m0 0h1m0 0h1m-56 1h1m10 0h1m1 0h1m18 0h1m10 0h1m1 0h1m3 0h1m0 0h1m3 0h1m2 0h1m1 0h1m-59 1h1m4 0h1m25 0h1m8 0h1m1 0h1m8 0h1m-52 1h1m30 0h1m2 0h1m10 0h1m2 0h1m1 0h1m1 0h1m0 0h1m5 0h1m-57 1h1m1 0h1m26 0h1m13 0h1m6 0h1m-59 1h1m1 0h1m0 0h1m0 0h1m30 0h1m4 0h1m3 0h1m0 0h1m3 0h1m2 0h1m2 0h1m2 0h1m9 0h1m-64 1h1m1 0h1m0 0h1m28 0h1m7 0h1m2 0h1m1 0h1m6 0h1m4 0h1m-69 1h1m1 0h1m0 0h1m5 0h1m3 0h1m23 0h1m2 0h1m4 0h1m0 0h1m0 0h1m0 0h1m3 0h1m5 0h1m2 0h1m1 0h1m2 0h1m1 0h1m2 0h1m-70 1h1m16 0h1m18 0h1m4 0h1m4 0h1m1 0h1m1 0h1m1 0h1m3 0h1m-59 1h1m34 0h1m3 0h1m11 0h1m2 0h1m13 0h1m-71 1h1m1 0h1m3 0h1m1 0h1m3 0h1m18 0h1m0 0h1m2 0h1m2 0h1m3 0h1m1 0h1m0 0h1m9 0h1m0 0h1m6 0h1m7 0h1m-47 1h1m0 0h1m5 0h1m2 0h1m21 0h1m1 0h1m6 0h1m-69 1h1m4 0h1m0 0h1m21 0h1m0 0h1m7 0h1m0 0h1m1 0h1m0 0h1m0 0h1m14 0h1m0 0h1m0 0h1m0 0h1m0 0h1m2 0h1m-35 1h1m2 0h1m0 0h1m5 0h1m3 0h1m15 0h1m1 0h1m4 0h1m2 0h1m0 0h1m-67 1h1m4 0h1m0 0h1m14 0h1m1 0h1m1 0h1m2 0h1m1 0h1m17 0h1m2 0h1m9 0h1m0 0h1m4 0h1" stroke="#909090" stroke-width="1" fill="none" shape-rendering="crispEdges"/>
<path d="M432 372.5h1m5 0h1m-4 2h1m9 4h1m-2 1h1m3 1h1m-3 2h1m-34 11h1m1 1h1m-8 1h1m2 0h1m0 0h1m0 0h1m0 0h1m-14 1h1m7 0h1m2 0h1m-2 1h1m-6 1h1m1 0h1m3 0h1m23 0h1m-32 1h1m11 0h1m-7 1h1m2 0h1m22 1h1m-39 1h1m1 0h1m2 0h1m4 0h1m1 0h1m15 0h1m6 0h1m-37 1h1m0 0h1m5 0h1m5 0h1m3 0h1m13 0h1m3 0h1m-39 1h1m5 0h1m0 0h1m8 0h1m3 0h1m6 0h1m10 0h1m7 0h1m0 0h1m-48 1h1m3 0h1m0 0h1m15 0h1m8 0h1m-33 1h1m18 0h1m3 0h1m3 0h1m4 0h1m7 0h1m1 0h1m-45 1h1m21 0h1m2 0h1m3 0h1m0 0h1m2 0h1m6 0h1m3 0h1m-50 1h1m2 0h1m0 0h1m3 0h1m24 0h1m6 0h1m3 0h1m1 0h1m2 0h1m1 0h1m2 0h1m3 0h1m-63 1h1m3 0h1m1 0h1m2 0h1m0 0h1m0 0h1m20 0h1m2 0h1m1 0h1m0 0h1m1 0h1m1 0h1m5 0h1m0 0h1m2 0h1m5 0h1m1 0h1m1 0h1m-62 1h1m2 0h1m1 0h1m1 0h1m0 0h1m25 0h1m8 0h1m2 0h1m1 0h1m0 0h1m-46 1h1m39 0h1m2 0h1m3 0h1m4 0h1m0 0h1m-56 1h1m27 0h1m0 0h1m1 0h1m0 0h1m10 0h1m2 0h1m5 0h1m-55 1h1m12 0h1m4 0h1m11 0h1m1 0h1m20 0h1m-56 1h1m3 0h1m4 0h1m2 0h1m21 0h1m0 0h1m17 0h1m3 0h1m-59 1h1m4 0h1m1 0h1m6 0h1m16 0h1m1 0h1m1 0h1m15 0h1m1 0h1m0 0h1m3 0h1m2 0h1m-65 1h1m2 0h1m3 0h1m10 0h1m12 0h1m26 0h1m3 0h1m-61 1h1m1 0h1m24 0h1m5 0h1m17 0h1m2 0h1m-61 1h1m2 0h1m0 0h1m17 0h1m0 0h1m3 0h1m11 0h1m17 0h1m-62 1h1m8 0h1m0 0h1m15 0h1m37 0h1m3 0h1m-42 1h1m2 0h1m28 0h1m4 0h1m1 0h1m-63 1h1m3 0h1m4 0h1m6 0h1m2 0h1m1 0h1m4 0h1m10 0h1m24 0h1" stroke="#7e7e7e" stroke-width="1" fill="none" shape-rendering="crispEdges"/>
<path d="M410 396.5h1m4 1h1m0 0h1m-14 1h1m5 0h1m0 0h1m4 0h1m-9 1h1m0 0h1m1 0h1m1 0h1m1 0h1m5 0h1m-17 1h1m0 0h1m0 0h1m1 0h1m0 0h1m0 0h1m6 0h1m-14 1h1m0 0h1m0 0h1m0 0h1m0 0h1m1 0h1m0 0h1m0 0h1m0 0h1m0 0h1m2 0h1m0 0h1m8 0h1m-26 1h1m0 0h1m2 0h1m0 0h1m0 0h1m3 0h1m0 0h1m0 0h1m0 0h1m0 0h1m0 0h1m1 0h1m4 0h1m-23 1h1m1 0h1m1 0h1m0 0h1m0 0h1m0 0h1m0 0h1m1 0h1m0 0h1m0 0h1m2 0h1m-25 1h1m4 0h1m0 0h1m0 0h1m2 0h1m0 0h1m0 0h1m0 0h1m0 0h1m0 0h1m0 0h1m0 0h1m1 0h1m0 0h1m0 0h1m1 0h1m1 0h1m2 0h1m5 0h1m0 0h1m-32 1h1m4 0h1m0 0h1m0 0h1m0 0h1m0 0h1m0 0h1m0 0h1m0 0h1m0 0h1m0 0h1m0 0h1m0 0h1m0 0h1m0 0h1m2 0h1m0 0h1m16 0h1m-43 1h1m2 0h1m0 0h1m0 0h1m0 0h1m0 0h1m0 0h1m0 0h1m0 0h1m0 0h1m0 0h1m0 0h1m0 0h1m0 0h1m0 0h1m0 0h1m1 0h1m0 0h1m2 0h1m16 0h1m3 0h1m-49 1h1m2 0h1m1 0h1m0 0h1m0 0h1m0 0h1m0 0h1m0 0h1m0 0h1m0 0h1m0 0h1m0 0h1m0 0h1m0 0h1m0 0h1m0 0h1m0 0h1m0 0h1m0 0h1m0 0h1m2 0h1m1 0h1m8 0h1m2 0h1m3 0h1m-43 1h1m1 0h1m2 0h1m1 0h1m0 0h1m0 0h1m0 0h1m0 0h1m0 0h1m0 0h1m0 0h1m0 0h1m0 0h1m0 0h1m0 0h1m0 0h1m0 0h1m0 0h1m0 0h1m0 0h1m0 0h1m2 0h1m1 0h1m2 0h1m1 0h1m5 0h1m-38 1h1m0 0h1m0 0h1m0 0h1m0 0h1m0 0h1m0 0h1m0 0h1m0 0h1m0 0h1m0 0h1m0 0h1m0 0h1m0 0h1m0 0h1m0 0h1m0 0h1m0 0h1m0 0h1m0 0h1m1 0h1m12 0h1m6 0h1m-47 1h1m2 0h1m0 0h1m0 0h1m0 0h1m0 0h1m0 0h1m0 0h1m0 0h1m0 0h1m0 0h1m0 0h1m0 0h1m0 0h1m0 0h1m0 0h1m0 0h1m0 0h1m0 0h1m0 0h1m0 0h1m0 0h1m0 0h1m0 0h1m0 0h1m-31 1h1m3 0h1m2 0h1m0 0h1m0 0h1m0 0h1m0 0h1m0 0h1m0 0h1m0 0h1m0 0h1m0 0h1m0 0h1m0 0h1m0 0h1m0 0h1m0 0h1m0 0h1m0 0h1m0 0h1m0 0h1m0 0h1m0 0h1m0 0h1m0 0h1m0 0h1m0 0h1m5 0h1m5 0h1m7 0h1m-49 1h1m0 0h1m0 0h1m0 0h1m0 0h1m0 0h1m0 0h1m0 0h1m0 0h1m0 0h1m0 0h1m0 0h1m0 0h1m0 0h1m0 0h1m0 0h1m0 0h1m0 0h1m0 0h1m0 0h1m0 0h1m0 0h1m0 0h1m0 0h1m22 0h1m4 0h1m-54 1h1m2 0h1m0 0h1m0 0h1m0 0h1m0 0h1m0 0h1m0 0h1m1 0h1m0 0h1m0 0h1m0 0h1m1 0h1m0 0h1m0 0h1m0 0h1m0 0h1m0 0h1m0 0h1m0 0h1m0 0h1m0 0h1m0 0h1m1 0h1m3 0h1m12 0h1m2 0h1m-49 1h1m1 0h1m0 0h1m1 0h1m0 0h1m1 0h1m0 0h1m0 0h1m0 0h1m0 0h1m0 0h1m0 0h1m0 0h1m0 0h1m0 0h1m0 0h1m0 0h1m0 0h1m0 0h1m0 0h1m0 0h1m0 0h1m1 0h1m0 0h1m11 0h1m2 0h1m-47 1h1m0 0h1m0 0h1m1 0h1m1 0h1m0 0h1m0 0h1m0 0h1m0 0h1m2 0h1m0 0h1m0 0h1m0 0h1m0 0h1m0 0h1m0 0h1m0 0h1m0 0h1m0 0h1m0 0h1m0 0h1m0 0h1m0 0h1m0 0h1m0 0h1m3 0h1m-37 1h1m2 0h1m0 0h1m0 0h1m1 0h1m0 0h1m0 0h1m0 0h1m0 0h1m0 0h1m0 0h1m0 0h1m0 0h1m0 0h1m1 0h1m0 0h1m0 0h1m0 0h1m0 0h1m0 0h1m0 0h1m0 0h1m0 0h1m0 0h1m0 0h1m3 0h1m-35 1h1m0 0h1m4 0h1m0 0h1m1 0h1m0 0h1m0 0h1m0 0h1m0 0h1m0 0h1m0 0h1m0 0h1m0 0h1m0 0h1m0 0h1m0 0h1m0 0h1m0 0h1m0 0h1m0 0h1m0 0h1m0 0h1m5 0h1m-35 1h1m3 0h1m0 0h1m0 0h1m0 0h1m0 0h1m0 0h1m0 0h1m0 0h1m0 0h1m0 0h1m0 0h1m0 0h1m0 0h1m0 0h1m0 0h1m0 0h1m0 0h1m4 0h1m1 0h1m0 0h1m30 0h1m1 0h1m-59 1h1m2 0h1m0 0h1m0 0h1m0 0h1m0 0h1m0 0h1m0 0h1m0 0h1m0 0h1m0 0h1m0 0h1m0 0h1m0 0h1m0 0h1m0 0h1m1 0h1m0 0h1m2 0h1m1 0h1m-29 1h1m1 0h1m0 0h1m0 0h1m0 0h1m0 0h1m0 0h1m0 0h1m0 0h1m0 0h1m0 0h1m0 0h1m0 0h1m0 0h1m0 0h1m0 0h1m0 0h1m0 0h1m0 0h1m0 0h1m0 0h1m1 0h1m3 0h1m0 0h1m2 0h1m23 0h1m9 0h1m-66 1h1m1 0h1m2 0h1m3 0h1m0 0h1m0 0h1m0 0h1m0 0h1m0 0h1m1 0h1m0 0h1m1 0h1m7 0h1m4 0h1m21 0h1" stroke="#707070" stroke-width="1" fill="none" shape-rendering="crispEdges"/>
<rect x="357.50" y="325.50" width="115.00" height="99.00" fill="none" stroke="#333" stroke-width="1.0"/>
<line x1="422.50" y1="325.50" x2="422.50" y2="424.50" stroke="#333" stroke-width="1.0"/>
<line x1="357.50" y1="386.50" x2="472.50" y2="386.50" stroke="#333" stroke-width="1.0"/>
<path d="M357.50 424.50v2.4M357.50 424.50h-2.4M366.15 424.50v1.6M357.50 417.05h-1.6M371.22 424.50v1.6M357.50 412.69h-1.6M374.81 424.50v1.6M357.50 409.60h-1.6M377.60 424.50v1.6M357.50 407.20h-1.6M379.87 424.50v1.6M357.50 405.24h-1.6M381.80 424.50v1.6M357.50 403.58h-1.6M383.46 424.50v1.6M357.50 402.15h-1.6M384.93 424.50v1.6M357.50 400.88h-1.6M386.25 424.50v2.4M357.50 399.75h-2.4M394.90 424.50v1.6M357.50 392.30h-1.6M399.97 424.50v1.6M357.50 387.94h-1.6M403.56 424.50v1.6M357.50 384.85h-1.6M406.35 424.50v1.6M357.50 382.45h-1.6M408.62 424.50v1.6M357.50 380.49h-1.6M410.55 424.50v1.6M357.50 378.83h-1.6M412.21 424.50v1.6M357.50 377.40h-1.6M413.68 424.50v1.6M357.50 376.13h-1.6M415.00 424.50v2.4M357.50 375.00h-2.4M423.65 424.50v1.6M357.50 367.55h-1.6M428.72 424.50v1.6M357.50 363.19h-1.6M432.31 424.50v1.6M357.50 360.10h-1.6M435.10 424.50v1.6M357.50 357.70h-1.6M437.37 424.50v1.6M357.50 355.74h-1.6M439.30 424.50v1.6M357.50 354.08h-1.6M440.96 424.50v1.6M357.50 352.65h-1.6M442.43 424.50v1.6M357.50 351.38h-1.6M443.75 424.50v2.4M357.50 350.25h-2.4M452.40 424.50v1.6M357.50 342.80h-1.6M457.47 424.50v1.6M357.50 338.44h-1.6M461.06 424.50v1.6M357.50 335.35h-1.6M463.85 424.50v1.6M357.50 332.95h-1.6M466.12 424.50v1.6M357.50 330.99h-1.6M468.05 424.50v1.6M357.50 329.33h-1.6M469.71 424.50v1.6M357.50 327.90h-1.6M471.18 424.50v1.6M357.50 326.63h-1.6M472.50 424.50v2.4M357.50 325.50h-2.4" stroke="#444" stroke-width="0.8" fill="none"/>
<text x="352.66" y="434.40" font-size="6.00" font-family='"Liberation Sans",sans-serif' fill="#444">10</text>
<text x="359.34" y="431.40" font-size="5.40" font-family='"Liberation Sans",sans-serif' fill="#444">0</text>
<text transform="translate(352.70,429.34) rotate(-90)" font-size="6.00" font-family='"Liberation Sans",sans-serif' fill="#444">10</text>
<text transform="translate(349.70,422.66) rotate(-90)" font-size="5.40" font-family='"Liberation Sans",sans-serif' fill="#444">0</text>
<text x="381.41" y="434.40" font-size="6.00" font-family='"Liberation Sans",sans-serif' fill="#444">10</text>
<text x="388.09" y="431.40" font-size="5.40" font-family='"Liberation Sans",sans-serif' fill="#444">1</text>
<text transform="translate(352.70,404.59) rotate(-90)" font-size="6.00" font-family='"Liberation Sans",sans-serif' fill="#444">10</text>
<text transform="translate(349.70,397.91) rotate(-90)" font-size="5.40" font-family='"Liberation Sans",sans-serif' fill="#444">1</text>
<text x="410.16" y="434.40" font-size="6.00" font-family='"Liberation Sans",sans-serif' fill="#444">10</text>
<text x="416.84" y="431.40" font-size="5.40" font-family='"Liberation Sans",sans-serif' fill="#444">2</text>
<text transform="translate(352.70,379.84) rotate(-90)" font-size="6.00" font-family='"Liberation Sans",sans-serif' fill="#444">10</text>
<text transform="translate(349.70,373.16) rotate(-90)" font-size="5.40" font-family='"Liberation Sans",sans-serif' fill="#444">2</text>
<text x="438.91" y="434.40" font-size="6.00" font-family='"Liberation Sans",sans-serif' fill="#444">10</text>
<text x="445.59" y="431.40" font-size="5.40" font-family='"Liberation Sans",sans-serif' fill="#444">3</text>
<text transform="translate(352.70,355.09) rotate(-90)" font-size="6.00" font-family='"Liberation Sans",sans-serif' fill="#444">10</text>
<text transform="translate(349.70,348.41) rotate(-90)" font-size="5.40" font-family='"Liberation Sans",sans-serif' fill="#444">3</text>
<text x="467.66" y="434.40" font-size="6.00" font-family='"Liberation Sans",sans-serif' fill="#444">10</text>
<text x="474.34" y="431.40" font-size="5.40" font-family='"Liberation Sans",sans-serif' fill="#444">4</text>
<text transform="translate(352.70,330.34) rotate(-90)" font-size="6.00" font-family='"Liberation Sans",sans-serif' fill="#444">10</text>
<text transform="translate(349.70,323.66) rotate(-90)" font-size="5.40" font-family='"Liberation Sans",sans-serif' fill="#444">4</text>
<text x="365.50" y="320.40" font-size="7.60" font-weight="bold" textLength="91.50" lengthAdjust="spacingAndGlyphs">1uM + miR-146a inhibitor</text>
<text x="441.70" y="336.00" font-size="6.10" font-weight="bold" textLength="27.30" lengthAdjust="spacingAndGlyphs">3.6 ±0.61</text>
<text x="438.00" y="421.00" font-size="6.10" font-weight="bold" textLength="32.70" lengthAdjust="spacingAndGlyphs">13.4. ±2.8#</text>
<text transform="translate(338.70,383.20) rotate(-90)" font-size="10.00" font-weight="bold" textLength="9.90" lengthAdjust="spacingAndGlyphs">PI</text>
<text x="377.60" y="442.00" font-size="7.40" font-weight="bold" textLength="59.10" lengthAdjust="spacingAndGlyphs">Annexin V-FITC</text>
<path d="M122 518.8h1.6m-3.6 5h1.6m-36.6 1h1.6m50.4 0h1.6m-45.6 4h1.6m-6.6 1h1.6m8.4 4h1.6m-5.6 1h1.6m14.4 0h1.6m-28.6 5h1.6m12.4 1h1.6m6.4 0h1.6m-0.6 0h1.6m-10.6 1h1.6m-3.6 1h1.6m-10.6 2h1.6m6.4 0h1.6m-2.6 1h1.6m-0.6 0h1.6m-5.6 1h1.6m3.4 0h1.6m-3.6 1h1.6m4.4 0h1.6m-0.6 0h1.6m-17.6 1h1.6m1.4 0h1.6m-0.6 0h1.6m-0.6 0h1.6m-0.6 0h1.6m1.4 0h1.6m0.4 0h1.6m-0.6 0h1.6m2.4 0h1.6m1.4 0h1.6m-15.6 1h1.6m-0.6 0h1.6m-0.6 0h1.6m1.4 0h1.6m-0.6 0h1.6m2.4 0h1.6m-21.6 1h1.6m0.4 0h1.6m4.4 0h1.6m-0.6 0h1.6m4.4 0h1.6m-0.6 0h1.6m-0.6 0h1.6m2.4 0h1.6m2.4 0h1.6m-27.6 1h1.6m2.4 0h1.6m-0.6 0h1.6m0.4 0h1.6m-0.6 0h1.6m2.4 0h1.6m2.4 0h1.6m-0.6 0h1.6m1.4 0h1.6m1.4 0h1.6m5.4 0h1.6m-38.6 1h1.6m6.4 0h1.6m4.4 0h1.6m-0.6 0h1.6m12.4 0h1.6m-31.6 1h1.6m4.4 0h1.6m1.4 0h1.6m2.4 0h1.6m3.4 0h1.6m0.4 0h1.6m-15.6 1h1.6m-0.6 0h1.6m0.4 0h1.6m1.4 0h1.6m0.4 0h1.6m-0.6 0h1.6m-0.6 0h1.6m0.4 0h1.6m6.4 0h1.6m-32.6 1h1.6m11.4 0h1.6m0.4 0h1.6m-0.6 0h1.6m-0.6 0h1.6m2.4 0h1.6m3.4 0h1.6m-17.6 1h1.6m-0.6 0h1.6m2.4 0h1.6m-0.6 0h1.6m-0.6 0h1.6m8.4 0h1.6m1.4 0h1.6m-0.6 0h1.6m0.4 0h1.6m-28.6 1h1.6m1.4 0h1.6m2.4 0h1.6m1.4 0h1.6m3.4 0h1.6m-0.6 0h1.6m-0.6 0h1.6m0.4 0h1.6m0.4 0h1.6m-32.6 1h1.6m-0.6 0h1.6m4.4 0h1.6m-0.6 0h1.6m6.4 0h1.6m1.4 0h1.6m1.4 0h1.6m-0.6 0h1.6m2.4 0h1.6m0.4 0h1.6m5.4 0h1.6m-34.6 1h1.6m-0.6 0h1.6m0.4 0h1.6m0.4 0h1.6m-0.6 0h1.6m3.4 0h1.6m0.4 0h1.6m2.4 0h1.6m-0.6 0h1.6m7.4 0h1.6m0.4 0h1.6m-36.6 1h1.6m1.4 0h1.6m7.4 0h1.6m-0.6 0h1.6m-0.6 0h1.6m3.4 0h1.6m0.4 0h1.6m1.4 0h1.6m1.4 0h1.6m4.4 0h1.6m2.4 0h1.6m-25.6 1h1.6m-0.6 0h1.6m2.4 0h1.6m-0.6 0h1.6m-0.6 0h1.6m-0.6 0h1.6m2.4 0h1.6m0.4 0h1.6m2.4 0h1.6m16.4 0h1.6m-51.6 1h1.6m0.4 0h1.6m0.4 0h1.6m-0.6 0h1.6m1.4 0h1.6m0.4 0h1.6m0.4 0h1.6m-0.6 0h1.6m2.4 0h1.6m3.4 0h1.6m0.4 0h1.6m-0.6 0h1.6m1.4 0h1.6m1.4 0h1.6m-31.6 1h1.6m0.4 0h1.6m3.4 0h1.6m-0.6 0h1.6m4.4 0h1.6m4.4 0h1.6m1.4 0h1.6m2.4 0h1.6m0.4 0h1.6m-33.6 1h1.6m4.4 0h1.6m4.4 0h1.6m0.4 0h1.6m0.4 0h1.6m0.4 0h1.6m-0.6 0h1.6m0.4 0h1.6m0.4 0h1.6m0.4 0h1.6m-0.6 0h1.6m7.4 0h1.6m7.4 0h1.6m-47.6 1h1.6m7.4 0h1.6m-0.6 0h1.6m-0.6 0h1.6m1.4 0h1.6m-0.6 0h1.6m8.4 0h1.6m0.4 0h1.6m2.4 0h1.6m5.4 0h1.6m-35.6 1h1.6m-0.6 0h1.6m0.4 0h1.6m-0.6 0h1.6m0.4 0h1.6m4.4 0h1.6m3.4 0h1.6m8.4 0h1.6m24.4 0h1.6m-52.6 1h1.6m0.4 0h1.6m-0.6 0h1.6m-0.6 0h1.6m9.4 0h1.6m2.4 0h1.6m-0.6 0h1.6m-0.6 0h1.6m0.4 0h1.6m2.4 0h1.6m-34.6 1h1.6m2.4 0h1.6m1.4 0h1.6m0.4 0h1.6m0.4 0h1.6m-0.6 0h1.6m3.4 0h1.6m1.4 0h1.6m7.4 0h1.6m-34.6 1h1.6m5.4 0h1.6m-0.6 0h1.6m-0.6 0h1.6m-0.6 0h1.6m3.4 0h1.6m-0.6 0h1.6m7.4 0h1.6m0.4 0h1.6m0.4 0h1.6m0.4 0h1.6m2.4 0h1.6m-34.6 1h1.6m0.4 0h1.6m1.4 0h1.6m-0.6 0h1.6m5.4 0h1.6m-0.6 0h1.6" stroke="#c4c4c4" stroke-width="1.6" fill="none" shape-rendering="crispEdges"/>
<path d="M92 546.8h1.6m-0.6 5h1.6m-10.6 1h1.6m12.4 0h1.6m-16.6 2h1.6m8.4 0h1.6m-6.6 1h1.6m-6.6 1h1.6m1.4 0h1.6m-17.6 1h1.6m3.4 0h1.6m2.4 0h1.6m3.4 0h1.6m3.4 0h1.6m4.4 0h1.6m-25.6 1h1.6m0.4 0h1.6m1.4 0h1.6m3.4 0h1.6m-11.6 1h1.6m0.4 0h1.6m8.4 0h1.6m-16.6 1h1.6m5.4 0h1.6m-0.6 0h1.6m3.4 0h1.6m4.4 0h1.6m-0.6 0h1.6m-25.6 1h1.6m2.4 0h1.6m-0.6 0h1.6m9.4 0h1.6m-9.6 1h1.6m-0.6 0h1.6m0.4 0h1.6m1.4 0h1.6m4.4 0h1.6m-22.6 1h1.6m6.4 0h1.6m3.4 0h1.6m-0.6 0h1.6m3.4 0h1.6m-11.6 1h1.6m-11.6 2h1.6m1.4 0h1.6m3.4 0h1.6m-5.6 1h1.6m5.4 0h1.6m-11.6 1h1.6m2.4 0h1.6m5.4 0h1.6m-12.6 1h1.6m3.4 0h1.6m9.4 0h1.6" stroke="#b2b2b2" stroke-width="1.6" fill="none" shape-rendering="crispEdges"/>
<path d="M88 549.8h1.6m-1.6 3h1.6m0.4 0h1.6m5.4 0h1.6m-11.6 1h1.6m-10.6 1h1.6m-2.6 1h1.6m10.4 1h1.6m-14.6 3h1.6m2.4 0h1.6m-8.6 1h1.6m-0.6 0h1.6m4.4 0h1.6m-15.6 1h1.6m7.4 0h1.6m4.4 0h1.6m-0.6 0h1.6m3.4 0h1.6m-20.6 2h1.6m3.4 0h1.6m-8.6 1h1.6m9.4 0h1.6m-17.6 1h1.6m3.4 0h1.6m5.4 0h1.6m-2.6 4h1.6" stroke="#a4a4a4" stroke-width="1.6" fill="none" shape-rendering="crispEdges"/>
<path d="M74 559.8h1.6m3.4 0h1.6m-2.6 1h1.6m-6.6 1h1.6m-0.6 0h1.6m-7.6 1h1.6m4.4 1h1.6m-1.6 2h1.6m7.4 0h1.6" stroke="#989898" stroke-width="1.6" fill="none" shape-rendering="crispEdges"/>
<rect x="43.50" y="485.50" width="112.00" height="87.00" fill="none" stroke="#222" stroke-width="1.0"/>
<line x1="43.50" y1="485.50" x2="43.50" y2="573.00" stroke="#111" stroke-width="1.6"/>
<line x1="43.00" y1="572.50" x2="156.00" y2="572.50" stroke="#111" stroke-width="1.6"/>
<line x1="102.50" y1="485.50" x2="102.50" y2="572.50" stroke="#222" stroke-width="1.2"/>
<line x1="43.50" y1="543.50" x2="155.50" y2="543.50" stroke="#222" stroke-width="1.2"/>
<path d="M43.50 572.50v3.6M43.50 572.50h-3.6M51.93 572.50v2.2M43.50 565.95h-2.2M56.86 572.50v2.2M43.50 562.12h-2.2M60.36 572.50v2.2M43.50 559.41h-2.2M63.07 572.50v2.2M43.50 557.30h-2.2M65.29 572.50v2.2M43.50 555.58h-2.2M67.16 572.50v2.2M43.50 554.12h-2.2M68.79 572.50v2.2M43.50 552.86h-2.2M70.22 572.50v2.2M43.50 551.75h-2.2M71.50 572.50v3.6M43.50 550.75h-3.6M79.93 572.50v2.2M43.50 544.20h-2.2M84.86 572.50v2.2M43.50 540.37h-2.2M88.36 572.50v2.2M43.50 537.66h-2.2M91.07 572.50v2.2M43.50 535.55h-2.2M93.29 572.50v2.2M43.50 533.83h-2.2M95.16 572.50v2.2M43.50 532.37h-2.2M96.79 572.50v2.2M43.50 531.11h-2.2M98.22 572.50v2.2M43.50 530.00h-2.2M99.50 572.50v3.6M43.50 529.00h-3.6M107.93 572.50v2.2M43.50 522.45h-2.2M112.86 572.50v2.2M43.50 518.62h-2.2M116.36 572.50v2.2M43.50 515.91h-2.2M119.07 572.50v2.2M43.50 513.80h-2.2M121.29 572.50v2.2M43.50 512.08h-2.2M123.16 572.50v2.2M43.50 510.62h-2.2M124.79 572.50v2.2M43.50 509.36h-2.2M126.22 572.50v2.2M43.50 508.25h-2.2M127.50 572.50v3.6M43.50 507.25h-3.6M135.93 572.50v2.2M43.50 500.70h-2.2M140.86 572.50v2.2M43.50 496.87h-2.2M144.36 572.50v2.2M43.50 494.16h-2.2M147.07 572.50v2.2M43.50 492.05h-2.2M149.29 572.50v2.2M43.50 490.33h-2.2M151.16 572.50v2.2M43.50 488.87h-2.2M152.79 572.50v2.2M43.50 487.61h-2.2M154.22 572.50v2.2M43.50 486.50h-2.2M155.50 572.50v3.6M43.50 485.50h-3.6" stroke="#111" stroke-width="1.3" fill="none"/>
<text x="34.61" y="589.50" font-size="11.50" font-family='"Liberation Sans",sans-serif'>10</text>
<text x="47.40" y="583.98" font-size="8.97" font-family='"Liberation Sans",sans-serif'>0</text>
<text transform="translate(36.00,581.39) rotate(-90)" font-size="11.50" font-family='"Liberation Sans",sans-serif'>10</text>
<text transform="translate(30.48,568.60) rotate(-90)" font-size="8.97" font-family='"Liberation Sans",sans-serif'>0</text>
<text x="62.61" y="589.50" font-size="11.50" font-family='"Liberation Sans",sans-serif'>10</text>
<text x="75.40" y="583.98" font-size="8.97" font-family='"Liberation Sans",sans-serif'>1</text>
<text transform="translate(36.00,559.64) rotate(-90)" font-size="11.50" font-family='"Liberation Sans",sans-serif'>10</text>
<text transform="translate(30.48,546.85) rotate(-90)" font-size="8.97" font-family='"Liberation Sans",sans-serif'>1</text>
<text x="90.61" y="589.50" font-size="11.50" font-family='"Liberation Sans",sans-serif'>10</text>
<text x="103.40" y="583.98" font-size="8.97" font-family='"Liberation Sans",sans-serif'>2</text>
<text transform="translate(36.00,537.89) rotate(-90)" font-size="11.50" font-family='"Liberation Sans",sans-serif'>10</text>
<text transform="translate(30.48,525.10) rotate(-90)" font-size="8.97" font-family='"Liberation Sans",sans-serif'>2</text>
<text x="118.61" y="589.50" font-size="11.50" font-family='"Liberation Sans",sans-serif'>10</text>
<text x="131.40" y="583.98" font-size="8.97" font-family='"Liberation Sans",sans-serif'>3</text>
<text transform="translate(36.00,516.14) rotate(-90)" font-size="11.50" font-family='"Liberation Sans",sans-serif'>10</text>
<text transform="translate(30.48,503.35) rotate(-90)" font-size="8.97" font-family='"Liberation Sans",sans-serif'>3</text>
<text x="146.61" y="589.50" font-size="11.50" font-family='"Liberation Sans",sans-serif'>10</text>
<text x="159.40" y="583.98" font-size="8.97" font-family='"Liberation Sans",sans-serif'>4</text>
<text transform="translate(36.00,494.39) rotate(-90)" font-size="11.50" font-family='"Liberation Sans",sans-serif'>10</text>
<text transform="translate(30.48,481.60) rotate(-90)" font-size="8.97" font-family='"Liberation Sans",sans-serif'>4</text>
<text x="38.50" y="474.90" font-size="9.20" font-weight="bold" textLength="100.50" lengthAdjust="spacingAndGlyphs">0 uM + negative inhibitor</text>
<text x="111.20" y="497.70" font-size="10.50" textLength="37.70" lengthAdjust="spacingAndGlyphs">1.5 ± 0.51</text>
<text x="114.60" y="568.50" font-size="10.50" textLength="33.50" lengthAdjust="spacingAndGlyphs">3.1 ± 1.0</text>
<text transform="translate(17.40,535.70) rotate(-90)" font-size="10.50" textLength="9.90" lengthAdjust="spacingAndGlyphs">PI</text>
<text x="59.60" y="604.00" font-size="10.00" font-weight="bold" textLength="67.00" lengthAdjust="spacingAndGlyphs">Annexin V-FITC</text>
<path d="M286 509.8h1.6m-6.6 2h1.6m-2.6 3h1.6m-1.6 1h1.6m11.4 1h1.6m-21.6 1h1.6m4.4 1h1.6m2.4 0h1.6m-11.6 1h1.6m2.4 0h1.6m5.4 0h1.6m-15.6 1h1.6m4.4 0h1.6m-9.6 1h1.6m13.4 0h1.6m-34.6 1h1.6m7.4 0h1.6m9.4 0h1.6m0.4 0h1.6m1.4 0h1.6m2.4 0h1.6m-0.6 0h1.6m5.4 0h1.6m-4.6 1h1.6m-0.6 0h1.6m-24.6 1h1.6m2.4 0h1.6m4.4 0h1.6m1.4 0h1.6m-13.6 1h1.6m-0.6 0h1.6m0.4 0h1.6m-0.6 0h1.6m5.4 0h1.6m-0.6 0h1.6m8.4 0h1.6m0.4 0h1.6m-23.6 1h1.6m2.4 0h1.6m5.4 0h1.6m-0.6 0h1.6m2.4 0h1.6m-37.6 1h1.6m14.4 0h1.6m2.4 0h1.6m3.4 0h1.6m3.4 0h1.6m1.4 0h1.6m1.4 0h1.6m-50.6 1h1.6m23.4 0h1.6m-0.6 0h1.6m0.4 0h1.6m-0.6 0h1.6m1.4 0h1.6m2.4 0h1.6m3.4 0h1.6m-0.6 0h1.6m0.4 0h1.6m-0.6 0h1.6m-0.6 0h1.6m-14.6 1h1.6m0.4 0h1.6m3.4 0h1.6m12.4 0h1.6m-25.6 1h1.6m0.4 0h1.6m5.4 0h1.6m0.4 0h1.6m-0.6 0h1.6m0.4 0h1.6m4.4 0h1.6m-15.6 1h1.6m-0.6 0h1.6m-0.6 0h1.6m-0.6 0h1.6m1.4 0h1.6m-0.6 0h1.6m-0.6 0h1.6m-9.6 1h1.6m-0.6 0h1.6m2.4 0h1.6m2.4 0h1.6m0.4 0h1.6m0.4 0h1.6m2.4 0h1.6m-0.6 0h1.6m-26.6 1h1.6m-0.6 0h1.6m10.4 0h1.6m9.4 0h1.6m3.4 0h1.6m-27.6 1h1.6m0.4 0h1.6m-0.6 0h1.6m5.4 0h1.6m5.4 0h1.6m0.4 0h1.6m-0.6 0h1.6m4.4 0h1.6m-43.6 1h1.6m3.4 0h1.6m5.4 0h1.6m6.4 0h1.6m1.4 0h1.6m1.4 0h1.6m0.4 0h1.6m12.4 0h1.6m2.4 0h1.6m-35.6 1h1.6m1.4 0h1.6m3.4 0h1.6m3.4 0h1.6m-0.6 0h1.6m0.4 0h1.6m-0.6 0h1.6m2.4 0h1.6m-0.6 0h1.6m-0.6 0h1.6m2.4 0h1.6m-34.6 1h1.6m0.4 0h1.6m0.4 0h1.6m3.4 0h1.6m0.4 0h1.6m4.4 0h1.6m2.4 0h1.6m0.4 0h1.6m8.4 0h1.6m-30.6 1h1.6m16.4 0h1.6m-0.6 0h1.6m8.4 0h1.6m-26.6 1h1.6m0.4 0h1.6m0.4 0h1.6m0.4 0h1.6m6.4 0h1.6m-36.6 1h1.6m9.4 0h1.6m2.4 0h1.6m6.4 0h1.6m-0.6 0h1.6m0.4 0h1.6m3.4 0h1.6m0.4 0h1.6m-28.6 1h1.6m2.4 0h1.6m2.4 0h1.6m0.4 0h1.6m6.4 0h1.6m2.4 0h1.6m-0.6 0h1.6m1.4 0h1.6m2.4 0h1.6m-42.6 1h1.6m10.4 0h1.6m5.4 0h1.6m1.4 0h1.6m0.4 0h1.6m0.4 0h1.6m2.4 0h1.6m1.4 0h1.6m10.4 0h1.6m-26.6 1h1.6m3.4 0h1.6m1.4 0h1.6m2.4 0h1.6m2.4 0h1.6m9.4 0h1.6m-41.6 1h1.6m3.4 0h1.6m11.4 0h1.6m3.4 0h1.6m8.4 0h1.6m-36.6 1h1.6m8.4 0h1.6m6.4 0h1.6m0.4 0h1.6m2.4 0h1.6m-0.6 0h1.6m-0.6 0h1.6m6.4 0h1.6m-33.6 1h1.6m10.4 0h1.6m3.4 0h1.6m-0.6 0h1.6m-0.6 0h1.6m3.4 0h1.6m3.4 0h1.6m-0.6 0h1.6m-37.6 1h1.6m0.4 0h1.6m0.4 0h1.6m1.4 0h1.6m0.4 0h1.6m1.4 0h1.6m6.4 0h1.6m-0.6 0h1.6m-0.6 0h1.6m-0.6 0h1.6m7.4 0h1.6m-0.6 0h1.6m-41.6 1h1.6m10.4 0h1.6m0.4 0h1.6m2.4 0h1.6m0.4 0h1.6m-0.6 0h1.6m3.4 0h1.6m7.4 0h1.6m2.4 0h1.6m0.4 0h1.6m0.4 0h1.6m0.4 0h1.6m0.4 0h1.6m-42.6 1h1.6m0.4 0h1.6m0.4 0h1.6m8.4 0h1.6m-0.6 0h1.6m2.4 0h1.6m-0.6 0h1.6m-0.6 0h1.6m-0.6 0h1.6m0.4 0h1.6m0.4 0h1.6m1.4 0h1.6m-30.6 1h1.6m-0.6 0h1.6m0.4 0h1.6m1.4 0h1.6m1.4 0h1.6m-0.6 0h1.6m-0.6 0h1.6m3.4 0h1.6m4.4 0h1.6m4.4 0h1.6m-0.6 0h1.6m-0.6 0h1.6m0.4 0h1.6m0.4 0h1.6m0.4 0h1.6m-0.6 0h1.6m-0.6 0h1.6m-43.6 1h1.6m4.4 0h1.6m3.4 0h1.6m5.4 0h1.6m0.4 0h1.6m2.4 0h1.6m0.4 0h1.6m2.4 0h1.6m-0.6 0h1.6m0.4 0h1.6m-28.6 1h1.6m7.4 0h1.6m0.4 0h1.6m1.4 0h1.6m1.4 0h1.6m-0.6 0h1.6m2.4 0h1.6m10.4 0h1.6m-54.6 1h1.6m3.4 0h1.6m10.4 0h1.6m2.4 0h1.6m3.4 0h1.6m2.4 0h1.6m-0.6 0h1.6m-0.6 0h1.6m1.4 0h1.6m1.4 0h1.6m-0.6 0h1.6m1.4 0h1.6m1.4 0h1.6m0.4 0h1.6m3.4 0h1.6m-31.6 1h1.6m2.4 0h1.6m2.4 0h1.6m-0.6 0h1.6m0.4 0h1.6m4.4 0h1.6m2.4 0h1.6m-30.6 1h1.6m3.4 0h1.6m-0.6 0h1.6m0.4 0h1.6m1.4 0h1.6m0.4 0h1.6m1.4 0h1.6m-0.6 0h1.6m-0.6 0h1.6m0.4 0h1.6m0.4 0h1.6m-0.6 0h1.6m0.4 0h1.6m2.4 0h1.6m3.4 0h1.6m-36.6 1h1.6m1.4 0h1.6m-0.6 0h1.6m2.4 0h1.6m3.4 0h1.6m1.4 0h1.6m0.4 0h1.6m1.4 0h1.6m1.4 0h1.6m3.4 0h1.6m-0.6 0h1.6m-36.6 1h1.6m9.4 0h1.6m0.4 0h1.6m0.4 0h1.6m3.4 0h1.6m5.4 0h1.6m0.4 0h1.6m-0.6 0h1.6m10.4 0h1.6m-38.6 1h1.6m-0.6 0h1.6m1.4 0h1.6m0.4 0h1.6m-0.6 0h1.6m0.4 0h1.6m-0.6 0h1.6m-0.6 0h1.6m2.4 0h1.6m4.4 0h1.6m1.4 0h1.6m2.4 0h1.6m6.4 0h1.6m-35.6 1h1.6m-0.6 0h1.6m0.4 0h1.6m-0.6 0h1.6m-0.6 0h1.6m1.4 0h1.6m-0.6 0h1.6m0.4 0h1.6m1.4 0h1.6m-0.6 0h1.6m2.4 0h1.6m3.4 0h1.6m-28.6 1h1.6m1.4 0h1.6m1.4 0h1.6m4.4 0h1.6m2.4 0h1.6m4.4 0h1.6m0.4 0h1.6m1.4 0h1.6m0.4 0h1.6m2.4 0h1.6m-0.6 0h1.6m5.4 0h1.6m-42.6 1h1.6m2.4 0h1.6m0.4 0h1.6m1.4 0h1.6m1.4 0h1.6m-0.6 0h1.6m-0.6 0h1.6m2.4 0h1.6m3.4 0h1.6m3.4 0h1.6m6.4 0h1.6m-30.6 1h1.6m-0.6 0h1.6m4.4 0h1.6m-0.6 0h1.6m-0.6 0h1.6m5.4 0h1.6m-0.6 0h1.6m8.4 0h1.6m-32.6 1h1.6m0.4 0h1.6m1.4 0h1.6m2.4 0h1.6m5.4 0h1.6m-25.6 1h1.6m7.4 0h1.6m2.4 0h1.6m1.4 0h1.6m-0.6 0h1.6m-0.6 0h1.6m6.4 0h1.6m4.4 0h1.6m-34.6 1h1.6m2.4 0h1.6m7.4 0h1.6m-0.6 0h1.6m1.4 0h1.6m-21.6 1h1.6m7.4 0h1.6m0.4 0h1.6m15.4 0h1.6m3.4 0h1.6m-0.6 0h1.6m-23.6 1h1.6m6.4 0h1.6m1.4 0h1.6m-0.6 0h1.6m-17.6 1h1.6m-0.6 0h1.6m0.4 0h1.6m0.4 0h1.6m0.4 0h1.6m-0.6 0h1.6m-0.6 0h1.6m1.4 0h1.6m-0.6 0h1.6m-0.6 0h1.6m0.4 0h1.6m-18.6 1h1.6m14.4 0h1.6m10.4 0h1.6m-0.6 0h1.6" stroke="#c4c4c4" stroke-width="1.6" fill="none" shape-rendering="crispEdges"/>
<path d="M275 521.8h1.6m-9.6 1h1.6m1.4 1h1.6m-3.6 1h1.6m3.4 1h1.6m7.4 1h1.6m1.4 1h1.6m-16.6 1h1.6m-3.6 1h1.6m5.4 0h1.6m3.4 1h1.6m-9.6 1h1.6m8.4 0h1.6m-20.6 1h1.6m11.4 0h1.6m-0.6 2h1.6m0.4 0h1.6m-7.6 1h1.6m-7.6 2h1.6m-13.6 1h1.6m8.4 0h1.6m-0.6 0h1.6m4.4 0h1.6m-10.6 2h1.6m-11.6 2h1.6m15.4 0h1.6m-8.6 1h1.6m5.4 1h1.6m-27.6 1h1.6m3.4 0h1.6m-3.6 1h1.6m8.4 0h1.6m-0.6 0h1.6m8.4 0h1.6m-8.6 1h1.6m0.4 0h1.6m-27.6 1h1.6m16.4 0h1.6m1.4 0h1.6m-0.6 0h1.6m-0.6 0h1.6m-20.6 2h1.6m5.4 0h1.6m1.4 0h1.6m2.4 0h1.6m-5.6 1h1.6m6.4 0h1.6m-14.6 1h1.6m6.4 0h1.6m1.4 0h1.6m0.4 0h1.6m-19.6 1h1.6m-0.6 0h1.6m0.4 0h1.6m0.4 0h1.6m-0.6 0h1.6m14.4 0h1.6m-20.6 1h1.6m0.4 0h1.6m7.4 0h1.6m-0.6 0h1.6m1.4 0h1.6m-23.6 1h1.6m13.4 0h1.6m3.4 0h1.6m0.4 0h1.6m-0.6 0h1.6m-15.6 1h1.6m3.4 0h1.6m4.4 0h1.6m-21.6 1h1.6m7.4 0h1.6m1.4 0h1.6m8.4 0h1.6m-0.6 0h1.6m-24.6 1h1.6m11.4 0h1.6m-0.6 0h1.6m-8.6 1h1.6m-4.6 1h1.6m6.4 0h1.6m-14.6 1h1.6m3.4 0h1.6m-0.6 0h1.6m3.4 0h1.6m-6.6 1h1.6m6.4 0h1.6m0.4 1h1.6m-19.6 1h1.6" stroke="#b2b2b2" stroke-width="1.6" fill="none" shape-rendering="crispEdges"/>
<path d="M270 533.8h1.6m4.4 0h1.6m-6.6 1h1.6m-2.6 1h1.6m2.4 3h1.6m-9.6 3h1.6m-4.6 4h1.6m-8.6 5h1.6m-15.6 1h1.6m0.4 0h1.6m4.4 1h1.6m0.4 1h1.6m-12.6 3h1.6m3.4 2h1.6m-7.6 2h1.6m-1.6 8h1.6" stroke="#a4a4a4" stroke-width="1.6" fill="none" shape-rendering="crispEdges"/>
<path d="M274 542.8h1.6m-23.6 5h1.6m-9.6 5h1.6m-3.6 2h1.6m7.4 6h1.6" stroke="#989898" stroke-width="1.6" fill="none" shape-rendering="crispEdges"/>
<rect x="205.50" y="480.50" width="111.00" height="91.00" fill="none" stroke="#222" stroke-width="1.0"/>
<line x1="205.50" y1="480.50" x2="205.50" y2="572.00" stroke="#111" stroke-width="1.6"/>
<line x1="205.00" y1="571.50" x2="317.00" y2="571.50" stroke="#111" stroke-width="1.6"/>
<line x1="263.50" y1="480.50" x2="263.50" y2="571.50" stroke="#222" stroke-width="1.2"/>
<line x1="205.50" y1="541.50" x2="316.50" y2="541.50" stroke="#222" stroke-width="1.2"/>
<path d="M205.50 571.50v3.6M205.50 571.50h-3.6M213.85 571.50v2.2M205.50 564.65h-2.2M218.74 571.50v2.2M205.50 560.65h-2.2M222.21 571.50v2.2M205.50 557.80h-2.2M224.90 571.50v2.2M205.50 555.60h-2.2M227.09 571.50v2.2M205.50 553.80h-2.2M228.95 571.50v2.2M205.50 552.27h-2.2M230.56 571.50v2.2M205.50 550.95h-2.2M231.98 571.50v2.2M205.50 549.79h-2.2M233.25 571.50v3.6M205.50 548.75h-3.6M241.60 571.50v2.2M205.50 541.90h-2.2M246.49 571.50v2.2M205.50 537.90h-2.2M249.96 571.50v2.2M205.50 535.05h-2.2M252.65 571.50v2.2M205.50 532.85h-2.2M254.84 571.50v2.2M205.50 531.05h-2.2M256.70 571.50v2.2M205.50 529.52h-2.2M258.31 571.50v2.2M205.50 528.20h-2.2M259.73 571.50v2.2M205.50 527.04h-2.2M261.00 571.50v3.6M205.50 526.00h-3.6M269.35 571.50v2.2M205.50 519.15h-2.2M274.24 571.50v2.2M205.50 515.15h-2.2M277.71 571.50v2.2M205.50 512.30h-2.2M280.40 571.50v2.2M205.50 510.10h-2.2M282.59 571.50v2.2M205.50 508.30h-2.2M284.45 571.50v2.2M205.50 506.77h-2.2M286.06 571.50v2.2M205.50 505.45h-2.2M287.48 571.50v2.2M205.50 504.29h-2.2M288.75 571.50v3.6M205.50 503.25h-3.6M297.10 571.50v2.2M205.50 496.40h-2.2M301.99 571.50v2.2M205.50 492.40h-2.2M305.46 571.50v2.2M205.50 489.55h-2.2M308.15 571.50v2.2M205.50 487.35h-2.2M310.34 571.50v2.2M205.50 485.55h-2.2M312.20 571.50v2.2M205.50 484.02h-2.2M313.81 571.50v2.2M205.50 482.70h-2.2M315.23 571.50v2.2M205.50 481.54h-2.2M316.50 571.50v3.6M205.50 480.50h-3.6" stroke="#111" stroke-width="1.3" fill="none"/>
<text x="196.61" y="588.50" font-size="11.50" font-family='"Liberation Sans",sans-serif'>10</text>
<text x="209.40" y="582.98" font-size="8.97" font-family='"Liberation Sans",sans-serif'>0</text>
<text transform="translate(198.00,580.39) rotate(-90)" font-size="11.50" font-family='"Liberation Sans",sans-serif'>10</text>
<text transform="translate(192.48,567.60) rotate(-90)" font-size="8.97" font-family='"Liberation Sans",sans-serif'>0</text>
<text x="224.36" y="588.50" font-size="11.50" font-family='"Liberation Sans",sans-serif'>10</text>
<text x="237.15" y="582.98" font-size="8.97" font-family='"Liberation Sans",sans-serif'>1</text>
<text transform="translate(198.00,557.64) rotate(-90)" font-size="11.50" font-family='"Liberation Sans",sans-serif'>10</text>
<text transform="translate(192.48,544.85) rotate(-90)" font-size="8.97" font-family='"Liberation Sans",sans-serif'>1</text>
<text x="252.11" y="588.50" font-size="11.50" font-family='"Liberation Sans",sans-serif'>10</text>
<text x="264.90" y="582.98" font-size="8.97" font-family='"Liberation Sans",sans-serif'>2</text>
<text transform="translate(198.00,534.89) rotate(-90)" font-size="11.50" font-family='"Liberation Sans",sans-serif'>10</text>
<text transform="translate(192.48,522.10) rotate(-90)" font-size="8.97" font-family='"Liberation Sans",sans-serif'>2</text>
<text x="279.86" y="588.50" font-size="11.50" font-family='"Liberation Sans",sans-serif'>10</text>
<text x="292.65" y="582.98" font-size="8.97" font-family='"Liberation Sans",sans-serif'>3</text>
<text transform="translate(198.00,512.14) rotate(-90)" font-size="11.50" font-family='"Liberation Sans",sans-serif'>10</text>
<text transform="translate(192.48,499.35) rotate(-90)" font-size="8.97" font-family='"Liberation Sans",sans-serif'>3</text>
<text x="307.61" y="588.50" font-size="11.50" font-family='"Liberation Sans",sans-serif'>10</text>
<text x="320.40" y="582.98" font-size="8.97" font-family='"Liberation Sans",sans-serif'>4</text>
<text transform="translate(198.00,489.39) rotate(-90)" font-size="11.50" font-family='"Liberation Sans",sans-serif'>10</text>
<text transform="translate(192.48,476.60) rotate(-90)" font-size="8.97" font-family='"Liberation Sans",sans-serif'>4</text>
<text x="211.00" y="471.90" font-size="9.20" font-weight="bold" textLength="96.70" lengthAdjust="spacingAndGlyphs">1uM + negative inhibitor</text>
<text x="270.50" y="497.20" font-size="10.50" textLength="42.20" lengthAdjust="spacingAndGlyphs">15.1 ± 2.1*</text>
<text x="274.20" y="567.20" font-size="10.50" textLength="36.80" lengthAdjust="spacingAndGlyphs">18.9 ± 3.9</text>
<text transform="translate(177.40,534.40) rotate(-90)" font-size="10.50" textLength="9.90" lengthAdjust="spacingAndGlyphs">PI</text>
<text x="217.10" y="604.00" font-size="10.00" font-weight="bold" textLength="67.00" lengthAdjust="spacingAndGlyphs">Annexin V-FITC</text>
<path d="M436 506.8h1.6m6.4 4h1.6m-17.6 5h1.6m2.4 2h1.6m16.4 0h1.6m-26.6 3h1.6m-29.6 1h1.6m1.4 2h1.6m34.4 0h1.6m-52.6 2h1.6m20.4 0h1.6m4.4 6h1.6m23.4 0h1.6m0.4 0h1.6m-49.6 5h1.6m24.4 3h1.6m-5.6 1h1.6m0.4 0h1.6m2.4 0h1.6m13.4 0h1.6m10.4 0h1.6m-50.6 1h1.6m12.4 0h1.6m15.4 0h1.6m-28.6 1h1.6m4.4 0h1.6m1.4 0h1.6m3.4 0h1.6m1.4 0h1.6m8.4 0h1.6m-31.6 1h1.6m1.4 0h1.6m1.4 0h1.6m0.4 0h1.6m0.4 0h1.6m-0.6 0h1.6m-0.6 0h1.6m11.4 0h1.6m2.4 0h1.6m-21.6 1h1.6m3.4 0h1.6m0.4 0h1.6m0.4 0h1.6m-0.6 0h1.6m1.4 0h1.6m-0.6 0h1.6m6.4 0h1.6m-26.6 1h1.6m4.4 0h1.6m0.4 0h1.6m2.4 0h1.6m-0.6 0h1.6m-0.6 0h1.6m-21.6 1h1.6m-0.6 0h1.6m0.4 0h1.6m2.4 0h1.6m6.4 0h1.6m0.4 0h1.6m-0.6 0h1.6m1.4 0h1.6m1.4 0h1.6m-13.6 1h1.6m1.4 0h1.6m3.4 0h1.6m-0.6 0h1.6m6.4 0h1.6m-39.6 1h1.6m4.4 0h1.6m5.4 0h1.6m0.4 0h1.6m-0.6 0h1.6m0.4 0h1.6m-0.6 0h1.6m2.4 0h1.6m-0.6 0h1.6m1.4 0h1.6m2.4 0h1.6m-22.6 1h1.6m6.4 0h1.6m0.4 0h1.6m1.4 0h1.6m-0.6 0h1.6m-0.6 0h1.6m1.4 0h1.6m-31.6 1h1.6m6.4 0h1.6m-0.6 0h1.6m1.4 0h1.6m1.4 0h1.6m1.4 0h1.6m0.4 0h1.6m-0.6 0h1.6m0.4 0h1.6m4.4 0h1.6m1.4 0h1.6m1.4 0h1.6m-34.6 1h1.6m0.4 0h1.6m1.4 0h1.6m4.4 0h1.6m0.4 0h1.6m4.4 0h1.6m0.4 0h1.6m-0.6 0h1.6m-0.6 0h1.6m-0.6 0h1.6m2.4 0h1.6m-0.6 0h1.6m-29.6 1h1.6m6.4 0h1.6m-0.6 0h1.6m-0.6 0h1.6m2.4 0h1.6m0.4 0h1.6m1.4 0h1.6m-0.6 0h1.6m-0.6 0h1.6m3.4 0h1.6m-0.6 0h1.6m-0.6 0h1.6m2.4 0h1.6m0.4 0h1.6m-42.6 1h1.6m5.4 0h1.6m2.4 0h1.6m0.4 0h1.6m10.4 0h1.6m-0.6 0h1.6m-0.6 0h1.6m0.4 0h1.6m-0.6 0h1.6m3.4 0h1.6m3.4 0h1.6m-45.6 1h1.6m5.4 0h1.6m3.4 0h1.6m0.4 0h1.6m6.4 0h1.6m2.4 0h1.6m2.4 0h1.6m0.4 0h1.6m8.4 0h1.6m-42.6 1h1.6m7.4 0h1.6m1.4 0h1.6m1.4 0h1.6m-0.6 0h1.6m4.4 0h1.6m-0.6 0h1.6m3.4 0h1.6m-0.6 0h1.6m0.4 0h1.6m-0.6 0h1.6m-0.6 0h1.6m0.4 0h1.6m-48.6 1h1.6m12.4 0h1.6m1.4 0h1.6m0.4 0h1.6m-0.6 0h1.6m0.4 0h1.6m4.4 0h1.6m0.4 0h1.6m0.4 0h1.6m5.4 0h1.6m-0.6 0h1.6m-0.6 0h1.6m1.4 0h1.6m5.4 0h1.6m-41.6 1h1.6m0.4 0h1.6m-0.6 0h1.6m0.4 0h1.6m0.4 0h1.6m1.4 0h1.6m-0.6 0h1.6m2.4 0h1.6m4.4 0h1.6m-0.6 0h1.6m4.4 0h1.6m2.4 0h1.6m-0.6 0h1.6m-0.6 0h1.6m-0.6 0h1.6m-45.6 1h1.6m4.4 0h1.6m-0.6 0h1.6m-0.6 0h1.6m5.4 0h1.6m-0.6 0h1.6m3.4 0h1.6m0.4 0h1.6m-0.6 0h1.6m-0.6 0h1.6m4.4 0h1.6m3.4 0h1.6m-0.6 0h1.6m0.4 0h1.6m2.4 0h1.6m-46.6 1h1.6m2.4 0h1.6m8.4 0h1.6m0.4 0h1.6m2.4 0h1.6m-0.6 0h1.6m0.4 0h1.6m3.4 0h1.6m4.4 0h1.6m0.4 0h1.6m1.4 0h1.6m7.4 0h1.6m-39.6 1h1.6m4.4 0h1.6m3.4 0h1.6m6.4 0h1.6m0.4 0h1.6m-0.6 0h1.6m-0.6 0h1.6m0.4 0h1.6m1.4 0h1.6m-32.6 1h1.6m-0.6 0h1.6m-0.6 0h1.6m6.4 0h1.6m1.4 0h1.6m-0.6 0h1.6m2.4 0h1.6m-0.6 0h1.6m5.4 0h1.6m0.4 0h1.6m0.4 0h1.6m-0.6 0h1.6m2.4 0h1.6m11.4 0h1.6m-49.6 1h1.6m-0.6 0h1.6m-0.6 0h1.6m3.4 0h1.6m0.4 0h1.6m-0.6 0h1.6m0.4 0h1.6m4.4 0h1.6m0.4 0h1.6m0.4 0h1.6m1.4 0h1.6m0.4 0h1.6m-0.6 0h1.6m1.4 0h1.6m0.4 0h1.6m-42.6 1h1.6m2.4 0h1.6m0.4 0h1.6m-0.6 0h1.6m-0.6 0h1.6m3.4 0h1.6m-0.6 0h1.6m8.4 0h1.6m2.4 0h1.6m7.4 0h1.6m-38.6 1h1.6m4.4 0h1.6m4.4 0h1.6m2.4 0h1.6m3.4 0h1.6m4.4 0h1.6m0.4 0h1.6m3.4 0h1.6m0.4 0h1.6m0.4 0h1.6m-0.6 0h1.6m1.4 0h1.6m-35.6 1h1.6m-0.6 0h1.6m3.4 0h1.6m-0.6 0h1.6m-0.6 0h1.6m-0.6 0h1.6m-0.6 0h1.6m-0.6 0h1.6m4.4 0h1.6m-0.6 0h1.6m6.4 0h1.6m-0.6 0h1.6m-0.6 0h1.6m1.4 0h1.6" stroke="#c4c4c4" stroke-width="1.6" fill="none" shape-rendering="crispEdges"/>
<path d="M418 537.8h1.6m-13.6 4h1.6m2.4 1h1.6m-4.6 4h1.6m0.4 0h1.6m2.4 0h1.6m0.4 0h1.6m1.4 0h1.6m2.4 0h1.6m-24.6 1h1.6m8.4 0h1.6m7.4 0h1.6m-15.6 1h1.6m6.4 0h1.6m4.4 0h1.6m-18.6 1h1.6m-0.6 0h1.6m-0.6 0h1.6m-0.6 0h1.6m3.4 0h1.6m0.4 0h1.6m3.4 0h1.6m-0.6 0h1.6m0.4 0h1.6m-19.6 1h1.6m11.4 0h1.6m-0.6 0h1.6m-11.6 1h1.6m0.4 0h1.6m-19.6 1h1.6m7.4 0h1.6m15.4 0h1.6m-18.6 1h1.6m1.4 0h1.6m-0.6 0h1.6m0.4 0h1.6m-0.6 0h1.6m-0.6 0h1.6m4.4 0h1.6m3.4 0h1.6m-23.6 1h1.6m-0.6 0h1.6m1.4 0h1.6m-0.6 0h1.6m1.4 0h1.6m0.4 0h1.6m1.4 0h1.6m1.4 0h1.6m2.4 0h1.6m-17.6 1h1.6m4.4 0h1.6m0.4 0h1.6m-0.6 0h1.6m5.4 0h1.6m-22.6 1h1.6m0.4 0h1.6m2.4 0h1.6m3.4 0h1.6m0.4 0h1.6m2.4 0h1.6m-23.6 1h1.6m13.4 0h1.6m-0.6 0h1.6m-21.6 1h1.6m1.4 0h1.6m9.4 0h1.6m2.4 0h1.6m-26.6 1h1.6m-0.6 0h1.6m6.4 0h1.6m2.4 0h1.6m6.4 0h1.6m-0.6 0h1.6m-0.6 0h1.6m-0.6 0h1.6m3.4 0h1.6m-34.6 1h1.6m11.4 0h1.6m-0.6 0h1.6m1.4 0h1.6m1.4 0h1.6m-0.6 0h1.6m0.4 0h1.6m0.4 0h1.6m2.4 0h1.6m-19.6 1h1.6m6.4 0h1.6m1.4 0h1.6m1.4 0h1.6m-18.6 1h1.6m0.4 0h1.6m1.4 0h1.6m0.4 0h1.6m-0.6 0h1.6m0.4 0h1.6m-0.6 0h1.6m0.4 0h1.6m3.4 0h1.6m6.4 0h1.6m-26.6 1h1.6m-0.6 0h1.6m-0.6 0h1.6m-0.6 0h1.6m1.4 0h1.6m-0.6 0h1.6m1.4 0h1.6m3.4 0h1.6m-23.6 1h1.6m4.4 0h1.6m-2.6 1h1.6m6.4 0h1.6m0.4 0h1.6m-0.6 0h1.6m3.4 0h1.6" stroke="#b2b2b2" stroke-width="1.6" fill="none" shape-rendering="crispEdges"/>
<path d="M410 544.8h1.6m-1.6 6h1.6m1.4 0h1.6m-15.6 1h1.6m1.4 0h1.6m2.4 0h1.6m2.4 0h1.6m3.4 0h1.6m-14.6 1h1.6m-0.6 0h1.6m8.4 0h1.6m-11.6 1h1.6m2.4 0h1.6m-0.6 0h1.6m-11.6 2h1.6m0.4 0h1.6m4.4 0h1.6m-1.6 1h1.6m-9.6 1h1.6m6.4 0h1.6m-0.6 0h1.6m-18.6 1h1.6m8.4 0h1.6m-0.6 0h1.6m-7.6 1h1.6m-0.6 0h1.6m6.4 0h1.6m-14.6 3h1.6m6.4 0h1.6m-20.6 1h1.6m13.4 0h1.6m0.4 0h1.6m-15.6 1h1.6m2.4 0h1.6m1.4 0h1.6m-0.6 0h1.6m-0.6 0h1.6m2.4 0h1.6m2.4 0h1.6" stroke="#a4a4a4" stroke-width="1.6" fill="none" shape-rendering="crispEdges"/>
<path d="M412 549.8h1.6m-9.6 1h1.6m12.4 0h1.6m-15.6 2h1.6m0.4 0h1.6m0.4 0h1.6m-0.6 0h1.6m-3.6 2h1.6m-7.6 1h1.6m-7.6 1h1.6m5.4 0h1.6m-4.6 1h1.6m-0.6 0h1.6m1.4 0h1.6m-15.6 1h1.6m0.4 0h1.6m4.4 0h1.6m6.4 0h1.6m-8.6 1h1.6m-16.6 1h1.6m8.4 0h1.6m-7.6 1h1.6m3.4 0h1.6m3.4 0h1.6m-19.6 1h1.6m7.4 1h1.6m-16.6 1h1.6m11.4 0h1.6m0.4 0h1.6m4.4 0h1.6" stroke="#989898" stroke-width="1.6" fill="none" shape-rendering="crispEdges"/>
<rect x="363.50" y="480.50" width="110.00" height="87.00" fill="none" stroke="#222" stroke-width="1.0"/>
<line x1="363.50" y1="480.50" x2="363.50" y2="568.00" stroke="#111" stroke-width="1.6"/>
<line x1="363.00" y1="567.50" x2="474.00" y2="567.50" stroke="#111" stroke-width="1.6"/>
<line x1="420.50" y1="480.50" x2="420.50" y2="567.50" stroke="#222" stroke-width="1.2"/>
<line x1="363.50" y1="538.50" x2="473.50" y2="538.50" stroke="#222" stroke-width="1.2"/>
<path d="M363.50 567.50v3.6M363.50 567.50h-3.6M371.78 567.50v2.2M363.50 560.95h-2.2M376.62 567.50v2.2M363.50 557.12h-2.2M380.06 567.50v2.2M363.50 554.41h-2.2M382.72 567.50v2.2M363.50 552.30h-2.2M384.90 567.50v2.2M363.50 550.58h-2.2M386.74 567.50v2.2M363.50 549.12h-2.2M388.33 567.50v2.2M363.50 547.86h-2.2M389.74 567.50v2.2M363.50 546.75h-2.2M391.00 567.50v3.6M363.50 545.75h-3.6M399.28 567.50v2.2M363.50 539.20h-2.2M404.12 567.50v2.2M363.50 535.37h-2.2M407.56 567.50v2.2M363.50 532.66h-2.2M410.22 567.50v2.2M363.50 530.55h-2.2M412.40 567.50v2.2M363.50 528.83h-2.2M414.24 567.50v2.2M363.50 527.37h-2.2M415.83 567.50v2.2M363.50 526.11h-2.2M417.24 567.50v2.2M363.50 525.00h-2.2M418.50 567.50v3.6M363.50 524.00h-3.6M426.78 567.50v2.2M363.50 517.45h-2.2M431.62 567.50v2.2M363.50 513.62h-2.2M435.06 567.50v2.2M363.50 510.91h-2.2M437.72 567.50v2.2M363.50 508.80h-2.2M439.90 567.50v2.2M363.50 507.08h-2.2M441.74 567.50v2.2M363.50 505.62h-2.2M443.33 567.50v2.2M363.50 504.36h-2.2M444.74 567.50v2.2M363.50 503.25h-2.2M446.00 567.50v3.6M363.50 502.25h-3.6M454.28 567.50v2.2M363.50 495.70h-2.2M459.12 567.50v2.2M363.50 491.87h-2.2M462.56 567.50v2.2M363.50 489.16h-2.2M465.22 567.50v2.2M363.50 487.05h-2.2M467.40 567.50v2.2M363.50 485.33h-2.2M469.24 567.50v2.2M363.50 483.87h-2.2M470.83 567.50v2.2M363.50 482.61h-2.2M472.24 567.50v2.2M363.50 481.50h-2.2M473.50 567.50v3.6M363.50 480.50h-3.6" stroke="#111" stroke-width="1.3" fill="none"/>
<text x="354.61" y="584.50" font-size="11.50" font-family='"Liberation Sans",sans-serif'>10</text>
<text x="367.40" y="578.98" font-size="8.97" font-family='"Liberation Sans",sans-serif'>0</text>
<text transform="translate(356.00,576.39) rotate(-90)" font-size="11.50" font-family='"Liberation Sans",sans-serif'>10</text>
<text transform="translate(350.48,563.60) rotate(-90)" font-size="8.97" font-family='"Liberation Sans",sans-serif'>0</text>
<text x="382.11" y="584.50" font-size="11.50" font-family='"Liberation Sans",sans-serif'>10</text>
<text x="394.90" y="578.98" font-size="8.97" font-family='"Liberation Sans",sans-serif'>1</text>
<text transform="translate(356.00,554.64) rotate(-90)" font-size="11.50" font-family='"Liberation Sans",sans-serif'>10</text>
<text transform="translate(350.48,541.85) rotate(-90)" font-size="8.97" font-family='"Liberation Sans",sans-serif'>1</text>
<text x="409.61" y="584.50" font-size="11.50" font-family='"Liberation Sans",sans-serif'>10</text>
<text x="422.40" y="578.98" font-size="8.97" font-family='"Liberation Sans",sans-serif'>2</text>
<text transform="translate(356.00,532.89) rotate(-90)" font-size="11.50" font-family='"Liberation Sans",sans-serif'>10</text>
<text transform="translate(350.48,520.10) rotate(-90)" font-size="8.97" font-family='"Liberation Sans",sans-serif'>2</text>
<text x="437.11" y="584.50" font-size="11.50" font-family='"Liberation Sans",sans-serif'>10</text>
<text x="449.90" y="578.98" font-size="8.97" font-family='"Liberation Sans",sans-serif'>3</text>
<text transform="translate(356.00,511.14) rotate(-90)" font-size="11.50" font-family='"Liberation Sans",sans-serif'>10</text>
<text transform="translate(350.48,498.35) rotate(-90)" font-size="8.97" font-family='"Liberation Sans",sans-serif'>3</text>
<text x="464.61" y="584.50" font-size="11.50" font-family='"Liberation Sans",sans-serif'>10</text>
<text x="477.40" y="578.98" font-size="8.97" font-family='"Liberation Sans",sans-serif'>4</text>
<text transform="translate(356.00,489.39) rotate(-90)" font-size="11.50" font-family='"Liberation Sans",sans-serif'>10</text>
<text transform="translate(350.48,476.60) rotate(-90)" font-size="8.97" font-family='"Liberation Sans",sans-serif'>4</text>
<text x="368.50" y="471.90" font-size="9.20" font-weight="bold" textLength="102.90" lengthAdjust="spacingAndGlyphs">1uM + miR-146a inhibitor</text>
<text x="431.20" y="493.50" font-size="10.50" textLength="37.30" lengthAdjust="spacingAndGlyphs">2.1 ± 0.51</text>
<text x="426.80" y="562.30" font-size="10.50" textLength="38.40" lengthAdjust="spacingAndGlyphs">6.7 ± 1.8#</text>
<text x="431.50" y="505.00" font-size="10.50" textLength="5.00" lengthAdjust="spacingAndGlyphs">#</text>
<text transform="translate(336.00,535.00) rotate(-90)" font-size="10.50" textLength="10.00" lengthAdjust="spacingAndGlyphs">PI</text>
<text x="369.70" y="599.00" font-size="10.00" textLength="67.00" lengthAdjust="spacingAndGlyphs">Annexin V-FITC</text>
<text x="274.24" y="578.94" font-size="9.84">*</text>
<text x="2.30" y="258.50" font-size="11.50" font-weight="bold" textLength="25.30" lengthAdjust="spacingAndGlyphs">BCG</text>
<text x="3.50" y="268.00" font-size="11.50" font-weight="bold" textLength="22.20" lengthAdjust="spacingAndGlyphs">-823</text>
<text x="1.20" y="403.80" font-size="12.00" textLength="24.80" lengthAdjust="spacingAndGlyphs">MGC</text>
<text x="5.00" y="416.00" font-size="12.00" textLength="21.80" lengthAdjust="spacingAndGlyphs">- 803</text>
<text x="0.00" y="554.30" font-size="10.50" textLength="24.80" lengthAdjust="spacingAndGlyphs">SGC-</text>
<text x="4.50" y="564.20" font-size="10.50" textLength="19.10" lengthAdjust="spacingAndGlyphs">7901</text>
<text x="1.80" y="185.30" font-size="23.50" textLength="14.80" lengthAdjust="spacingAndGlyphs" style="stroke-width:0.4px">C</text>
</svg>
</body></html>
